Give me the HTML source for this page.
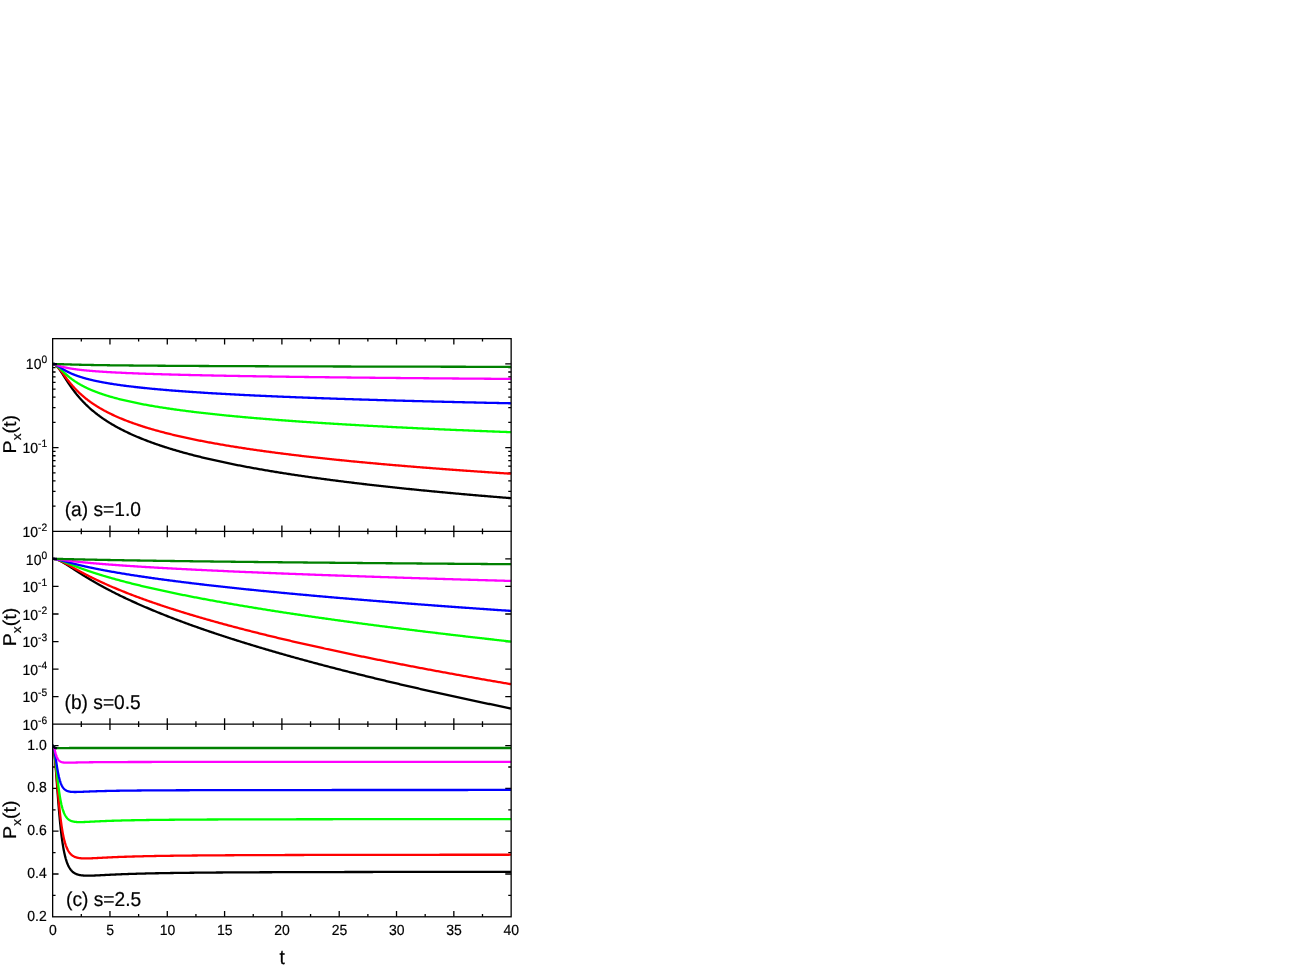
<!DOCTYPE html>
<html><head><meta charset="utf-8"><title>Px(t)</title>
<style>
html,body{margin:0;padding:0;background:#fff;}
body{width:1310px;height:965px;overflow:hidden;position:relative;}
svg{position:absolute;left:0;top:0;display:block;}
text{font-family:"Liberation Sans",sans-serif;fill:#000;stroke:#000;stroke-width:0.2px;}
</style></head>
<body>
<svg width="1310" height="965" viewBox="0 0 1310 965">
<rect x="0" y="0" width="1310" height="965" fill="#ffffff"/>
<defs>
<clipPath id="ca"><rect x="52.65" y="338.65" width="458.5" height="192.70000000000005"/></clipPath>
<clipPath id="cb"><rect x="52.65" y="531.35" width="458.5" height="192.85000000000002"/></clipPath>
<clipPath id="cc"><rect x="52.65" y="724.2" width="458.5" height="192.5999999999999"/></clipPath>
</defs>
<!-- ticks -->
<path d="M81.31,338.65V341.55 M81.31,528.45V534.25 M81.31,721.30V727.10 M81.31,913.90V916.80 M109.96,338.65V344.55 M109.96,525.45V537.25 M109.96,718.30V730.10 M109.96,910.90V916.80 M138.62,338.65V341.55 M138.62,528.45V534.25 M138.62,721.30V727.10 M138.62,913.90V916.80 M167.28,338.65V344.55 M167.28,525.45V537.25 M167.28,718.30V730.10 M167.28,910.90V916.80 M195.93,338.65V341.55 M195.93,528.45V534.25 M195.93,721.30V727.10 M195.93,913.90V916.80 M224.59,338.65V344.55 M224.59,525.45V537.25 M224.59,718.30V730.10 M224.59,910.90V916.80 M253.24,338.65V341.55 M253.24,528.45V534.25 M253.24,721.30V727.10 M253.24,913.90V916.80 M281.90,338.65V344.55 M281.90,525.45V537.25 M281.90,718.30V730.10 M281.90,910.90V916.80 M310.56,338.65V341.55 M310.56,528.45V534.25 M310.56,721.30V727.10 M310.56,913.90V916.80 M339.21,338.65V344.55 M339.21,525.45V537.25 M339.21,718.30V730.10 M339.21,910.90V916.80 M367.87,338.65V341.55 M367.87,528.45V534.25 M367.87,721.30V727.10 M367.87,913.90V916.80 M396.52,338.65V344.55 M396.52,525.45V537.25 M396.52,718.30V730.10 M396.52,910.90V916.80 M425.18,338.65V341.55 M425.18,528.45V534.25 M425.18,721.30V727.10 M425.18,913.90V916.80 M453.84,338.65V344.55 M453.84,525.45V537.25 M453.84,718.30V730.10 M453.84,910.90V916.80 M482.49,338.65V341.55 M482.49,528.45V534.25 M482.49,721.30V727.10 M482.49,913.90V916.80 M52.65,363.86H58.55 M505.25,363.86H511.15 M52.65,447.61H58.55 M505.25,447.61H511.15 M52.65,422.40H55.55 M508.25,422.40H511.15 M52.65,407.65H55.55 M508.25,407.65H511.15 M52.65,397.19H55.55 M508.25,397.19H511.15 M52.65,389.07H55.55 M508.25,389.07H511.15 M52.65,382.44H55.55 M508.25,382.44H511.15 M52.65,376.83H55.55 M508.25,376.83H511.15 M52.65,371.98H55.55 M508.25,371.98H511.15 M52.65,367.69H55.55 M508.25,367.69H511.15 M52.65,506.15H55.55 M508.25,506.15H511.15 M52.65,491.40H55.55 M508.25,491.40H511.15 M52.65,480.94H55.55 M508.25,480.94H511.15 M52.65,472.82H55.55 M508.25,472.82H511.15 M52.65,466.19H55.55 M508.25,466.19H511.15 M52.65,460.58H55.55 M508.25,460.58H511.15 M52.65,455.73H55.55 M508.25,455.73H511.15 M52.65,451.44H55.55 M508.25,451.44H511.15 M52.65,558.90H58.55 M505.25,558.90H511.15 M52.65,586.45H58.55 M505.25,586.45H511.15 M52.65,614.00H58.55 M505.25,614.00H511.15 M52.65,641.55H58.55 M505.25,641.55H511.15 M52.65,669.10H58.55 M505.25,669.10H511.15 M52.65,696.65H58.55 M505.25,696.65H511.15 M52.65,895.40H55.55 M508.25,895.40H511.15 M52.65,874.00H58.55 M505.25,874.00H511.15 M52.65,852.60H55.55 M508.25,852.60H511.15 M52.65,831.20H58.55 M505.25,831.20H511.15 M52.65,809.80H55.55 M508.25,809.80H511.15 M52.65,788.40H58.55 M505.25,788.40H511.15 M52.65,767.00H55.55 M508.25,767.00H511.15 M52.65,745.60H58.55 M505.25,745.60H511.15" stroke="#000" stroke-width="1.3" fill="none"/>
<!-- curves -->
<g clip-path="url(#ca)" fill="none" stroke-width="2.3" stroke-linejoin="round">
<path d="M52.65,364.01 L52.94,364.02 L53.22,364.05 L53.51,364.11 L53.80,364.19 L54.08,364.29 L54.37,364.41 L54.66,364.55 L54.94,364.71 L55.23,364.89 L55.52,365.09 L55.80,365.31 L56.09,365.55 L56.38,365.80 L56.66,366.07 L56.95,366.36 L57.23,366.66 L57.52,366.98 L57.81,367.30 L58.09,367.64 L58.38,368.00 L58.67,368.36 L58.95,368.73 L59.24,369.12 L59.53,369.51 L59.81,369.91 L60.10,370.31 L60.39,370.73 L60.67,371.15 L60.96,371.57 L61.25,372.00 L61.53,372.43 L61.82,372.87 L62.11,373.31 L62.39,373.75 L62.68,374.20 L62.97,374.65 L63.25,375.09 L63.54,375.54 L63.83,375.99 L64.11,376.45 L64.40,376.90 L64.69,377.35 L64.97,377.80 L65.26,378.25 L65.55,378.70 L65.83,379.14 L66.12,379.59 L66.41,380.03 L66.69,380.48 L66.98,380.92 L67.26,381.36 L67.55,381.80 L67.84,382.23 L68.12,382.67 L68.41,383.10 L68.70,383.53 L68.98,383.95 L69.27,384.38 L69.56,384.80 L69.84,385.22 L70.13,385.64 L70.42,386.05 L70.70,386.46 L70.99,386.87 L71.28,387.28 L71.56,387.68 L71.85,388.08 L72.14,388.48 L72.42,388.87 L72.71,389.26 L73.00,389.65 L73.28,390.04 L73.57,390.42 L73.86,390.80 L74.14,391.18 L74.43,391.56 L74.72,391.93 L75.00,392.30 L75.29,392.67 L75.58,393.03 L75.86,393.39 L76.15,393.75 L76.43,394.11 L76.72,394.46 L77.01,394.81 L77.29,395.16 L77.58,395.51 L77.87,395.85 L78.15,396.19 L78.44,396.53 L78.73,396.87 L79.01,397.20 L79.30,397.53 L79.59,397.86 L79.87,398.19 L80.16,398.51 L80.45,398.83 L80.73,399.15 L81.02,399.47 L81.31,399.78 L81.59,400.10 L81.88,400.41 L82.17,400.71 L82.45,401.02 L82.74,401.32 L83.03,401.63 L83.31,401.92 L83.60,402.22 L83.89,402.52 L84.17,402.81 L84.46,403.10 L84.75,403.39 L85.03,403.68 L85.32,403.96 L85.60,404.25 L85.89,404.53 L86.18,404.81 L86.46,405.08 L86.75,405.36 L87.04,405.63 L87.32,405.91 L87.61,406.18 L87.90,406.44 L88.18,406.71 L88.47,406.98 L88.76,407.24 L89.04,407.50 L89.33,407.76 L89.62,408.02 L89.90,408.28 L90.19,408.53 L90.48,408.78 L90.76,409.04 L91.05,409.29 L91.34,409.54 L91.62,409.78 L91.91,410.03 L92.20,410.27 L92.48,410.52 L92.77,410.76 L93.06,411.00 L93.34,411.23 L93.63,411.47 L93.91,411.71 L94.20,411.94 L94.49,412.17 L94.77,412.41 L95.06,412.64 L95.35,412.86 L95.63,413.09 L95.92,413.32 L96.21,413.54 L96.49,413.77 L96.78,413.99 L97.07,414.21 L97.35,414.43 L97.64,414.65 L97.93,414.86 L98.21,415.08 L98.50,415.30 L98.79,415.51 L99.07,415.72 L99.36,415.93 L99.65,416.14 L99.93,416.35 L100.22,416.56 L100.51,416.77 L100.79,416.97 L101.08,417.18 L101.37,417.38 L101.65,417.58 L101.94,417.79 L102.23,417.99 L102.51,418.19 L102.80,418.38 L103.09,418.58 L103.37,418.78 L103.66,418.97 L103.94,419.17 L104.23,419.36 L104.52,419.55 L104.80,419.74 L105.09,419.94 L105.38,420.12 L105.66,420.31 L105.95,420.50 L106.24,420.69 L106.52,420.87 L106.81,421.06 L107.10,421.24 L107.38,421.43 L107.67,421.61 L107.96,421.79 L108.24,421.97 L108.53,422.15 L108.82,422.33 L109.10,422.51 L109.39,422.68 L109.68,422.86 L109.96,423.04 L111.11,423.73 L112.25,424.41 L113.40,425.08 L114.55,425.74 L115.69,426.39 L116.84,427.03 L117.99,427.65 L119.13,428.27 L120.28,428.87 L121.43,429.47 L122.57,430.05 L123.72,430.63 L124.86,431.20 L126.01,431.76 L127.16,432.31 L128.30,432.86 L129.45,433.39 L130.59,433.92 L131.74,434.44 L132.89,434.96 L134.03,435.46 L135.18,435.96 L136.33,436.46 L137.47,436.95 L138.62,437.43 L139.76,437.90 L140.91,438.37 L142.06,438.83 L143.20,439.29 L144.35,439.74 L145.50,440.19 L146.64,440.63 L147.79,441.06 L148.93,441.49 L150.08,441.92 L151.23,442.34 L152.37,442.76 L153.52,443.17 L154.67,443.57 L155.81,443.98 L156.96,444.38 L158.10,444.77 L159.25,445.16 L160.40,445.54 L161.54,445.93 L162.69,446.30 L163.84,446.68 L164.98,447.05 L166.13,447.41 L167.28,447.78 L168.42,448.14 L169.57,448.49 L170.71,448.85 L171.86,449.19 L173.01,449.54 L174.15,449.88 L175.30,450.22 L176.44,450.56 L177.59,450.89 L178.74,451.22 L179.88,451.55 L181.03,451.87 L182.18,452.20 L183.32,452.52 L184.47,452.83 L185.61,453.14 L186.76,453.46 L187.91,453.76 L189.05,454.07 L190.20,454.37 L191.35,454.67 L192.49,454.97 L193.64,455.27 L194.78,455.56 L195.93,455.85 L197.08,456.14 L198.22,456.43 L199.37,456.71 L200.52,456.99 L201.66,457.27 L202.81,457.55 L203.96,457.83 L205.10,458.10 L206.25,458.37 L207.39,458.64 L208.54,458.91 L209.69,459.18 L210.83,459.44 L211.98,459.70 L213.12,459.96 L214.27,460.22 L215.42,460.48 L216.56,460.73 L217.71,460.98 L218.86,461.24 L220.00,461.49 L221.15,461.73 L222.29,461.98 L223.44,462.22 L224.59,462.47 L225.73,462.71 L226.88,462.95 L228.03,463.19 L229.17,463.42 L230.32,463.66 L231.47,463.89 L232.61,464.12 L233.76,464.35 L234.90,464.58 L236.05,464.81 L237.20,465.04 L238.34,465.26 L239.49,465.49 L240.63,465.71 L241.78,465.93 L242.93,466.15 L244.07,466.37 L245.22,466.58 L246.37,466.80 L247.51,467.01 L248.66,467.23 L249.81,467.44 L250.95,467.65 L252.10,467.86 L253.24,468.07 L254.39,468.28 L255.54,468.48 L256.68,468.69 L257.83,468.89 L258.97,469.09 L260.12,469.29 L261.27,469.49 L262.41,469.69 L263.56,469.89 L264.71,470.09 L265.85,470.29 L267.00,470.48 L268.14,470.67 L269.29,470.87 L270.44,471.06 L271.58,471.25 L272.73,471.44 L273.88,471.63 L275.02,471.82 L276.17,472.00 L277.31,472.19 L278.46,472.38 L279.61,472.56 L280.75,472.74 L281.90,472.93 L283.05,473.11 L284.19,473.29 L285.34,473.47 L286.48,473.65 L287.63,473.82 L288.78,474.00 L289.92,474.18 L291.07,474.35 L292.22,474.53 L293.36,474.70 L294.51,474.87 L295.65,475.05 L296.80,475.22 L297.95,475.39 L299.09,475.56 L300.24,475.73 L301.39,475.89 L302.53,476.06 L303.68,476.23 L304.82,476.39 L305.97,476.56 L307.12,476.72 L308.26,476.89 L309.41,477.05 L310.56,477.21 L311.70,477.37 L312.85,477.53 L313.99,477.69 L315.14,477.85 L316.29,478.01 L317.43,478.17 L318.58,478.33 L319.73,478.48 L320.87,478.64 L322.02,478.80 L323.16,478.95 L324.31,479.10 L325.46,479.26 L326.60,479.41 L327.75,479.56 L328.90,479.71 L330.04,479.86 L331.19,480.02 L332.33,480.16 L333.48,480.31 L334.63,480.46 L335.77,480.61 L336.92,480.76 L338.07,480.90 L339.21,481.05 L340.36,481.19 L341.50,481.34 L342.65,481.48 L343.80,481.63 L344.94,481.77 L346.09,481.91 L347.24,482.06 L348.38,482.20 L349.53,482.34 L350.67,482.48 L351.82,482.62 L352.97,482.76 L354.11,482.90 L355.26,483.03 L356.41,483.17 L357.55,483.31 L358.70,483.45 L359.84,483.58 L360.99,483.72 L362.14,483.85 L363.28,483.99 L364.43,484.12 L365.58,484.26 L366.72,484.39 L367.87,484.52 L369.01,484.65 L370.16,484.79 L371.31,484.92 L372.45,485.05 L373.60,485.18 L374.75,485.31 L375.89,485.44 L377.04,485.57 L378.18,485.69 L379.33,485.82 L380.48,485.95 L381.62,486.08 L382.77,486.20 L383.92,486.33 L385.06,486.46 L386.21,486.58 L387.35,486.71 L388.50,486.83 L389.65,486.96 L390.79,487.08 L391.94,487.20 L393.09,487.33 L394.23,487.45 L395.38,487.57 L396.52,487.69 L397.67,487.81 L398.82,487.93 L399.96,488.05 L401.11,488.17 L402.26,488.29 L403.40,488.41 L404.55,488.53 L405.69,488.65 L406.84,488.77 L407.99,488.89 L409.13,489.00 L410.28,489.12 L411.43,489.24 L412.57,489.35 L413.72,489.47 L414.86,489.59 L416.01,489.70 L417.16,489.82 L418.30,489.93 L419.45,490.04 L420.60,490.16 L421.74,490.27 L422.89,490.38 L424.03,490.50 L425.18,490.61 L426.33,490.72 L427.47,490.83 L428.62,490.94 L429.77,491.05 L430.91,491.16 L432.06,491.28 L433.20,491.39 L434.35,491.49 L435.50,491.60 L436.64,491.71 L437.79,491.82 L438.94,491.93 L440.08,492.04 L441.23,492.15 L442.38,492.25 L443.52,492.36 L444.67,492.47 L445.81,492.57 L446.96,492.68 L448.11,492.79 L449.25,492.89 L450.40,493.00 L451.54,493.10 L452.69,493.21 L453.84,493.31 L454.98,493.41 L456.13,493.52 L457.28,493.62 L458.42,493.72 L459.57,493.83 L460.71,493.93 L461.86,494.03 L463.01,494.13 L464.15,494.24 L465.30,494.34 L466.45,494.44 L467.59,494.54 L468.74,494.64 L469.88,494.74 L471.03,494.84 L472.18,494.94 L473.32,495.04 L474.47,495.14 L475.62,495.24 L476.76,495.34 L477.91,495.43 L479.05,495.53 L480.20,495.63 L481.35,495.73 L482.49,495.82 L483.64,495.92 L484.79,496.02 L485.93,496.12 L487.08,496.21 L488.22,496.31 L489.37,496.40 L490.52,496.50 L491.66,496.59 L492.81,496.69 L493.96,496.78 L495.10,496.88 L496.25,496.97 L497.39,497.07 L498.54,497.16 L499.69,497.25 L500.83,497.35 L501.98,497.44 L503.13,497.53 L504.27,497.63 L505.42,497.72 L506.57,497.81 L507.71,497.90 L508.86,497.99 L510.00,498.09 L511.15,498.18" stroke="#000000"/>
<path d="M52.65,364.01 L52.94,364.02 L53.22,364.05 L53.51,364.10 L53.80,364.18 L54.08,364.27 L54.37,364.38 L54.66,364.51 L54.94,364.66 L55.23,364.83 L55.52,365.02 L55.80,365.22 L56.09,365.44 L56.38,365.68 L56.66,365.93 L56.95,366.19 L57.23,366.47 L57.52,366.76 L57.81,367.06 L58.09,367.37 L58.38,367.69 L58.67,368.02 L58.95,368.36 L59.24,368.70 L59.53,369.05 L59.81,369.41 L60.10,369.78 L60.39,370.14 L60.67,370.52 L60.96,370.89 L61.25,371.27 L61.53,371.66 L61.82,372.04 L62.11,372.43 L62.39,372.82 L62.68,373.21 L62.97,373.60 L63.25,373.99 L63.54,374.38 L63.83,374.77 L64.11,375.16 L64.40,375.55 L64.69,375.94 L64.97,376.32 L65.26,376.71 L65.55,377.10 L65.83,377.48 L66.12,377.86 L66.41,378.24 L66.69,378.62 L66.98,378.99 L67.26,379.37 L67.55,379.74 L67.84,380.11 L68.12,380.48 L68.41,380.84 L68.70,381.20 L68.98,381.56 L69.27,381.92 L69.56,382.27 L69.84,382.62 L70.13,382.97 L70.42,383.32 L70.70,383.67 L70.99,384.01 L71.28,384.35 L71.56,384.68 L71.85,385.02 L72.14,385.35 L72.42,385.68 L72.71,386.00 L73.00,386.32 L73.28,386.65 L73.57,386.96 L73.86,387.28 L74.14,387.59 L74.43,387.90 L74.72,388.21 L75.00,388.52 L75.29,388.82 L75.58,389.12 L75.86,389.42 L76.15,389.72 L76.43,390.01 L76.72,390.30 L77.01,390.59 L77.29,390.88 L77.58,391.16 L77.87,391.44 L78.15,391.72 L78.44,392.00 L78.73,392.28 L79.01,392.55 L79.30,392.82 L79.59,393.09 L79.87,393.36 L80.16,393.62 L80.45,393.89 L80.73,394.15 L81.02,394.41 L81.31,394.66 L81.59,394.92 L81.88,395.17 L82.17,395.42 L82.45,395.67 L82.74,395.92 L83.03,396.17 L83.31,396.41 L83.60,396.65 L83.89,396.89 L84.17,397.13 L84.46,397.37 L84.75,397.61 L85.03,397.84 L85.32,398.07 L85.60,398.30 L85.89,398.53 L86.18,398.76 L86.46,398.98 L86.75,399.21 L87.04,399.43 L87.32,399.65 L87.61,399.87 L87.90,400.09 L88.18,400.31 L88.47,400.52 L88.76,400.73 L89.04,400.95 L89.33,401.16 L89.62,401.37 L89.90,401.58 L90.19,401.78 L90.48,401.99 L90.76,402.19 L91.05,402.40 L91.34,402.60 L91.62,402.80 L91.91,403.00 L92.20,403.19 L92.48,403.39 L92.77,403.59 L93.06,403.78 L93.34,403.97 L93.63,404.16 L93.91,404.35 L94.20,404.54 L94.49,404.73 L94.77,404.92 L95.06,405.11 L95.35,405.29 L95.63,405.47 L95.92,405.66 L96.21,405.84 L96.49,406.02 L96.78,406.20 L97.07,406.38 L97.35,406.56 L97.64,406.73 L97.93,406.91 L98.21,407.08 L98.50,407.26 L98.79,407.43 L99.07,407.60 L99.36,407.77 L99.65,407.94 L99.93,408.11 L100.22,408.28 L100.51,408.44 L100.79,408.61 L101.08,408.77 L101.37,408.94 L101.65,409.10 L101.94,409.26 L102.23,409.43 L102.51,409.59 L102.80,409.75 L103.09,409.91 L103.37,410.06 L103.66,410.22 L103.94,410.38 L104.23,410.54 L104.52,410.69 L104.80,410.84 L105.09,411.00 L105.38,411.15 L105.66,411.30 L105.95,411.45 L106.24,411.60 L106.52,411.75 L106.81,411.90 L107.10,412.05 L107.38,412.20 L107.67,412.35 L107.96,412.49 L108.24,412.64 L108.53,412.78 L108.82,412.93 L109.10,413.07 L109.39,413.21 L109.68,413.36 L109.96,413.50 L111.11,414.06 L112.25,414.60 L113.40,415.14 L114.55,415.67 L115.69,416.19 L116.84,416.71 L117.99,417.21 L119.13,417.70 L120.28,418.19 L121.43,418.67 L122.57,419.14 L123.72,419.60 L124.86,420.06 L126.01,420.51 L127.16,420.96 L128.30,421.39 L129.45,421.82 L130.59,422.25 L131.74,422.67 L132.89,423.08 L134.03,423.49 L135.18,423.89 L136.33,424.28 L137.47,424.67 L138.62,425.06 L139.76,425.44 L140.91,425.82 L142.06,426.19 L143.20,426.56 L144.35,426.92 L145.50,427.28 L146.64,427.63 L147.79,427.98 L148.93,428.32 L150.08,428.67 L151.23,429.00 L152.37,429.34 L153.52,429.67 L154.67,429.99 L155.81,430.32 L156.96,430.63 L158.10,430.95 L159.25,431.26 L160.40,431.57 L161.54,431.88 L162.69,432.18 L163.84,432.48 L164.98,432.78 L166.13,433.07 L167.28,433.36 L168.42,433.65 L169.57,433.94 L170.71,434.22 L171.86,434.50 L173.01,434.78 L174.15,435.05 L175.30,435.32 L176.44,435.59 L177.59,435.86 L178.74,436.12 L179.88,436.39 L181.03,436.65 L182.18,436.90 L183.32,437.16 L184.47,437.41 L185.61,437.66 L186.76,437.91 L187.91,438.16 L189.05,438.40 L190.20,438.65 L191.35,438.89 L192.49,439.13 L193.64,439.36 L194.78,439.60 L195.93,439.83 L197.08,440.06 L198.22,440.29 L199.37,440.52 L200.52,440.75 L201.66,440.97 L202.81,441.19 L203.96,441.41 L205.10,441.63 L206.25,441.85 L207.39,442.07 L208.54,442.28 L209.69,442.50 L210.83,442.71 L211.98,442.92 L213.12,443.13 L214.27,443.33 L215.42,443.54 L216.56,443.74 L217.71,443.94 L218.86,444.15 L220.00,444.35 L221.15,444.54 L222.29,444.74 L223.44,444.94 L224.59,445.13 L225.73,445.32 L226.88,445.52 L228.03,445.71 L229.17,445.90 L230.32,446.09 L231.47,446.27 L232.61,446.46 L233.76,446.64 L234.90,446.83 L236.05,447.01 L237.20,447.19 L238.34,447.37 L239.49,447.55 L240.63,447.73 L241.78,447.90 L242.93,448.08 L244.07,448.26 L245.22,448.43 L246.37,448.60 L247.51,448.77 L248.66,448.94 L249.81,449.11 L250.95,449.28 L252.10,449.45 L253.24,449.62 L254.39,449.78 L255.54,449.95 L256.68,450.11 L257.83,450.28 L258.97,450.44 L260.12,450.60 L261.27,450.76 L262.41,450.92 L263.56,451.08 L264.71,451.24 L265.85,451.39 L267.00,451.55 L268.14,451.70 L269.29,451.86 L270.44,452.01 L271.58,452.17 L272.73,452.32 L273.88,452.47 L275.02,452.62 L276.17,452.77 L277.31,452.92 L278.46,453.07 L279.61,453.21 L280.75,453.36 L281.90,453.51 L283.05,453.65 L284.19,453.80 L285.34,453.94 L286.48,454.08 L287.63,454.23 L288.78,454.37 L289.92,454.51 L291.07,454.65 L292.22,454.79 L293.36,454.93 L294.51,455.07 L295.65,455.20 L296.80,455.34 L297.95,455.48 L299.09,455.61 L300.24,455.75 L301.39,455.88 L302.53,456.02 L303.68,456.15 L304.82,456.28 L305.97,456.42 L307.12,456.55 L308.26,456.68 L309.41,456.81 L310.56,456.94 L311.70,457.07 L312.85,457.20 L313.99,457.33 L315.14,457.45 L316.29,457.58 L317.43,457.71 L318.58,457.83 L319.73,457.96 L320.87,458.08 L322.02,458.21 L323.16,458.33 L324.31,458.45 L325.46,458.58 L326.60,458.70 L327.75,458.82 L328.90,458.94 L330.04,459.06 L331.19,459.18 L332.33,459.30 L333.48,459.42 L334.63,459.54 L335.77,459.66 L336.92,459.78 L338.07,459.89 L339.21,460.01 L340.36,460.13 L341.50,460.24 L342.65,460.36 L343.80,460.47 L344.94,460.59 L346.09,460.70 L347.24,460.82 L348.38,460.93 L349.53,461.04 L350.67,461.15 L351.82,461.27 L352.97,461.38 L354.11,461.49 L355.26,461.60 L356.41,461.71 L357.55,461.82 L358.70,461.93 L359.84,462.04 L360.99,462.15 L362.14,462.26 L363.28,462.36 L364.43,462.47 L365.58,462.58 L366.72,462.68 L367.87,462.79 L369.01,462.90 L370.16,463.00 L371.31,463.11 L372.45,463.21 L373.60,463.32 L374.75,463.42 L375.89,463.52 L377.04,463.63 L378.18,463.73 L379.33,463.83 L380.48,463.93 L381.62,464.04 L382.77,464.14 L383.92,464.24 L385.06,464.34 L386.21,464.44 L387.35,464.54 L388.50,464.64 L389.65,464.74 L390.79,464.84 L391.94,464.94 L393.09,465.04 L394.23,465.13 L395.38,465.23 L396.52,465.33 L397.67,465.43 L398.82,465.52 L399.96,465.62 L401.11,465.71 L402.26,465.81 L403.40,465.91 L404.55,466.00 L405.69,466.10 L406.84,466.19 L407.99,466.29 L409.13,466.38 L410.28,466.47 L411.43,466.57 L412.57,466.66 L413.72,466.75 L414.86,466.84 L416.01,466.94 L417.16,467.03 L418.30,467.12 L419.45,467.21 L420.60,467.30 L421.74,467.39 L422.89,467.48 L424.03,467.57 L425.18,467.66 L426.33,467.75 L427.47,467.84 L428.62,467.93 L429.77,468.02 L430.91,468.11 L432.06,468.20 L433.20,468.29 L434.35,468.37 L435.50,468.46 L436.64,468.55 L437.79,468.63 L438.94,468.72 L440.08,468.81 L441.23,468.89 L442.38,468.98 L443.52,469.07 L444.67,469.15 L445.81,469.24 L446.96,469.32 L448.11,469.41 L449.25,469.49 L450.40,469.57 L451.54,469.66 L452.69,469.74 L453.84,469.83 L454.98,469.91 L456.13,469.99 L457.28,470.07 L458.42,470.16 L459.57,470.24 L460.71,470.32 L461.86,470.40 L463.01,470.49 L464.15,470.57 L465.30,470.65 L466.45,470.73 L467.59,470.81 L468.74,470.89 L469.88,470.97 L471.03,471.05 L472.18,471.13 L473.32,471.21 L474.47,471.29 L475.62,471.37 L476.76,471.45 L477.91,471.53 L479.05,471.60 L480.20,471.68 L481.35,471.76 L482.49,471.84 L483.64,471.92 L484.79,471.99 L485.93,472.07 L487.08,472.15 L488.22,472.23 L489.37,472.30 L490.52,472.38 L491.66,472.46 L492.81,472.53 L493.96,472.61 L495.10,472.68 L496.25,472.76 L497.39,472.83 L498.54,472.91 L499.69,472.98 L500.83,473.06 L501.98,473.13 L503.13,473.21 L504.27,473.28 L505.42,473.36 L506.57,473.43 L507.71,473.50 L508.86,473.58 L510.00,473.65 L511.15,473.72" stroke="#ff0000"/>
<path d="M52.65,364.01 L52.94,364.02 L53.22,364.05 L53.51,364.09 L53.80,364.16 L54.08,364.24 L54.37,364.33 L54.66,364.45 L54.94,364.58 L55.23,364.72 L55.52,364.88 L55.80,365.05 L56.09,365.24 L56.38,365.43 L56.66,365.64 L56.95,365.86 L57.23,366.08 L57.52,366.32 L57.81,366.56 L58.09,366.81 L58.38,367.06 L58.67,367.32 L58.95,367.59 L59.24,367.85 L59.53,368.12 L59.81,368.40 L60.10,368.68 L60.39,368.95 L60.67,369.23 L60.96,369.51 L61.25,369.79 L61.53,370.07 L61.82,370.35 L62.11,370.64 L62.39,370.92 L62.68,371.19 L62.97,371.47 L63.25,371.75 L63.54,372.02 L63.83,372.30 L64.11,372.57 L64.40,372.84 L64.69,373.11 L64.97,373.38 L65.26,373.64 L65.55,373.90 L65.83,374.16 L66.12,374.42 L66.41,374.68 L66.69,374.93 L66.98,375.18 L67.26,375.43 L67.55,375.68 L67.84,375.92 L68.12,376.17 L68.41,376.41 L68.70,376.65 L68.98,376.88 L69.27,377.11 L69.56,377.35 L69.84,377.57 L70.13,377.80 L70.42,378.03 L70.70,378.25 L70.99,378.47 L71.28,378.69 L71.56,378.90 L71.85,379.12 L72.14,379.33 L72.42,379.54 L72.71,379.74 L73.00,379.95 L73.28,380.15 L73.57,380.36 L73.86,380.56 L74.14,380.75 L74.43,380.95 L74.72,381.14 L75.00,381.34 L75.29,381.53 L75.58,381.71 L75.86,381.90 L76.15,382.09 L76.43,382.27 L76.72,382.45 L77.01,382.63 L77.29,382.81 L77.58,382.99 L77.87,383.16 L78.15,383.34 L78.44,383.51 L78.73,383.68 L79.01,383.85 L79.30,384.02 L79.59,384.18 L79.87,384.35 L80.16,384.51 L80.45,384.68 L80.73,384.84 L81.02,385.00 L81.31,385.15 L81.59,385.31 L81.88,385.47 L82.17,385.62 L82.45,385.77 L82.74,385.93 L83.03,386.08 L83.31,386.23 L83.60,386.37 L83.89,386.52 L84.17,386.67 L84.46,386.81 L84.75,386.96 L85.03,387.10 L85.32,387.24 L85.60,387.38 L85.89,387.52 L86.18,387.66 L86.46,387.80 L86.75,387.93 L87.04,388.07 L87.32,388.20 L87.61,388.34 L87.90,388.47 L88.18,388.60 L88.47,388.73 L88.76,388.86 L89.04,388.99 L89.33,389.12 L89.62,389.24 L89.90,389.37 L90.19,389.49 L90.48,389.62 L90.76,389.74 L91.05,389.87 L91.34,389.99 L91.62,390.11 L91.91,390.23 L92.20,390.35 L92.48,390.47 L92.77,390.58 L93.06,390.70 L93.34,390.82 L93.63,390.93 L93.91,391.05 L94.20,391.16 L94.49,391.28 L94.77,391.39 L95.06,391.50 L95.35,391.61 L95.63,391.72 L95.92,391.83 L96.21,391.94 L96.49,392.05 L96.78,392.16 L97.07,392.27 L97.35,392.37 L97.64,392.48 L97.93,392.58 L98.21,392.69 L98.50,392.79 L98.79,392.90 L99.07,393.00 L99.36,393.10 L99.65,393.20 L99.93,393.31 L100.22,393.41 L100.51,393.51 L100.79,393.61 L101.08,393.70 L101.37,393.80 L101.65,393.90 L101.94,394.00 L102.23,394.10 L102.51,394.19 L102.80,394.29 L103.09,394.38 L103.37,394.48 L103.66,394.57 L103.94,394.67 L104.23,394.76 L104.52,394.85 L104.80,394.94 L105.09,395.04 L105.38,395.13 L105.66,395.22 L105.95,395.31 L106.24,395.40 L106.52,395.49 L106.81,395.58 L107.10,395.67 L107.38,395.75 L107.67,395.84 L107.96,395.93 L108.24,396.02 L108.53,396.10 L108.82,396.19 L109.10,396.27 L109.39,396.36 L109.68,396.45 L109.96,396.53 L111.11,396.86 L112.25,397.19 L113.40,397.51 L114.55,397.83 L115.69,398.14 L116.84,398.44 L117.99,398.74 L119.13,399.04 L120.28,399.33 L121.43,399.61 L122.57,399.89 L123.72,400.17 L124.86,400.44 L126.01,400.71 L127.16,400.97 L128.30,401.23 L129.45,401.49 L130.59,401.74 L131.74,401.99 L132.89,402.23 L134.03,402.47 L135.18,402.71 L136.33,402.95 L137.47,403.18 L138.62,403.41 L139.76,403.64 L140.91,403.86 L142.06,404.08 L143.20,404.30 L144.35,404.51 L145.50,404.72 L146.64,404.93 L147.79,405.14 L148.93,405.34 L150.08,405.55 L151.23,405.75 L152.37,405.94 L153.52,406.14 L154.67,406.33 L155.81,406.52 L156.96,406.71 L158.10,406.90 L159.25,407.09 L160.40,407.27 L161.54,407.45 L162.69,407.63 L163.84,407.81 L164.98,407.98 L166.13,408.16 L167.28,408.33 L168.42,408.50 L169.57,408.67 L170.71,408.84 L171.86,409.00 L173.01,409.17 L174.15,409.33 L175.30,409.49 L176.44,409.65 L177.59,409.81 L178.74,409.96 L179.88,410.12 L181.03,410.27 L182.18,410.43 L183.32,410.58 L184.47,410.73 L185.61,410.88 L186.76,411.02 L187.91,411.17 L189.05,411.31 L190.20,411.46 L191.35,411.60 L192.49,411.74 L193.64,411.88 L194.78,412.02 L195.93,412.16 L197.08,412.30 L198.22,412.43 L199.37,412.57 L200.52,412.70 L201.66,412.83 L202.81,412.96 L203.96,413.09 L205.10,413.22 L206.25,413.35 L207.39,413.48 L208.54,413.61 L209.69,413.73 L210.83,413.86 L211.98,413.98 L213.12,414.11 L214.27,414.23 L215.42,414.35 L216.56,414.47 L217.71,414.59 L218.86,414.71 L220.00,414.83 L221.15,414.94 L222.29,415.06 L223.44,415.18 L224.59,415.29 L225.73,415.41 L226.88,415.52 L228.03,415.63 L229.17,415.74 L230.32,415.86 L231.47,415.97 L232.61,416.08 L233.76,416.19 L234.90,416.29 L236.05,416.40 L237.20,416.51 L238.34,416.62 L239.49,416.72 L240.63,416.83 L241.78,416.93 L242.93,417.04 L244.07,417.14 L245.22,417.24 L246.37,417.34 L247.51,417.44 L248.66,417.55 L249.81,417.65 L250.95,417.75 L252.10,417.84 L253.24,417.94 L254.39,418.04 L255.54,418.14 L256.68,418.24 L257.83,418.33 L258.97,418.43 L260.12,418.52 L261.27,418.62 L262.41,418.71 L263.56,418.81 L264.71,418.90 L265.85,418.99 L267.00,419.08 L268.14,419.18 L269.29,419.27 L270.44,419.36 L271.58,419.45 L272.73,419.54 L273.88,419.63 L275.02,419.72 L276.17,419.81 L277.31,419.89 L278.46,419.98 L279.61,420.07 L280.75,420.16 L281.90,420.24 L283.05,420.33 L284.19,420.41 L285.34,420.50 L286.48,420.58 L287.63,420.67 L288.78,420.75 L289.92,420.83 L291.07,420.92 L292.22,421.00 L293.36,421.08 L294.51,421.16 L295.65,421.25 L296.80,421.33 L297.95,421.41 L299.09,421.49 L300.24,421.57 L301.39,421.65 L302.53,421.73 L303.68,421.80 L304.82,421.88 L305.97,421.96 L307.12,422.04 L308.26,422.12 L309.41,422.19 L310.56,422.27 L311.70,422.35 L312.85,422.42 L313.99,422.50 L315.14,422.57 L316.29,422.65 L317.43,422.72 L318.58,422.80 L319.73,422.87 L320.87,422.95 L322.02,423.02 L323.16,423.09 L324.31,423.16 L325.46,423.24 L326.60,423.31 L327.75,423.38 L328.90,423.45 L330.04,423.52 L331.19,423.60 L332.33,423.67 L333.48,423.74 L334.63,423.81 L335.77,423.88 L336.92,423.95 L338.07,424.02 L339.21,424.08 L340.36,424.15 L341.50,424.22 L342.65,424.29 L343.80,424.36 L344.94,424.43 L346.09,424.49 L347.24,424.56 L348.38,424.63 L349.53,424.69 L350.67,424.76 L351.82,424.83 L352.97,424.89 L354.11,424.96 L355.26,425.02 L356.41,425.09 L357.55,425.15 L358.70,425.22 L359.84,425.28 L360.99,425.35 L362.14,425.41 L363.28,425.47 L364.43,425.54 L365.58,425.60 L366.72,425.66 L367.87,425.73 L369.01,425.79 L370.16,425.85 L371.31,425.91 L372.45,425.97 L373.60,426.04 L374.75,426.10 L375.89,426.16 L377.04,426.22 L378.18,426.28 L379.33,426.34 L380.48,426.40 L381.62,426.46 L382.77,426.52 L383.92,426.58 L385.06,426.64 L386.21,426.70 L387.35,426.76 L388.50,426.82 L389.65,426.88 L390.79,426.94 L391.94,426.99 L393.09,427.05 L394.23,427.11 L395.38,427.17 L396.52,427.23 L397.67,427.28 L398.82,427.34 L399.96,427.40 L401.11,427.45 L402.26,427.51 L403.40,427.57 L404.55,427.62 L405.69,427.68 L406.84,427.73 L407.99,427.79 L409.13,427.85 L410.28,427.90 L411.43,427.96 L412.57,428.01 L413.72,428.07 L414.86,428.12 L416.01,428.17 L417.16,428.23 L418.30,428.28 L419.45,428.34 L420.60,428.39 L421.74,428.44 L422.89,428.50 L424.03,428.55 L425.18,428.60 L426.33,428.66 L427.47,428.71 L428.62,428.76 L429.77,428.82 L430.91,428.87 L432.06,428.92 L433.20,428.97 L434.35,429.02 L435.50,429.08 L436.64,429.13 L437.79,429.18 L438.94,429.23 L440.08,429.28 L441.23,429.33 L442.38,429.38 L443.52,429.43 L444.67,429.48 L445.81,429.53 L446.96,429.58 L448.11,429.63 L449.25,429.68 L450.40,429.73 L451.54,429.78 L452.69,429.83 L453.84,429.88 L454.98,429.93 L456.13,429.98 L457.28,430.03 L458.42,430.08 L459.57,430.13 L460.71,430.17 L461.86,430.22 L463.01,430.27 L464.15,430.32 L465.30,430.37 L466.45,430.41 L467.59,430.46 L468.74,430.51 L469.88,430.56 L471.03,430.60 L472.18,430.65 L473.32,430.70 L474.47,430.75 L475.62,430.79 L476.76,430.84 L477.91,430.89 L479.05,430.93 L480.20,430.98 L481.35,431.02 L482.49,431.07 L483.64,431.12 L484.79,431.16 L485.93,431.21 L487.08,431.25 L488.22,431.30 L489.37,431.34 L490.52,431.39 L491.66,431.43 L492.81,431.48 L493.96,431.52 L495.10,431.57 L496.25,431.61 L497.39,431.66 L498.54,431.70 L499.69,431.75 L500.83,431.79 L501.98,431.83 L503.13,431.88 L504.27,431.92 L505.42,431.97 L506.57,432.01 L507.71,432.05 L508.86,432.10 L510.00,432.14 L511.15,432.18" stroke="#00ff00"/>
<path d="M52.65,364.01 L52.94,364.02 L53.22,364.04 L53.51,364.07 L53.80,364.12 L54.08,364.18 L54.37,364.26 L54.66,364.35 L54.94,364.44 L55.23,364.55 L55.52,364.67 L55.80,364.80 L56.09,364.94 L56.38,365.08 L56.66,365.23 L56.95,365.39 L57.23,365.55 L57.52,365.72 L57.81,365.89 L58.09,366.06 L58.38,366.24 L58.67,366.42 L58.95,366.60 L59.24,366.78 L59.53,366.97 L59.81,367.15 L60.10,367.33 L60.39,367.52 L60.67,367.70 L60.96,367.89 L61.25,368.07 L61.53,368.25 L61.82,368.43 L62.11,368.61 L62.39,368.79 L62.68,368.96 L62.97,369.14 L63.25,369.31 L63.54,369.49 L63.83,369.66 L64.11,369.82 L64.40,369.99 L64.69,370.16 L64.97,370.32 L65.26,370.48 L65.55,370.64 L65.83,370.80 L66.12,370.96 L66.41,371.11 L66.69,371.26 L66.98,371.42 L67.26,371.56 L67.55,371.71 L67.84,371.86 L68.12,372.00 L68.41,372.14 L68.70,372.29 L68.98,372.43 L69.27,372.56 L69.56,372.70 L69.84,372.83 L70.13,372.97 L70.42,373.10 L70.70,373.23 L70.99,373.36 L71.28,373.48 L71.56,373.61 L71.85,373.73 L72.14,373.86 L72.42,373.98 L72.71,374.10 L73.00,374.22 L73.28,374.34 L73.57,374.45 L73.86,374.57 L74.14,374.68 L74.43,374.79 L74.72,374.91 L75.00,375.02 L75.29,375.13 L75.58,375.23 L75.86,375.34 L76.15,375.45 L76.43,375.55 L76.72,375.66 L77.01,375.76 L77.29,375.86 L77.58,375.96 L77.87,376.06 L78.15,376.16 L78.44,376.26 L78.73,376.36 L79.01,376.45 L79.30,376.55 L79.59,376.64 L79.87,376.74 L80.16,376.83 L80.45,376.92 L80.73,377.01 L81.02,377.10 L81.31,377.19 L81.59,377.28 L81.88,377.37 L82.17,377.46 L82.45,377.55 L82.74,377.63 L83.03,377.72 L83.31,377.80 L83.60,377.88 L83.89,377.97 L84.17,378.05 L84.46,378.13 L84.75,378.21 L85.03,378.29 L85.32,378.37 L85.60,378.45 L85.89,378.53 L86.18,378.61 L86.46,378.69 L86.75,378.76 L87.04,378.84 L87.32,378.91 L87.61,378.99 L87.90,379.06 L88.18,379.14 L88.47,379.21 L88.76,379.28 L89.04,379.36 L89.33,379.43 L89.62,379.50 L89.90,379.57 L90.19,379.64 L90.48,379.71 L90.76,379.78 L91.05,379.85 L91.34,379.92 L91.62,379.98 L91.91,380.05 L92.20,380.12 L92.48,380.18 L92.77,380.25 L93.06,380.32 L93.34,380.38 L93.63,380.45 L93.91,380.51 L94.20,380.57 L94.49,380.64 L94.77,380.70 L95.06,380.76 L95.35,380.82 L95.63,380.89 L95.92,380.95 L96.21,381.01 L96.49,381.07 L96.78,381.13 L97.07,381.19 L97.35,381.25 L97.64,381.31 L97.93,381.37 L98.21,381.43 L98.50,381.48 L98.79,381.54 L99.07,381.60 L99.36,381.66 L99.65,381.71 L99.93,381.77 L100.22,381.83 L100.51,381.88 L100.79,381.94 L101.08,381.99 L101.37,382.05 L101.65,382.10 L101.94,382.16 L102.23,382.21 L102.51,382.26 L102.80,382.32 L103.09,382.37 L103.37,382.42 L103.66,382.48 L103.94,382.53 L104.23,382.58 L104.52,382.63 L104.80,382.68 L105.09,382.73 L105.38,382.79 L105.66,382.84 L105.95,382.89 L106.24,382.94 L106.52,382.99 L106.81,383.04 L107.10,383.09 L107.38,383.13 L107.67,383.18 L107.96,383.23 L108.24,383.28 L108.53,383.33 L108.82,383.38 L109.10,383.42 L109.39,383.47 L109.68,383.52 L109.96,383.57 L111.11,383.75 L112.25,383.93 L113.40,384.11 L114.55,384.29 L115.69,384.46 L116.84,384.63 L117.99,384.80 L119.13,384.96 L120.28,385.12 L121.43,385.28 L122.57,385.43 L123.72,385.59 L124.86,385.74 L126.01,385.89 L127.16,386.03 L128.30,386.18 L129.45,386.32 L130.59,386.46 L131.74,386.60 L132.89,386.73 L134.03,386.86 L135.18,387.00 L136.33,387.13 L137.47,387.26 L138.62,387.38 L139.76,387.51 L140.91,387.63 L142.06,387.75 L143.20,387.87 L144.35,387.99 L145.50,388.11 L146.64,388.23 L147.79,388.34 L148.93,388.45 L150.08,388.57 L151.23,388.68 L152.37,388.79 L153.52,388.90 L154.67,389.00 L155.81,389.11 L156.96,389.21 L158.10,389.32 L159.25,389.42 L160.40,389.52 L161.54,389.62 L162.69,389.72 L163.84,389.82 L164.98,389.92 L166.13,390.01 L167.28,390.11 L168.42,390.20 L169.57,390.29 L170.71,390.39 L171.86,390.48 L173.01,390.57 L174.15,390.66 L175.30,390.75 L176.44,390.84 L177.59,390.92 L178.74,391.01 L179.88,391.10 L181.03,391.18 L182.18,391.27 L183.32,391.35 L184.47,391.43 L185.61,391.51 L186.76,391.60 L187.91,391.68 L189.05,391.76 L190.20,391.84 L191.35,391.92 L192.49,391.99 L193.64,392.07 L194.78,392.15 L195.93,392.22 L197.08,392.30 L198.22,392.38 L199.37,392.45 L200.52,392.52 L201.66,392.60 L202.81,392.67 L203.96,392.74 L205.10,392.81 L206.25,392.88 L207.39,392.96 L208.54,393.03 L209.69,393.10 L210.83,393.16 L211.98,393.23 L213.12,393.30 L214.27,393.37 L215.42,393.44 L216.56,393.50 L217.71,393.57 L218.86,393.63 L220.00,393.70 L221.15,393.76 L222.29,393.83 L223.44,393.89 L224.59,393.96 L225.73,394.02 L226.88,394.08 L228.03,394.14 L229.17,394.21 L230.32,394.27 L231.47,394.33 L232.61,394.39 L233.76,394.45 L234.90,394.51 L236.05,394.57 L237.20,394.63 L238.34,394.69 L239.49,394.75 L240.63,394.80 L241.78,394.86 L242.93,394.92 L244.07,394.98 L245.22,395.03 L246.37,395.09 L247.51,395.15 L248.66,395.20 L249.81,395.26 L250.95,395.31 L252.10,395.37 L253.24,395.42 L254.39,395.48 L255.54,395.53 L256.68,395.58 L257.83,395.64 L258.97,395.69 L260.12,395.74 L261.27,395.80 L262.41,395.85 L263.56,395.90 L264.71,395.95 L265.85,396.00 L267.00,396.05 L268.14,396.10 L269.29,396.15 L270.44,396.20 L271.58,396.25 L272.73,396.30 L273.88,396.35 L275.02,396.40 L276.17,396.45 L277.31,396.50 L278.46,396.55 L279.61,396.60 L280.75,396.64 L281.90,396.69 L283.05,396.74 L284.19,396.79 L285.34,396.83 L286.48,396.88 L287.63,396.93 L288.78,396.97 L289.92,397.02 L291.07,397.07 L292.22,397.11 L293.36,397.16 L294.51,397.20 L295.65,397.25 L296.80,397.29 L297.95,397.34 L299.09,397.38 L300.24,397.42 L301.39,397.47 L302.53,397.51 L303.68,397.56 L304.82,397.60 L305.97,397.64 L307.12,397.68 L308.26,397.73 L309.41,397.77 L310.56,397.81 L311.70,397.85 L312.85,397.90 L313.99,397.94 L315.14,397.98 L316.29,398.02 L317.43,398.06 L318.58,398.10 L319.73,398.15 L320.87,398.19 L322.02,398.23 L323.16,398.27 L324.31,398.31 L325.46,398.35 L326.60,398.39 L327.75,398.43 L328.90,398.47 L330.04,398.51 L331.19,398.54 L332.33,398.58 L333.48,398.62 L334.63,398.66 L335.77,398.70 L336.92,398.74 L338.07,398.78 L339.21,398.82 L340.36,398.85 L341.50,398.89 L342.65,398.93 L343.80,398.97 L344.94,399.00 L346.09,399.04 L347.24,399.08 L348.38,399.11 L349.53,399.15 L350.67,399.19 L351.82,399.22 L352.97,399.26 L354.11,399.30 L355.26,399.33 L356.41,399.37 L357.55,399.41 L358.70,399.44 L359.84,399.48 L360.99,399.51 L362.14,399.55 L363.28,399.58 L364.43,399.62 L365.58,399.65 L366.72,399.69 L367.87,399.72 L369.01,399.76 L370.16,399.79 L371.31,399.83 L372.45,399.86 L373.60,399.89 L374.75,399.93 L375.89,399.96 L377.04,400.00 L378.18,400.03 L379.33,400.06 L380.48,400.10 L381.62,400.13 L382.77,400.16 L383.92,400.19 L385.06,400.23 L386.21,400.26 L387.35,400.29 L388.50,400.33 L389.65,400.36 L390.79,400.39 L391.94,400.42 L393.09,400.45 L394.23,400.49 L395.38,400.52 L396.52,400.55 L397.67,400.58 L398.82,400.61 L399.96,400.65 L401.11,400.68 L402.26,400.71 L403.40,400.74 L404.55,400.77 L405.69,400.80 L406.84,400.83 L407.99,400.86 L409.13,400.89 L410.28,400.92 L411.43,400.95 L412.57,400.98 L413.72,401.01 L414.86,401.04 L416.01,401.07 L417.16,401.10 L418.30,401.13 L419.45,401.16 L420.60,401.19 L421.74,401.22 L422.89,401.25 L424.03,401.28 L425.18,401.31 L426.33,401.34 L427.47,401.37 L428.62,401.40 L429.77,401.43 L430.91,401.46 L432.06,401.49 L433.20,401.52 L434.35,401.54 L435.50,401.57 L436.64,401.60 L437.79,401.63 L438.94,401.66 L440.08,401.69 L441.23,401.71 L442.38,401.74 L443.52,401.77 L444.67,401.80 L445.81,401.83 L446.96,401.85 L448.11,401.88 L449.25,401.91 L450.40,401.94 L451.54,401.96 L452.69,401.99 L453.84,402.02 L454.98,402.04 L456.13,402.07 L457.28,402.10 L458.42,402.13 L459.57,402.15 L460.71,402.18 L461.86,402.21 L463.01,402.23 L464.15,402.26 L465.30,402.29 L466.45,402.31 L467.59,402.34 L468.74,402.36 L469.88,402.39 L471.03,402.42 L472.18,402.44 L473.32,402.47 L474.47,402.49 L475.62,402.52 L476.76,402.55 L477.91,402.57 L479.05,402.60 L480.20,402.62 L481.35,402.65 L482.49,402.67 L483.64,402.70 L484.79,402.73 L485.93,402.75 L487.08,402.78 L488.22,402.80 L489.37,402.83 L490.52,402.85 L491.66,402.88 L492.81,402.90 L493.96,402.92 L495.10,402.95 L496.25,402.97 L497.39,403.00 L498.54,403.02 L499.69,403.05 L500.83,403.07 L501.98,403.10 L503.13,403.12 L504.27,403.14 L505.42,403.17 L506.57,403.19 L507.71,403.22 L508.86,403.24 L510.00,403.26 L511.15,403.29" stroke="#0000ff"/>
<path d="M52.65,364.01 L52.94,364.02 L53.22,364.03 L53.51,364.06 L53.80,364.11 L54.08,364.16 L54.37,364.22 L54.66,364.29 L54.94,364.37 L55.23,364.45 L55.52,364.54 L55.80,364.63 L56.09,364.72 L56.38,364.82 L56.66,364.92 L56.95,365.02 L57.23,365.12 L57.52,365.22 L57.81,365.32 L58.09,365.42 L58.38,365.52 L58.67,365.61 L58.95,365.71 L59.24,365.81 L59.53,365.90 L59.81,365.99 L60.10,366.08 L60.39,366.17 L60.67,366.26 L60.96,366.34 L61.25,366.43 L61.53,366.51 L61.82,366.59 L62.11,366.67 L62.39,366.75 L62.68,366.83 L62.97,366.91 L63.25,366.98 L63.54,367.05 L63.83,367.12 L64.11,367.19 L64.40,367.26 L64.69,367.33 L64.97,367.40 L65.26,367.46 L65.55,367.53 L65.83,367.59 L66.12,367.65 L66.41,367.71 L66.69,367.78 L66.98,367.83 L67.26,367.89 L67.55,367.95 L67.84,368.01 L68.12,368.06 L68.41,368.12 L68.70,368.17 L68.98,368.22 L69.27,368.28 L69.56,368.33 L69.84,368.38 L70.13,368.43 L70.42,368.48 L70.70,368.53 L70.99,368.57 L71.28,368.62 L71.56,368.67 L71.85,368.71 L72.14,368.76 L72.42,368.80 L72.71,368.85 L73.00,368.89 L73.28,368.94 L73.57,368.98 L73.86,369.02 L74.14,369.06 L74.43,369.10 L74.72,369.14 L75.00,369.18 L75.29,369.22 L75.58,369.26 L75.86,369.30 L76.15,369.34 L76.43,369.38 L76.72,369.42 L77.01,369.45 L77.29,369.49 L77.58,369.53 L77.87,369.56 L78.15,369.60 L78.44,369.63 L78.73,369.67 L79.01,369.70 L79.30,369.73 L79.59,369.77 L79.87,369.80 L80.16,369.83 L80.45,369.87 L80.73,369.90 L81.02,369.93 L81.31,369.96 L81.59,370.00 L81.88,370.03 L82.17,370.06 L82.45,370.09 L82.74,370.12 L83.03,370.15 L83.31,370.18 L83.60,370.21 L83.89,370.24 L84.17,370.27 L84.46,370.29 L84.75,370.32 L85.03,370.35 L85.32,370.38 L85.60,370.41 L85.89,370.43 L86.18,370.46 L86.46,370.49 L86.75,370.52 L87.04,370.54 L87.32,370.57 L87.61,370.60 L87.90,370.62 L88.18,370.65 L88.47,370.67 L88.76,370.70 L89.04,370.72 L89.33,370.75 L89.62,370.77 L89.90,370.80 L90.19,370.82 L90.48,370.85 L90.76,370.87 L91.05,370.89 L91.34,370.92 L91.62,370.94 L91.91,370.97 L92.20,370.99 L92.48,371.01 L92.77,371.04 L93.06,371.06 L93.34,371.08 L93.63,371.10 L93.91,371.13 L94.20,371.15 L94.49,371.17 L94.77,371.19 L95.06,371.21 L95.35,371.23 L95.63,371.26 L95.92,371.28 L96.21,371.30 L96.49,371.32 L96.78,371.34 L97.07,371.36 L97.35,371.38 L97.64,371.40 L97.93,371.42 L98.21,371.44 L98.50,371.46 L98.79,371.48 L99.07,371.50 L99.36,371.52 L99.65,371.54 L99.93,371.56 L100.22,371.58 L100.51,371.60 L100.79,371.62 L101.08,371.64 L101.37,371.66 L101.65,371.68 L101.94,371.70 L102.23,371.71 L102.51,371.73 L102.80,371.75 L103.09,371.77 L103.37,371.79 L103.66,371.81 L103.94,371.82 L104.23,371.84 L104.52,371.86 L104.80,371.88 L105.09,371.90 L105.38,371.91 L105.66,371.93 L105.95,371.95 L106.24,371.96 L106.52,371.98 L106.81,372.00 L107.10,372.02 L107.38,372.03 L107.67,372.05 L107.96,372.07 L108.24,372.08 L108.53,372.10 L108.82,372.12 L109.10,372.13 L109.39,372.15 L109.68,372.17 L109.96,372.18 L111.11,372.25 L112.25,372.31 L113.40,372.37 L114.55,372.43 L115.69,372.49 L116.84,372.55 L117.99,372.60 L119.13,372.66 L120.28,372.72 L121.43,372.77 L122.57,372.82 L123.72,372.88 L124.86,372.93 L126.01,372.98 L127.16,373.03 L128.30,373.08 L129.45,373.13 L130.59,373.17 L131.74,373.22 L132.89,373.27 L134.03,373.31 L135.18,373.36 L136.33,373.40 L137.47,373.45 L138.62,373.49 L139.76,373.53 L140.91,373.58 L142.06,373.62 L143.20,373.66 L144.35,373.70 L145.50,373.74 L146.64,373.78 L147.79,373.82 L148.93,373.86 L150.08,373.90 L151.23,373.93 L152.37,373.97 L153.52,374.01 L154.67,374.04 L155.81,374.08 L156.96,374.12 L158.10,374.15 L159.25,374.19 L160.40,374.22 L161.54,374.26 L162.69,374.29 L163.84,374.32 L164.98,374.36 L166.13,374.39 L167.28,374.42 L168.42,374.45 L169.57,374.49 L170.71,374.52 L171.86,374.55 L173.01,374.58 L174.15,374.61 L175.30,374.64 L176.44,374.67 L177.59,374.70 L178.74,374.73 L179.88,374.76 L181.03,374.79 L182.18,374.82 L183.32,374.85 L184.47,374.88 L185.61,374.90 L186.76,374.93 L187.91,374.96 L189.05,374.99 L190.20,375.01 L191.35,375.04 L192.49,375.07 L193.64,375.09 L194.78,375.12 L195.93,375.15 L197.08,375.17 L198.22,375.20 L199.37,375.22 L200.52,375.25 L201.66,375.27 L202.81,375.30 L203.96,375.32 L205.10,375.35 L206.25,375.37 L207.39,375.39 L208.54,375.42 L209.69,375.44 L210.83,375.47 L211.98,375.49 L213.12,375.51 L214.27,375.54 L215.42,375.56 L216.56,375.58 L217.71,375.60 L218.86,375.63 L220.00,375.65 L221.15,375.67 L222.29,375.69 L223.44,375.71 L224.59,375.74 L225.73,375.76 L226.88,375.78 L228.03,375.80 L229.17,375.82 L230.32,375.84 L231.47,375.86 L232.61,375.88 L233.76,375.90 L234.90,375.93 L236.05,375.95 L237.20,375.97 L238.34,375.99 L239.49,376.01 L240.63,376.03 L241.78,376.05 L242.93,376.06 L244.07,376.08 L245.22,376.10 L246.37,376.12 L247.51,376.14 L248.66,376.16 L249.81,376.18 L250.95,376.20 L252.10,376.22 L253.24,376.24 L254.39,376.25 L255.54,376.27 L256.68,376.29 L257.83,376.31 L258.97,376.33 L260.12,376.35 L261.27,376.36 L262.41,376.38 L263.56,376.40 L264.71,376.42 L265.85,376.43 L267.00,376.45 L268.14,376.47 L269.29,376.49 L270.44,376.50 L271.58,376.52 L272.73,376.54 L273.88,376.55 L275.02,376.57 L276.17,376.59 L277.31,376.60 L278.46,376.62 L279.61,376.64 L280.75,376.65 L281.90,376.67 L283.05,376.69 L284.19,376.70 L285.34,376.72 L286.48,376.73 L287.63,376.75 L288.78,376.77 L289.92,376.78 L291.07,376.80 L292.22,376.81 L293.36,376.83 L294.51,376.84 L295.65,376.86 L296.80,376.87 L297.95,376.89 L299.09,376.90 L300.24,376.92 L301.39,376.93 L302.53,376.95 L303.68,376.96 L304.82,376.98 L305.97,376.99 L307.12,377.01 L308.26,377.02 L309.41,377.04 L310.56,377.05 L311.70,377.07 L312.85,377.08 L313.99,377.09 L315.14,377.11 L316.29,377.12 L317.43,377.14 L318.58,377.15 L319.73,377.16 L320.87,377.18 L322.02,377.19 L323.16,377.21 L324.31,377.22 L325.46,377.23 L326.60,377.25 L327.75,377.26 L328.90,377.27 L330.04,377.29 L331.19,377.30 L332.33,377.31 L333.48,377.33 L334.63,377.34 L335.77,377.35 L336.92,377.37 L338.07,377.38 L339.21,377.39 L340.36,377.41 L341.50,377.42 L342.65,377.43 L343.80,377.44 L344.94,377.46 L346.09,377.47 L347.24,377.48 L348.38,377.50 L349.53,377.51 L350.67,377.52 L351.82,377.53 L352.97,377.54 L354.11,377.56 L355.26,377.57 L356.41,377.58 L357.55,377.59 L358.70,377.61 L359.84,377.62 L360.99,377.63 L362.14,377.64 L363.28,377.65 L364.43,377.67 L365.58,377.68 L366.72,377.69 L367.87,377.70 L369.01,377.71 L370.16,377.73 L371.31,377.74 L372.45,377.75 L373.60,377.76 L374.75,377.77 L375.89,377.78 L377.04,377.80 L378.18,377.81 L379.33,377.82 L380.48,377.83 L381.62,377.84 L382.77,377.85 L383.92,377.86 L385.06,377.87 L386.21,377.89 L387.35,377.90 L388.50,377.91 L389.65,377.92 L390.79,377.93 L391.94,377.94 L393.09,377.95 L394.23,377.96 L395.38,377.97 L396.52,377.98 L397.67,378.00 L398.82,378.01 L399.96,378.02 L401.11,378.03 L402.26,378.04 L403.40,378.05 L404.55,378.06 L405.69,378.07 L406.84,378.08 L407.99,378.09 L409.13,378.10 L410.28,378.11 L411.43,378.12 L412.57,378.13 L413.72,378.14 L414.86,378.15 L416.01,378.16 L417.16,378.17 L418.30,378.18 L419.45,378.19 L420.60,378.20 L421.74,378.21 L422.89,378.22 L424.03,378.23 L425.18,378.24 L426.33,378.25 L427.47,378.26 L428.62,378.27 L429.77,378.28 L430.91,378.29 L432.06,378.30 L433.20,378.31 L434.35,378.32 L435.50,378.33 L436.64,378.34 L437.79,378.35 L438.94,378.36 L440.08,378.37 L441.23,378.38 L442.38,378.39 L443.52,378.40 L444.67,378.41 L445.81,378.42 L446.96,378.43 L448.11,378.44 L449.25,378.45 L450.40,378.46 L451.54,378.47 L452.69,378.48 L453.84,378.48 L454.98,378.49 L456.13,378.50 L457.28,378.51 L458.42,378.52 L459.57,378.53 L460.71,378.54 L461.86,378.55 L463.01,378.56 L464.15,378.57 L465.30,378.58 L466.45,378.58 L467.59,378.59 L468.74,378.60 L469.88,378.61 L471.03,378.62 L472.18,378.63 L473.32,378.64 L474.47,378.65 L475.62,378.66 L476.76,378.66 L477.91,378.67 L479.05,378.68 L480.20,378.69 L481.35,378.70 L482.49,378.71 L483.64,378.72 L484.79,378.73 L485.93,378.73 L487.08,378.74 L488.22,378.75 L489.37,378.76 L490.52,378.77 L491.66,378.78 L492.81,378.79 L493.96,378.79 L495.10,378.80 L496.25,378.81 L497.39,378.82 L498.54,378.83 L499.69,378.84 L500.83,378.84 L501.98,378.85 L503.13,378.86 L504.27,378.87 L505.42,378.88 L506.57,378.88 L507.71,378.89 L508.86,378.90 L510.00,378.91 L511.15,378.92" stroke="#ff00ff"/>
<path d="M52.65,364.01 L52.94,364.01 L53.22,364.01 L53.51,364.01 L53.80,364.01 L54.08,364.02 L54.37,364.02 L54.66,364.02 L54.94,364.03 L55.23,364.03 L55.52,364.03 L55.80,364.04 L56.09,364.04 L56.38,364.05 L56.66,364.05 L56.95,364.06 L57.23,364.07 L57.52,364.07 L57.81,364.08 L58.09,364.09 L58.38,364.10 L58.67,364.10 L58.95,364.11 L59.24,364.12 L59.53,364.13 L59.81,364.14 L60.10,364.15 L60.39,364.15 L60.67,364.16 L60.96,364.17 L61.25,364.18 L61.53,364.19 L61.82,364.20 L62.11,364.21 L62.39,364.22 L62.68,364.23 L62.97,364.24 L63.25,364.25 L63.54,364.26 L63.83,364.27 L64.11,364.28 L64.40,364.29 L64.69,364.30 L64.97,364.31 L65.26,364.32 L65.55,364.33 L65.83,364.33 L66.12,364.34 L66.41,364.35 L66.69,364.36 L66.98,364.37 L67.26,364.38 L67.55,364.39 L67.84,364.40 L68.12,364.41 L68.41,364.42 L68.70,364.43 L68.98,364.44 L69.27,364.45 L69.56,364.46 L69.84,364.46 L70.13,364.47 L70.42,364.48 L70.70,364.49 L70.99,364.50 L71.28,364.51 L71.56,364.52 L71.85,364.53 L72.14,364.53 L72.42,364.54 L72.71,364.55 L73.00,364.56 L73.28,364.57 L73.57,364.58 L73.86,364.58 L74.14,364.59 L74.43,364.60 L74.72,364.61 L75.00,364.61 L75.29,364.62 L75.58,364.63 L75.86,364.64 L76.15,364.65 L76.43,364.65 L76.72,364.66 L77.01,364.67 L77.29,364.68 L77.58,364.68 L77.87,364.69 L78.15,364.70 L78.44,364.70 L78.73,364.71 L79.01,364.72 L79.30,364.73 L79.59,364.73 L79.87,364.74 L80.16,364.75 L80.45,364.75 L80.73,364.76 L81.02,364.77 L81.31,364.77 L81.59,364.78 L81.88,364.79 L82.17,364.79 L82.45,364.80 L82.74,364.81 L83.03,364.81 L83.31,364.82 L83.60,364.83 L83.89,364.83 L84.17,364.84 L84.46,364.84 L84.75,364.85 L85.03,364.86 L85.32,364.86 L85.60,364.87 L85.89,364.87 L86.18,364.88 L86.46,364.89 L86.75,364.89 L87.04,364.90 L87.32,364.90 L87.61,364.91 L87.90,364.91 L88.18,364.92 L88.47,364.93 L88.76,364.93 L89.04,364.94 L89.33,364.94 L89.62,364.95 L89.90,364.95 L90.19,364.96 L90.48,364.96 L90.76,364.97 L91.05,364.98 L91.34,364.98 L91.62,364.99 L91.91,364.99 L92.20,365.00 L92.48,365.00 L92.77,365.01 L93.06,365.01 L93.34,365.02 L93.63,365.02 L93.91,365.03 L94.20,365.03 L94.49,365.04 L94.77,365.04 L95.06,365.05 L95.35,365.05 L95.63,365.06 L95.92,365.06 L96.21,365.07 L96.49,365.07 L96.78,365.07 L97.07,365.08 L97.35,365.08 L97.64,365.09 L97.93,365.09 L98.21,365.10 L98.50,365.10 L98.79,365.11 L99.07,365.11 L99.36,365.12 L99.65,365.12 L99.93,365.12 L100.22,365.13 L100.51,365.13 L100.79,365.14 L101.08,365.14 L101.37,365.15 L101.65,365.15 L101.94,365.16 L102.23,365.16 L102.51,365.16 L102.80,365.17 L103.09,365.17 L103.37,365.18 L103.66,365.18 L103.94,365.18 L104.23,365.19 L104.52,365.19 L104.80,365.20 L105.09,365.20 L105.38,365.20 L105.66,365.21 L105.95,365.21 L106.24,365.22 L106.52,365.22 L106.81,365.22 L107.10,365.23 L107.38,365.23 L107.67,365.24 L107.96,365.24 L108.24,365.24 L108.53,365.25 L108.82,365.25 L109.10,365.25 L109.39,365.26 L109.68,365.26 L109.96,365.27 L111.11,365.28 L112.25,365.30 L113.40,365.31 L114.55,365.32 L115.69,365.34 L116.84,365.35 L117.99,365.36 L119.13,365.38 L120.28,365.39 L121.43,365.40 L122.57,365.41 L123.72,365.43 L124.86,365.44 L126.01,365.45 L127.16,365.46 L128.30,365.47 L129.45,365.49 L130.59,365.50 L131.74,365.51 L132.89,365.52 L134.03,365.53 L135.18,365.54 L136.33,365.55 L137.47,365.56 L138.62,365.57 L139.76,365.58 L140.91,365.59 L142.06,365.60 L143.20,365.61 L144.35,365.62 L145.50,365.63 L146.64,365.64 L147.79,365.65 L148.93,365.66 L150.08,365.67 L151.23,365.67 L152.37,365.68 L153.52,365.69 L154.67,365.70 L155.81,365.71 L156.96,365.72 L158.10,365.73 L159.25,365.73 L160.40,365.74 L161.54,365.75 L162.69,365.76 L163.84,365.77 L164.98,365.77 L166.13,365.78 L167.28,365.79 L168.42,365.80 L169.57,365.80 L170.71,365.81 L171.86,365.82 L173.01,365.83 L174.15,365.83 L175.30,365.84 L176.44,365.85 L177.59,365.86 L178.74,365.86 L179.88,365.87 L181.03,365.88 L182.18,365.88 L183.32,365.89 L184.47,365.90 L185.61,365.90 L186.76,365.91 L187.91,365.92 L189.05,365.92 L190.20,365.93 L191.35,365.94 L192.49,365.94 L193.64,365.95 L194.78,365.95 L195.93,365.96 L197.08,365.97 L198.22,365.97 L199.37,365.98 L200.52,365.98 L201.66,365.99 L202.81,366.00 L203.96,366.00 L205.10,366.01 L206.25,366.01 L207.39,366.02 L208.54,366.02 L209.69,366.03 L210.83,366.04 L211.98,366.04 L213.12,366.05 L214.27,366.05 L215.42,366.06 L216.56,366.06 L217.71,366.07 L218.86,366.07 L220.00,366.08 L221.15,366.08 L222.29,366.09 L223.44,366.09 L224.59,366.10 L225.73,366.10 L226.88,366.11 L228.03,366.12 L229.17,366.12 L230.32,366.13 L231.47,366.13 L232.61,366.13 L233.76,366.14 L234.90,366.14 L236.05,366.15 L237.20,366.15 L238.34,366.16 L239.49,366.16 L240.63,366.17 L241.78,366.17 L242.93,366.18 L244.07,366.18 L245.22,366.19 L246.37,366.19 L247.51,366.20 L248.66,366.20 L249.81,366.20 L250.95,366.21 L252.10,366.21 L253.24,366.22 L254.39,366.22 L255.54,366.23 L256.68,366.23 L257.83,366.24 L258.97,366.24 L260.12,366.24 L261.27,366.25 L262.41,366.25 L263.56,366.26 L264.71,366.26 L265.85,366.27 L267.00,366.27 L268.14,366.27 L269.29,366.28 L270.44,366.28 L271.58,366.29 L272.73,366.29 L273.88,366.29 L275.02,366.30 L276.17,366.30 L277.31,366.31 L278.46,366.31 L279.61,366.31 L280.75,366.32 L281.90,366.32 L283.05,366.32 L284.19,366.33 L285.34,366.33 L286.48,366.34 L287.63,366.34 L288.78,366.34 L289.92,366.35 L291.07,366.35 L292.22,366.35 L293.36,366.36 L294.51,366.36 L295.65,366.37 L296.80,366.37 L297.95,366.37 L299.09,366.38 L300.24,366.38 L301.39,366.38 L302.53,366.39 L303.68,366.39 L304.82,366.39 L305.97,366.40 L307.12,366.40 L308.26,366.40 L309.41,366.41 L310.56,366.41 L311.70,366.41 L312.85,366.42 L313.99,366.42 L315.14,366.43 L316.29,366.43 L317.43,366.43 L318.58,366.44 L319.73,366.44 L320.87,366.44 L322.02,366.45 L323.16,366.45 L324.31,366.45 L325.46,366.45 L326.60,366.46 L327.75,366.46 L328.90,366.46 L330.04,366.47 L331.19,366.47 L332.33,366.47 L333.48,366.48 L334.63,366.48 L335.77,366.48 L336.92,366.49 L338.07,366.49 L339.21,366.49 L340.36,366.50 L341.50,366.50 L342.65,366.50 L343.80,366.50 L344.94,366.51 L346.09,366.51 L347.24,366.51 L348.38,366.52 L349.53,366.52 L350.67,366.52 L351.82,366.53 L352.97,366.53 L354.11,366.53 L355.26,366.53 L356.41,366.54 L357.55,366.54 L358.70,366.54 L359.84,366.55 L360.99,366.55 L362.14,366.55 L363.28,366.55 L364.43,366.56 L365.58,366.56 L366.72,366.56 L367.87,366.57 L369.01,366.57 L370.16,366.57 L371.31,366.57 L372.45,366.58 L373.60,366.58 L374.75,366.58 L375.89,366.59 L377.04,366.59 L378.18,366.59 L379.33,366.59 L380.48,366.60 L381.62,366.60 L382.77,366.60 L383.92,366.60 L385.06,366.61 L386.21,366.61 L387.35,366.61 L388.50,366.61 L389.65,366.62 L390.79,366.62 L391.94,366.62 L393.09,366.63 L394.23,366.63 L395.38,366.63 L396.52,366.63 L397.67,366.64 L398.82,366.64 L399.96,366.64 L401.11,366.64 L402.26,366.65 L403.40,366.65 L404.55,366.65 L405.69,366.65 L406.84,366.66 L407.99,366.66 L409.13,366.66 L410.28,366.66 L411.43,366.67 L412.57,366.67 L413.72,366.67 L414.86,366.67 L416.01,366.68 L417.16,366.68 L418.30,366.68 L419.45,366.68 L420.60,366.69 L421.74,366.69 L422.89,366.69 L424.03,366.69 L425.18,366.69 L426.33,366.70 L427.47,366.70 L428.62,366.70 L429.77,366.70 L430.91,366.71 L432.06,366.71 L433.20,366.71 L434.35,366.71 L435.50,366.72 L436.64,366.72 L437.79,366.72 L438.94,366.72 L440.08,366.72 L441.23,366.73 L442.38,366.73 L443.52,366.73 L444.67,366.73 L445.81,366.74 L446.96,366.74 L448.11,366.74 L449.25,366.74 L450.40,366.75 L451.54,366.75 L452.69,366.75 L453.84,366.75 L454.98,366.75 L456.13,366.76 L457.28,366.76 L458.42,366.76 L459.57,366.76 L460.71,366.76 L461.86,366.77 L463.01,366.77 L464.15,366.77 L465.30,366.77 L466.45,366.78 L467.59,366.78 L468.74,366.78 L469.88,366.78 L471.03,366.78 L472.18,366.79 L473.32,366.79 L474.47,366.79 L475.62,366.79 L476.76,366.79 L477.91,366.80 L479.05,366.80 L480.20,366.80 L481.35,366.80 L482.49,366.80 L483.64,366.81 L484.79,366.81 L485.93,366.81 L487.08,366.81 L488.22,366.82 L489.37,366.82 L490.52,366.82 L491.66,366.82 L492.81,366.82 L493.96,366.83 L495.10,366.83 L496.25,366.83 L497.39,366.83 L498.54,366.83 L499.69,366.84 L500.83,366.84 L501.98,366.84 L503.13,366.84 L504.27,366.84 L505.42,366.85 L506.57,366.85 L507.71,366.85 L508.86,366.85 L510.00,366.85 L511.15,366.85" stroke="#008000"/>
<path d="M52.65,364.01 L53.52,364.01 L54.39,364.02 L55.26,364.03 L56.13,364.04 L57.01,364.06" stroke="#00001a" stroke-linecap="butt"/>
</g>
<g clip-path="url(#cb)" fill="none" stroke-width="2.3" stroke-linejoin="round">
<path d="M52.65,558.90 L52.94,558.90 L53.22,558.91 L53.51,558.93 L53.80,558.95 L54.08,558.98 L54.37,559.02 L54.66,559.06 L54.94,559.11 L55.23,559.16 L55.52,559.22 L55.80,559.29 L56.09,559.36 L56.38,559.44 L56.66,559.52 L56.95,559.61 L57.23,559.70 L57.52,559.80 L57.81,559.90 L58.09,560.01 L58.38,560.12 L58.67,560.24 L58.95,560.36 L59.24,560.49 L59.53,560.62 L59.81,560.75 L60.10,560.88 L60.39,561.02 L60.67,561.16 L60.96,561.31 L61.25,561.46 L61.53,561.61 L61.82,561.76 L62.11,561.92 L62.39,562.07 L62.68,562.23 L62.97,562.40 L63.25,562.56 L63.54,562.72 L63.83,562.89 L64.11,563.06 L64.40,563.23 L64.69,563.40 L64.97,563.58 L65.26,563.75 L65.55,563.93 L65.83,564.10 L66.12,564.28 L66.41,564.46 L66.69,564.64 L66.98,564.82 L67.26,565.00 L67.55,565.18 L67.84,565.37 L68.12,565.55 L68.41,565.73 L68.70,565.92 L68.98,566.10 L69.27,566.29 L69.56,566.47 L69.84,566.66 L70.13,566.84 L70.42,567.03 L70.70,567.22 L70.99,567.40 L71.28,567.59 L71.56,567.78 L71.85,567.96 L72.14,568.15 L72.42,568.34 L72.71,568.53 L73.00,568.71 L73.28,568.90 L73.57,569.09 L73.86,569.27 L74.14,569.46 L74.43,569.65 L74.72,569.83 L75.00,570.02 L75.29,570.21 L75.58,570.39 L75.86,570.58 L76.15,570.76 L76.43,570.95 L76.72,571.13 L77.01,571.32 L77.29,571.50 L77.58,571.69 L77.87,571.87 L78.15,572.06 L78.44,572.24 L78.73,572.43 L79.01,572.61 L79.30,572.79 L79.59,572.97 L79.87,573.16 L80.16,573.34 L80.45,573.52 L80.73,573.70 L81.02,573.88 L81.31,574.07 L81.59,574.25 L81.88,574.43 L82.17,574.61 L82.45,574.79 L82.74,574.97 L83.03,575.14 L83.31,575.32 L83.60,575.50 L83.89,575.68 L84.17,575.86 L84.46,576.04 L84.75,576.21 L85.03,576.39 L85.32,576.57 L85.60,576.74 L85.89,576.92 L86.18,577.09 L86.46,577.27 L86.75,577.44 L87.04,577.62 L87.32,577.79 L87.61,577.96 L87.90,578.14 L88.18,578.31 L88.47,578.48 L88.76,578.66 L89.04,578.83 L89.33,579.00 L89.62,579.17 L89.90,579.34 L90.19,579.51 L90.48,579.68 L90.76,579.85 L91.05,580.02 L91.34,580.19 L91.62,580.36 L91.91,580.53 L92.20,580.69 L92.48,580.86 L92.77,581.03 L93.06,581.20 L93.34,581.36 L93.63,581.53 L93.91,581.70 L94.20,581.86 L94.49,582.03 L94.77,582.19 L95.06,582.36 L95.35,582.52 L95.63,582.68 L95.92,582.85 L96.21,583.01 L96.49,583.17 L96.78,583.34 L97.07,583.50 L97.35,583.66 L97.64,583.82 L97.93,583.98 L98.21,584.15 L98.50,584.31 L98.79,584.47 L99.07,584.63 L99.36,584.79 L99.65,584.95 L99.93,585.11 L100.22,585.26 L100.51,585.42 L100.79,585.58 L101.08,585.74 L101.37,585.90 L101.65,586.05 L101.94,586.21 L102.23,586.37 L102.51,586.52 L102.80,586.68 L103.09,586.84 L103.37,586.99 L103.66,587.15 L103.94,587.30 L104.23,587.46 L104.52,587.61 L104.80,587.76 L105.09,587.92 L105.38,588.07 L105.66,588.22 L105.95,588.38 L106.24,588.53 L106.52,588.68 L106.81,588.83 L107.10,588.99 L107.38,589.14 L107.67,589.29 L107.96,589.44 L108.24,589.59 L108.53,589.74 L108.82,589.89 L109.10,590.04 L109.39,590.19 L109.68,590.34 L109.96,590.49 L111.11,591.08 L112.25,591.67 L113.40,592.25 L114.55,592.83 L115.69,593.41 L116.84,593.98 L117.99,594.55 L119.13,595.12 L120.28,595.68 L121.43,596.24 L122.57,596.79 L123.72,597.34 L124.86,597.89 L126.01,598.43 L127.16,598.97 L128.30,599.51 L129.45,600.04 L130.59,600.57 L131.74,601.10 L132.89,601.62 L134.03,602.14 L135.18,602.66 L136.33,603.17 L137.47,603.69 L138.62,604.20 L139.76,604.70 L140.91,605.21 L142.06,605.71 L143.20,606.21 L144.35,606.70 L145.50,607.19 L146.64,607.68 L147.79,608.17 L148.93,608.66 L150.08,609.14 L151.23,609.62 L152.37,610.10 L153.52,610.57 L154.67,611.05 L155.81,611.52 L156.96,611.99 L158.10,612.45 L159.25,612.92 L160.40,613.38 L161.54,613.84 L162.69,614.30 L163.84,614.75 L164.98,615.21 L166.13,615.66 L167.28,616.11 L168.42,616.56 L169.57,617.00 L170.71,617.45 L171.86,617.89 L173.01,618.33 L174.15,618.77 L175.30,619.21 L176.44,619.64 L177.59,620.07 L178.74,620.50 L179.88,620.93 L181.03,621.36 L182.18,621.79 L183.32,622.21 L184.47,622.63 L185.61,623.06 L186.76,623.47 L187.91,623.89 L189.05,624.31 L190.20,624.72 L191.35,625.14 L192.49,625.55 L193.64,625.96 L194.78,626.37 L195.93,626.77 L197.08,627.18 L198.22,627.58 L199.37,627.99 L200.52,628.39 L201.66,628.79 L202.81,629.18 L203.96,629.58 L205.10,629.98 L206.25,630.37 L207.39,630.76 L208.54,631.16 L209.69,631.55 L210.83,631.94 L211.98,632.32 L213.12,632.71 L214.27,633.09 L215.42,633.48 L216.56,633.86 L217.71,634.24 L218.86,634.62 L220.00,635.00 L221.15,635.38 L222.29,635.76 L223.44,636.13 L224.59,636.51 L225.73,636.88 L226.88,637.25 L228.03,637.62 L229.17,637.99 L230.32,638.36 L231.47,638.73 L232.61,639.09 L233.76,639.46 L234.90,639.82 L236.05,640.19 L237.20,640.55 L238.34,640.91 L239.49,641.27 L240.63,641.63 L241.78,641.99 L242.93,642.34 L244.07,642.70 L245.22,643.06 L246.37,643.41 L247.51,643.76 L248.66,644.12 L249.81,644.47 L250.95,644.82 L252.10,645.17 L253.24,645.51 L254.39,645.86 L255.54,646.21 L256.68,646.55 L257.83,646.90 L258.97,647.24 L260.12,647.58 L261.27,647.93 L262.41,648.27 L263.56,648.61 L264.71,648.95 L265.85,649.29 L267.00,649.62 L268.14,649.96 L269.29,650.30 L270.44,650.63 L271.58,650.97 L272.73,651.30 L273.88,651.63 L275.02,651.96 L276.17,652.29 L277.31,652.62 L278.46,652.95 L279.61,653.28 L280.75,653.61 L281.90,653.94 L283.05,654.26 L284.19,654.59 L285.34,654.91 L286.48,655.24 L287.63,655.56 L288.78,655.88 L289.92,656.21 L291.07,656.53 L292.22,656.85 L293.36,657.17 L294.51,657.49 L295.65,657.80 L296.80,658.12 L297.95,658.44 L299.09,658.75 L300.24,659.07 L301.39,659.38 L302.53,659.70 L303.68,660.01 L304.82,660.32 L305.97,660.64 L307.12,660.95 L308.26,661.26 L309.41,661.57 L310.56,661.88 L311.70,662.19 L312.85,662.49 L313.99,662.80 L315.14,663.11 L316.29,663.41 L317.43,663.72 L318.58,664.02 L319.73,664.33 L320.87,664.63 L322.02,664.93 L323.16,665.24 L324.31,665.54 L325.46,665.84 L326.60,666.14 L327.75,666.44 L328.90,666.74 L330.04,667.04 L331.19,667.34 L332.33,667.63 L333.48,667.93 L334.63,668.23 L335.77,668.52 L336.92,668.82 L338.07,669.11 L339.21,669.41 L340.36,669.70 L341.50,669.99 L342.65,670.28 L343.80,670.58 L344.94,670.87 L346.09,671.16 L347.24,671.45 L348.38,671.74 L349.53,672.03 L350.67,672.32 L351.82,672.60 L352.97,672.89 L354.11,673.18 L355.26,673.47 L356.41,673.75 L357.55,674.04 L358.70,674.32 L359.84,674.61 L360.99,674.89 L362.14,675.17 L363.28,675.46 L364.43,675.74 L365.58,676.02 L366.72,676.30 L367.87,676.58 L369.01,676.86 L370.16,677.14 L371.31,677.42 L372.45,677.70 L373.60,677.98 L374.75,678.26 L375.89,678.54 L377.04,678.81 L378.18,679.09 L379.33,679.37 L380.48,679.64 L381.62,679.92 L382.77,680.19 L383.92,680.47 L385.06,680.74 L386.21,681.01 L387.35,681.29 L388.50,681.56 L389.65,681.83 L390.79,682.10 L391.94,682.37 L393.09,682.64 L394.23,682.91 L395.38,683.18 L396.52,683.45 L397.67,683.72 L398.82,683.99 L399.96,684.26 L401.11,684.53 L402.26,684.79 L403.40,685.06 L404.55,685.33 L405.69,685.59 L406.84,685.86 L407.99,686.12 L409.13,686.39 L410.28,686.65 L411.43,686.92 L412.57,687.18 L413.72,687.44 L414.86,687.71 L416.01,687.97 L417.16,688.23 L418.30,688.49 L419.45,688.75 L420.60,689.01 L421.74,689.27 L422.89,689.53 L424.03,689.79 L425.18,690.05 L426.33,690.31 L427.47,690.57 L428.62,690.83 L429.77,691.08 L430.91,691.34 L432.06,691.60 L433.20,691.86 L434.35,692.11 L435.50,692.37 L436.64,692.62 L437.79,692.88 L438.94,693.13 L440.08,693.39 L441.23,693.64 L442.38,693.89 L443.52,694.15 L444.67,694.40 L445.81,694.65 L446.96,694.90 L448.11,695.16 L449.25,695.41 L450.40,695.66 L451.54,695.91 L452.69,696.16 L453.84,696.41 L454.98,696.66 L456.13,696.91 L457.28,697.16 L458.42,697.41 L459.57,697.65 L460.71,697.90 L461.86,698.15 L463.01,698.40 L464.15,698.64 L465.30,698.89 L466.45,699.14 L467.59,699.38 L468.74,699.63 L469.88,699.87 L471.03,700.12 L472.18,700.36 L473.32,700.61 L474.47,700.85 L475.62,701.10 L476.76,701.34 L477.91,701.58 L479.05,701.82 L480.20,702.07 L481.35,702.31 L482.49,702.55 L483.64,702.79 L484.79,703.03 L485.93,703.27 L487.08,703.52 L488.22,703.76 L489.37,704.00 L490.52,704.23 L491.66,704.47 L492.81,704.71 L493.96,704.95 L495.10,705.19 L496.25,705.43 L497.39,705.67 L498.54,705.90 L499.69,706.14 L500.83,706.38 L501.98,706.61 L503.13,706.85 L504.27,707.09 L505.42,707.32 L506.57,707.56 L507.71,707.79 L508.86,708.03 L510.00,708.26 L511.15,708.50" stroke="#000000"/>
<path d="M52.65,558.90 L52.94,558.90 L53.22,558.91 L53.51,558.93 L53.80,558.95 L54.08,558.98 L54.37,559.01 L54.66,559.05 L54.94,559.09 L55.23,559.14 L55.52,559.20 L55.80,559.26 L56.09,559.32 L56.38,559.40 L56.66,559.47 L56.95,559.55 L57.23,559.64 L57.52,559.73 L57.81,559.82 L58.09,559.92 L58.38,560.02 L58.67,560.13 L58.95,560.24 L59.24,560.35 L59.53,560.47 L59.81,560.59 L60.10,560.71 L60.39,560.83 L60.67,560.96 L60.96,561.09 L61.25,561.22 L61.53,561.36 L61.82,561.49 L62.11,561.63 L62.39,561.77 L62.68,561.91 L62.97,562.06 L63.25,562.20 L63.54,562.35 L63.83,562.50 L64.11,562.65 L64.40,562.80 L64.69,562.95 L64.97,563.10 L65.26,563.25 L65.55,563.41 L65.83,563.56 L66.12,563.72 L66.41,563.88 L66.69,564.03 L66.98,564.19 L67.26,564.35 L67.55,564.51 L67.84,564.67 L68.12,564.82 L68.41,564.98 L68.70,565.14 L68.98,565.30 L69.27,565.46 L69.56,565.63 L69.84,565.79 L70.13,565.95 L70.42,566.11 L70.70,566.27 L70.99,566.43 L71.28,566.59 L71.56,566.75 L71.85,566.91 L72.14,567.07 L72.42,567.23 L72.71,567.39 L73.00,567.56 L73.28,567.72 L73.57,567.88 L73.86,568.04 L74.14,568.20 L74.43,568.36 L74.72,568.52 L75.00,568.68 L75.29,568.84 L75.58,568.99 L75.86,569.15 L76.15,569.31 L76.43,569.47 L76.72,569.63 L77.01,569.79 L77.29,569.94 L77.58,570.10 L77.87,570.26 L78.15,570.42 L78.44,570.57 L78.73,570.73 L79.01,570.89 L79.30,571.04 L79.59,571.20 L79.87,571.35 L80.16,571.51 L80.45,571.66 L80.73,571.82 L81.02,571.97 L81.31,572.12 L81.59,572.28 L81.88,572.43 L82.17,572.58 L82.45,572.74 L82.74,572.89 L83.03,573.04 L83.31,573.19 L83.60,573.34 L83.89,573.49 L84.17,573.64 L84.46,573.79 L84.75,573.94 L85.03,574.09 L85.32,574.24 L85.60,574.39 L85.89,574.54 L86.18,574.69 L86.46,574.84 L86.75,574.98 L87.04,575.13 L87.32,575.28 L87.61,575.43 L87.90,575.57 L88.18,575.72 L88.47,575.86 L88.76,576.01 L89.04,576.15 L89.33,576.30 L89.62,576.44 L89.90,576.59 L90.19,576.73 L90.48,576.88 L90.76,577.02 L91.05,577.16 L91.34,577.30 L91.62,577.45 L91.91,577.59 L92.20,577.73 L92.48,577.87 L92.77,578.01 L93.06,578.15 L93.34,578.29 L93.63,578.43 L93.91,578.57 L94.20,578.71 L94.49,578.85 L94.77,578.99 L95.06,579.13 L95.35,579.27 L95.63,579.41 L95.92,579.54 L96.21,579.68 L96.49,579.82 L96.78,579.95 L97.07,580.09 L97.35,580.23 L97.64,580.36 L97.93,580.50 L98.21,580.63 L98.50,580.77 L98.79,580.90 L99.07,581.04 L99.36,581.17 L99.65,581.31 L99.93,581.44 L100.22,581.57 L100.51,581.71 L100.79,581.84 L101.08,581.97 L101.37,582.11 L101.65,582.24 L101.94,582.37 L102.23,582.50 L102.51,582.63 L102.80,582.76 L103.09,582.89 L103.37,583.02 L103.66,583.16 L103.94,583.29 L104.23,583.41 L104.52,583.54 L104.80,583.67 L105.09,583.80 L105.38,583.93 L105.66,584.06 L105.95,584.19 L106.24,584.32 L106.52,584.44 L106.81,584.57 L107.10,584.70 L107.38,584.83 L107.67,584.95 L107.96,585.08 L108.24,585.20 L108.53,585.33 L108.82,585.46 L109.10,585.58 L109.39,585.71 L109.68,585.83 L109.96,585.96 L111.11,586.45 L112.25,586.95 L113.40,587.44 L114.55,587.92 L115.69,588.41 L116.84,588.88 L117.99,589.36 L119.13,589.83 L120.28,590.30 L121.43,590.77 L122.57,591.23 L123.72,591.69 L124.86,592.15 L126.01,592.60 L127.16,593.06 L128.30,593.50 L129.45,593.95 L130.59,594.39 L131.74,594.83 L132.89,595.27 L134.03,595.71 L135.18,596.14 L136.33,596.57 L137.47,597.00 L138.62,597.42 L139.76,597.84 L140.91,598.26 L142.06,598.68 L143.20,599.10 L144.35,599.51 L145.50,599.92 L146.64,600.33 L147.79,600.74 L148.93,601.15 L150.08,601.55 L151.23,601.95 L152.37,602.35 L153.52,602.74 L154.67,603.14 L155.81,603.53 L156.96,603.92 L158.10,604.31 L159.25,604.70 L160.40,605.08 L161.54,605.47 L162.69,605.85 L163.84,606.23 L164.98,606.61 L166.13,606.99 L167.28,607.36 L168.42,607.73 L169.57,608.11 L170.71,608.48 L171.86,608.84 L173.01,609.21 L174.15,609.58 L175.30,609.94 L176.44,610.30 L177.59,610.66 L178.74,611.02 L179.88,611.38 L181.03,611.74 L182.18,612.09 L183.32,612.44 L184.47,612.80 L185.61,613.15 L186.76,613.50 L187.91,613.85 L189.05,614.19 L190.20,614.54 L191.35,614.88 L192.49,615.22 L193.64,615.57 L194.78,615.91 L195.93,616.24 L197.08,616.58 L198.22,616.92 L199.37,617.25 L200.52,617.59 L201.66,617.92 L202.81,618.25 L203.96,618.58 L205.10,618.91 L206.25,619.24 L207.39,619.57 L208.54,619.89 L209.69,620.22 L210.83,620.54 L211.98,620.87 L213.12,621.19 L214.27,621.51 L215.42,621.83 L216.56,622.15 L217.71,622.46 L218.86,622.78 L220.00,623.10 L221.15,623.41 L222.29,623.72 L223.44,624.04 L224.59,624.35 L225.73,624.66 L226.88,624.97 L228.03,625.28 L229.17,625.58 L230.32,625.89 L231.47,626.20 L232.61,626.50 L233.76,626.81 L234.90,627.11 L236.05,627.41 L237.20,627.71 L238.34,628.01 L239.49,628.31 L240.63,628.61 L241.78,628.91 L242.93,629.21 L244.07,629.50 L245.22,629.80 L246.37,630.09 L247.51,630.39 L248.66,630.68 L249.81,630.97 L250.95,631.26 L252.10,631.55 L253.24,631.84 L254.39,632.13 L255.54,632.42 L256.68,632.71 L257.83,632.99 L258.97,633.28 L260.12,633.57 L261.27,633.85 L262.41,634.13 L263.56,634.42 L264.71,634.70 L265.85,634.98 L267.00,635.26 L268.14,635.54 L269.29,635.82 L270.44,636.10 L271.58,636.38 L272.73,636.65 L273.88,636.93 L275.02,637.21 L276.17,637.48 L277.31,637.76 L278.46,638.03 L279.61,638.30 L280.75,638.58 L281.90,638.85 L283.05,639.12 L284.19,639.39 L285.34,639.66 L286.48,639.93 L287.63,640.20 L288.78,640.47 L289.92,640.74 L291.07,641.00 L292.22,641.27 L293.36,641.53 L294.51,641.80 L295.65,642.06 L296.80,642.33 L297.95,642.59 L299.09,642.85 L300.24,643.12 L301.39,643.38 L302.53,643.64 L303.68,643.90 L304.82,644.16 L305.97,644.42 L307.12,644.68 L308.26,644.94 L309.41,645.19 L310.56,645.45 L311.70,645.71 L312.85,645.96 L313.99,646.22 L315.14,646.47 L316.29,646.73 L317.43,646.98 L318.58,647.24 L319.73,647.49 L320.87,647.74 L322.02,647.99 L323.16,648.24 L324.31,648.50 L325.46,648.75 L326.60,649.00 L327.75,649.24 L328.90,649.49 L330.04,649.74 L331.19,649.99 L332.33,650.24 L333.48,650.48 L334.63,650.73 L335.77,650.98 L336.92,651.22 L338.07,651.47 L339.21,651.71 L340.36,651.96 L341.50,652.20 L342.65,652.44 L343.80,652.68 L344.94,652.93 L346.09,653.17 L347.24,653.41 L348.38,653.65 L349.53,653.89 L350.67,654.13 L351.82,654.37 L352.97,654.61 L354.11,654.85 L355.26,655.09 L356.41,655.32 L357.55,655.56 L358.70,655.80 L359.84,656.03 L360.99,656.27 L362.14,656.51 L363.28,656.74 L364.43,656.98 L365.58,657.21 L366.72,657.44 L367.87,657.68 L369.01,657.91 L370.16,658.14 L371.31,658.38 L372.45,658.61 L373.60,658.84 L374.75,659.07 L375.89,659.30 L377.04,659.53 L378.18,659.76 L379.33,659.99 L380.48,660.22 L381.62,660.45 L382.77,660.68 L383.92,660.90 L385.06,661.13 L386.21,661.36 L387.35,661.59 L388.50,661.81 L389.65,662.04 L390.79,662.26 L391.94,662.49 L393.09,662.71 L394.23,662.94 L395.38,663.16 L396.52,663.39 L397.67,663.61 L398.82,663.83 L399.96,664.06 L401.11,664.28 L402.26,664.50 L403.40,664.72 L404.55,664.94 L405.69,665.17 L406.84,665.39 L407.99,665.61 L409.13,665.83 L410.28,666.05 L411.43,666.27 L412.57,666.48 L413.72,666.70 L414.86,666.92 L416.01,667.14 L417.16,667.36 L418.30,667.57 L419.45,667.79 L420.60,668.01 L421.74,668.22 L422.89,668.44 L424.03,668.66 L425.18,668.87 L426.33,669.09 L427.47,669.30 L428.62,669.52 L429.77,669.73 L430.91,669.94 L432.06,670.16 L433.20,670.37 L434.35,670.58 L435.50,670.80 L436.64,671.01 L437.79,671.22 L438.94,671.43 L440.08,671.64 L441.23,671.85 L442.38,672.06 L443.52,672.27 L444.67,672.48 L445.81,672.69 L446.96,672.90 L448.11,673.11 L449.25,673.32 L450.40,673.53 L451.54,673.74 L452.69,673.95 L453.84,674.15 L454.98,674.36 L456.13,674.57 L457.28,674.78 L458.42,674.98 L459.57,675.19 L460.71,675.40 L461.86,675.60 L463.01,675.81 L464.15,676.01 L465.30,676.22 L466.45,676.42 L467.59,676.63 L468.74,676.83 L469.88,677.03 L471.03,677.24 L472.18,677.44 L473.32,677.64 L474.47,677.85 L475.62,678.05 L476.76,678.25 L477.91,678.45 L479.05,678.65 L480.20,678.86 L481.35,679.06 L482.49,679.26 L483.64,679.46 L484.79,679.66 L485.93,679.86 L487.08,680.06 L488.22,680.26 L489.37,680.46 L490.52,680.66 L491.66,680.86 L492.81,681.05 L493.96,681.25 L495.10,681.45 L496.25,681.65 L497.39,681.85 L498.54,682.04 L499.69,682.24 L500.83,682.44 L501.98,682.63 L503.13,682.83 L504.27,683.03 L505.42,683.22 L506.57,683.42 L507.71,683.61 L508.86,683.81 L510.00,684.00 L511.15,684.20" stroke="#ff0000"/>
<path d="M52.65,558.90 L52.94,558.90 L53.22,558.91 L53.51,558.92 L53.80,558.94 L54.08,558.96 L54.37,558.99 L54.66,559.02 L54.94,559.06 L55.23,559.10 L55.52,559.15 L55.80,559.20 L56.09,559.26 L56.38,559.31 L56.66,559.38 L56.95,559.44 L57.23,559.51 L57.52,559.58 L57.81,559.66 L58.09,559.74 L58.38,559.82 L58.67,559.91 L58.95,559.99 L59.24,560.08 L59.53,560.17 L59.81,560.27 L60.10,560.36 L60.39,560.46 L60.67,560.56 L60.96,560.66 L61.25,560.76 L61.53,560.86 L61.82,560.96 L62.11,561.07 L62.39,561.18 L62.68,561.28 L62.97,561.39 L63.25,561.50 L63.54,561.61 L63.83,561.72 L64.11,561.83 L64.40,561.94 L64.69,562.05 L64.97,562.16 L65.26,562.27 L65.55,562.39 L65.83,562.50 L66.12,562.61 L66.41,562.73 L66.69,562.84 L66.98,562.95 L67.26,563.07 L67.55,563.18 L67.84,563.29 L68.12,563.41 L68.41,563.52 L68.70,563.64 L68.98,563.75 L69.27,563.86 L69.56,563.98 L69.84,564.09 L70.13,564.20 L70.42,564.32 L70.70,564.43 L70.99,564.54 L71.28,564.66 L71.56,564.77 L71.85,564.88 L72.14,564.99 L72.42,565.11 L72.71,565.22 L73.00,565.33 L73.28,565.44 L73.57,565.55 L73.86,565.66 L74.14,565.77 L74.43,565.88 L74.72,566.00 L75.00,566.11 L75.29,566.22 L75.58,566.32 L75.86,566.43 L76.15,566.54 L76.43,566.65 L76.72,566.76 L77.01,566.87 L77.29,566.98 L77.58,567.08 L77.87,567.19 L78.15,567.30 L78.44,567.41 L78.73,567.51 L79.01,567.62 L79.30,567.73 L79.59,567.83 L79.87,567.94 L80.16,568.04 L80.45,568.15 L80.73,568.25 L81.02,568.36 L81.31,568.46 L81.59,568.57 L81.88,568.67 L82.17,568.77 L82.45,568.88 L82.74,568.98 L83.03,569.08 L83.31,569.18 L83.60,569.29 L83.89,569.39 L84.17,569.49 L84.46,569.59 L84.75,569.69 L85.03,569.79 L85.32,569.89 L85.60,569.99 L85.89,570.09 L86.18,570.19 L86.46,570.29 L86.75,570.39 L87.04,570.49 L87.32,570.59 L87.61,570.69 L87.90,570.79 L88.18,570.88 L88.47,570.98 L88.76,571.08 L89.04,571.18 L89.33,571.27 L89.62,571.37 L89.90,571.47 L90.19,571.56 L90.48,571.66 L90.76,571.75 L91.05,571.85 L91.34,571.94 L91.62,572.04 L91.91,572.13 L92.20,572.23 L92.48,572.32 L92.77,572.42 L93.06,572.51 L93.34,572.60 L93.63,572.70 L93.91,572.79 L94.20,572.88 L94.49,572.98 L94.77,573.07 L95.06,573.16 L95.35,573.25 L95.63,573.34 L95.92,573.44 L96.21,573.53 L96.49,573.62 L96.78,573.71 L97.07,573.80 L97.35,573.89 L97.64,573.98 L97.93,574.07 L98.21,574.16 L98.50,574.25 L98.79,574.34 L99.07,574.43 L99.36,574.52 L99.65,574.61 L99.93,574.70 L100.22,574.78 L100.51,574.87 L100.79,574.96 L101.08,575.05 L101.37,575.14 L101.65,575.22 L101.94,575.31 L102.23,575.40 L102.51,575.49 L102.80,575.57 L103.09,575.66 L103.37,575.74 L103.66,575.83 L103.94,575.92 L104.23,576.00 L104.52,576.09 L104.80,576.17 L105.09,576.26 L105.38,576.34 L105.66,576.43 L105.95,576.51 L106.24,576.60 L106.52,576.68 L106.81,576.77 L107.10,576.85 L107.38,576.93 L107.67,577.02 L107.96,577.10 L108.24,577.18 L108.53,577.27 L108.82,577.35 L109.10,577.43 L109.39,577.52 L109.68,577.60 L109.96,577.68 L111.11,578.01 L112.25,578.33 L113.40,578.66 L114.55,578.98 L115.69,579.29 L116.84,579.61 L117.99,579.92 L119.13,580.23 L120.28,580.54 L121.43,580.85 L122.57,581.15 L123.72,581.45 L124.86,581.75 L126.01,582.05 L127.16,582.35 L128.30,582.64 L129.45,582.93 L130.59,583.22 L131.74,583.51 L132.89,583.80 L134.03,584.08 L135.18,584.37 L136.33,584.65 L137.47,584.93 L138.62,585.21 L139.76,585.48 L140.91,585.76 L142.06,586.03 L143.20,586.30 L144.35,586.57 L145.50,586.84 L146.64,587.11 L147.79,587.38 L148.93,587.64 L150.08,587.90 L151.23,588.17 L152.37,588.43 L153.52,588.69 L154.67,588.94 L155.81,589.20 L156.96,589.46 L158.10,589.71 L159.25,589.96 L160.40,590.21 L161.54,590.46 L162.69,590.71 L163.84,590.96 L164.98,591.21 L166.13,591.45 L167.28,591.70 L168.42,591.94 L169.57,592.18 L170.71,592.42 L171.86,592.66 L173.01,592.90 L174.15,593.14 L175.30,593.38 L176.44,593.61 L177.59,593.85 L178.74,594.08 L179.88,594.32 L181.03,594.55 L182.18,594.78 L183.32,595.01 L184.47,595.24 L185.61,595.47 L186.76,595.69 L187.91,595.92 L189.05,596.15 L190.20,596.37 L191.35,596.60 L192.49,596.82 L193.64,597.04 L194.78,597.26 L195.93,597.48 L197.08,597.70 L198.22,597.92 L199.37,598.14 L200.52,598.36 L201.66,598.57 L202.81,598.79 L203.96,599.00 L205.10,599.22 L206.25,599.43 L207.39,599.64 L208.54,599.86 L209.69,600.07 L210.83,600.28 L211.98,600.49 L213.12,600.70 L214.27,600.91 L215.42,601.11 L216.56,601.32 L217.71,601.53 L218.86,601.73 L220.00,601.94 L221.15,602.14 L222.29,602.35 L223.44,602.55 L224.59,602.75 L225.73,602.95 L226.88,603.15 L228.03,603.35 L229.17,603.55 L230.32,603.75 L231.47,603.95 L232.61,604.15 L233.76,604.35 L234.90,604.54 L236.05,604.74 L237.20,604.94 L238.34,605.13 L239.49,605.33 L240.63,605.52 L241.78,605.71 L242.93,605.91 L244.07,606.10 L245.22,606.29 L246.37,606.48 L247.51,606.67 L248.66,606.86 L249.81,607.05 L250.95,607.24 L252.10,607.43 L253.24,607.62 L254.39,607.81 L255.54,607.99 L256.68,608.18 L257.83,608.37 L258.97,608.55 L260.12,608.74 L261.27,608.92 L262.41,609.11 L263.56,609.29 L264.71,609.47 L265.85,609.66 L267.00,609.84 L268.14,610.02 L269.29,610.20 L270.44,610.38 L271.58,610.56 L272.73,610.74 L273.88,610.92 L275.02,611.10 L276.17,611.28 L277.31,611.46 L278.46,611.64 L279.61,611.81 L280.75,611.99 L281.90,612.17 L283.05,612.34 L284.19,612.52 L285.34,612.69 L286.48,612.87 L287.63,613.04 L288.78,613.22 L289.92,613.39 L291.07,613.56 L292.22,613.74 L293.36,613.91 L294.51,614.08 L295.65,614.25 L296.80,614.42 L297.95,614.59 L299.09,614.76 L300.24,614.93 L301.39,615.10 L302.53,615.27 L303.68,615.44 L304.82,615.61 L305.97,615.78 L307.12,615.95 L308.26,616.11 L309.41,616.28 L310.56,616.45 L311.70,616.61 L312.85,616.78 L313.99,616.95 L315.14,617.11 L316.29,617.28 L317.43,617.44 L318.58,617.61 L319.73,617.77 L320.87,617.93 L322.02,618.10 L323.16,618.26 L324.31,618.42 L325.46,618.58 L326.60,618.75 L327.75,618.91 L328.90,619.07 L330.04,619.23 L331.19,619.39 L332.33,619.55 L333.48,619.71 L334.63,619.87 L335.77,620.03 L336.92,620.19 L338.07,620.35 L339.21,620.51 L340.36,620.67 L341.50,620.82 L342.65,620.98 L343.80,621.14 L344.94,621.29 L346.09,621.45 L347.24,621.61 L348.38,621.76 L349.53,621.92 L350.67,622.08 L351.82,622.23 L352.97,622.39 L354.11,622.54 L355.26,622.69 L356.41,622.85 L357.55,623.00 L358.70,623.16 L359.84,623.31 L360.99,623.46 L362.14,623.61 L363.28,623.77 L364.43,623.92 L365.58,624.07 L366.72,624.22 L367.87,624.37 L369.01,624.52 L370.16,624.68 L371.31,624.83 L372.45,624.98 L373.60,625.13 L374.75,625.28 L375.89,625.43 L377.04,625.57 L378.18,625.72 L379.33,625.87 L380.48,626.02 L381.62,626.17 L382.77,626.32 L383.92,626.46 L385.06,626.61 L386.21,626.76 L387.35,626.91 L388.50,627.05 L389.65,627.20 L390.79,627.35 L391.94,627.49 L393.09,627.64 L394.23,627.78 L395.38,627.93 L396.52,628.07 L397.67,628.22 L398.82,628.36 L399.96,628.51 L401.11,628.65 L402.26,628.80 L403.40,628.94 L404.55,629.08 L405.69,629.23 L406.84,629.37 L407.99,629.51 L409.13,629.65 L410.28,629.80 L411.43,629.94 L412.57,630.08 L413.72,630.22 L414.86,630.36 L416.01,630.50 L417.16,630.65 L418.30,630.79 L419.45,630.93 L420.60,631.07 L421.74,631.21 L422.89,631.35 L424.03,631.49 L425.18,631.63 L426.33,631.77 L427.47,631.90 L428.62,632.04 L429.77,632.18 L430.91,632.32 L432.06,632.46 L433.20,632.60 L434.35,632.73 L435.50,632.87 L436.64,633.01 L437.79,633.15 L438.94,633.28 L440.08,633.42 L441.23,633.56 L442.38,633.69 L443.52,633.83 L444.67,633.97 L445.81,634.10 L446.96,634.24 L448.11,634.37 L449.25,634.51 L450.40,634.64 L451.54,634.78 L452.69,634.91 L453.84,635.05 L454.98,635.18 L456.13,635.32 L457.28,635.45 L458.42,635.58 L459.57,635.72 L460.71,635.85 L461.86,635.98 L463.01,636.12 L464.15,636.25 L465.30,636.38 L466.45,636.52 L467.59,636.65 L468.74,636.78 L469.88,636.91 L471.03,637.04 L472.18,637.18 L473.32,637.31 L474.47,637.44 L475.62,637.57 L476.76,637.70 L477.91,637.83 L479.05,637.96 L480.20,638.09 L481.35,638.22 L482.49,638.35 L483.64,638.48 L484.79,638.61 L485.93,638.74 L487.08,638.87 L488.22,639.00 L489.37,639.13 L490.52,639.26 L491.66,639.39 L492.81,639.51 L493.96,639.64 L495.10,639.77 L496.25,639.90 L497.39,640.03 L498.54,640.16 L499.69,640.28 L500.83,640.41 L501.98,640.54 L503.13,640.66 L504.27,640.79 L505.42,640.92 L506.57,641.05 L507.71,641.17 L508.86,641.30 L510.00,641.42 L511.15,641.55" stroke="#00ff00"/>
<path d="M52.65,558.90 L52.94,558.90 L53.22,558.91 L53.51,558.92 L53.80,558.93 L54.08,558.95 L54.37,558.98 L54.66,559.01 L54.94,559.04 L55.23,559.07 L55.52,559.11 L55.80,559.15 L56.09,559.20 L56.38,559.24 L56.66,559.29 L56.95,559.35 L57.23,559.40 L57.52,559.46 L57.81,559.52 L58.09,559.58 L58.38,559.65 L58.67,559.71 L58.95,559.78 L59.24,559.85 L59.53,559.91 L59.81,559.99 L60.10,560.06 L60.39,560.13 L60.67,560.20 L60.96,560.28 L61.25,560.35 L61.53,560.43 L61.82,560.50 L62.11,560.58 L62.39,560.65 L62.68,560.73 L62.97,560.81 L63.25,560.88 L63.54,560.96 L63.83,561.04 L64.11,561.12 L64.40,561.20 L64.69,561.27 L64.97,561.35 L65.26,561.43 L65.55,561.51 L65.83,561.59 L66.12,561.66 L66.41,561.74 L66.69,561.82 L66.98,561.90 L67.26,561.97 L67.55,562.05 L67.84,562.13 L68.12,562.21 L68.41,562.28 L68.70,562.36 L68.98,562.44 L69.27,562.51 L69.56,562.59 L69.84,562.67 L70.13,562.74 L70.42,562.82 L70.70,562.89 L70.99,562.97 L71.28,563.04 L71.56,563.12 L71.85,563.19 L72.14,563.27 L72.42,563.34 L72.71,563.42 L73.00,563.49 L73.28,563.56 L73.57,563.64 L73.86,563.71 L74.14,563.78 L74.43,563.85 L74.72,563.93 L75.00,564.00 L75.29,564.07 L75.58,564.14 L75.86,564.21 L76.15,564.28 L76.43,564.36 L76.72,564.43 L77.01,564.50 L77.29,564.57 L77.58,564.64 L77.87,564.71 L78.15,564.78 L78.44,564.85 L78.73,564.92 L79.01,564.98 L79.30,565.05 L79.59,565.12 L79.87,565.19 L80.16,565.26 L80.45,565.33 L80.73,565.39 L81.02,565.46 L81.31,565.53 L81.59,565.59 L81.88,565.66 L82.17,565.73 L82.45,565.79 L82.74,565.86 L83.03,565.93 L83.31,565.99 L83.60,566.06 L83.89,566.12 L84.17,566.19 L84.46,566.25 L84.75,566.32 L85.03,566.38 L85.32,566.45 L85.60,566.51 L85.89,566.57 L86.18,566.64 L86.46,566.70 L86.75,566.76 L87.04,566.83 L87.32,566.89 L87.61,566.95 L87.90,567.02 L88.18,567.08 L88.47,567.14 L88.76,567.20 L89.04,567.26 L89.33,567.33 L89.62,567.39 L89.90,567.45 L90.19,567.51 L90.48,567.57 L90.76,567.63 L91.05,567.69 L91.34,567.75 L91.62,567.81 L91.91,567.87 L92.20,567.93 L92.48,567.99 L92.77,568.05 L93.06,568.11 L93.34,568.17 L93.63,568.23 L93.91,568.29 L94.20,568.35 L94.49,568.41 L94.77,568.46 L95.06,568.52 L95.35,568.58 L95.63,568.64 L95.92,568.70 L96.21,568.76 L96.49,568.81 L96.78,568.87 L97.07,568.93 L97.35,568.98 L97.64,569.04 L97.93,569.10 L98.21,569.16 L98.50,569.21 L98.79,569.27 L99.07,569.32 L99.36,569.38 L99.65,569.44 L99.93,569.49 L100.22,569.55 L100.51,569.60 L100.79,569.66 L101.08,569.72 L101.37,569.77 L101.65,569.83 L101.94,569.88 L102.23,569.94 L102.51,569.99 L102.80,570.04 L103.09,570.10 L103.37,570.15 L103.66,570.21 L103.94,570.26 L104.23,570.32 L104.52,570.37 L104.80,570.42 L105.09,570.48 L105.38,570.53 L105.66,570.58 L105.95,570.64 L106.24,570.69 L106.52,570.74 L106.81,570.80 L107.10,570.85 L107.38,570.90 L107.67,570.95 L107.96,571.01 L108.24,571.06 L108.53,571.11 L108.82,571.16 L109.10,571.21 L109.39,571.27 L109.68,571.32 L109.96,571.37 L111.11,571.58 L112.25,571.78 L113.40,571.98 L114.55,572.18 L115.69,572.38 L116.84,572.58 L117.99,572.77 L119.13,572.97 L120.28,573.16 L121.43,573.35 L122.57,573.54 L123.72,573.73 L124.86,573.92 L126.01,574.10 L127.16,574.29 L128.30,574.47 L129.45,574.66 L130.59,574.84 L131.74,575.02 L132.89,575.20 L134.03,575.37 L135.18,575.55 L136.33,575.72 L137.47,575.90 L138.62,576.07 L139.76,576.24 L140.91,576.42 L142.06,576.59 L143.20,576.76 L144.35,576.92 L145.50,577.09 L146.64,577.26 L147.79,577.42 L148.93,577.59 L150.08,577.75 L151.23,577.91 L152.37,578.08 L153.52,578.24 L154.67,578.40 L155.81,578.56 L156.96,578.72 L158.10,578.87 L159.25,579.03 L160.40,579.19 L161.54,579.34 L162.69,579.50 L163.84,579.65 L164.98,579.80 L166.13,579.96 L167.28,580.11 L168.42,580.26 L169.57,580.41 L170.71,580.56 L171.86,580.71 L173.01,580.86 L174.15,581.00 L175.30,581.15 L176.44,581.30 L177.59,581.44 L178.74,581.59 L179.88,581.73 L181.03,581.88 L182.18,582.02 L183.32,582.16 L184.47,582.30 L185.61,582.45 L186.76,582.59 L187.91,582.73 L189.05,582.87 L190.20,583.01 L191.35,583.15 L192.49,583.28 L193.64,583.42 L194.78,583.56 L195.93,583.70 L197.08,583.83 L198.22,583.97 L199.37,584.10 L200.52,584.24 L201.66,584.37 L202.81,584.50 L203.96,584.64 L205.10,584.77 L206.25,584.90 L207.39,585.03 L208.54,585.17 L209.69,585.30 L210.83,585.43 L211.98,585.56 L213.12,585.69 L214.27,585.82 L215.42,585.94 L216.56,586.07 L217.71,586.20 L218.86,586.33 L220.00,586.45 L221.15,586.58 L222.29,586.71 L223.44,586.83 L224.59,586.96 L225.73,587.08 L226.88,587.21 L228.03,587.33 L229.17,587.45 L230.32,587.58 L231.47,587.70 L232.61,587.82 L233.76,587.95 L234.90,588.07 L236.05,588.19 L237.20,588.31 L238.34,588.43 L239.49,588.55 L240.63,588.67 L241.78,588.79 L242.93,588.91 L244.07,589.03 L245.22,589.15 L246.37,589.27 L247.51,589.38 L248.66,589.50 L249.81,589.62 L250.95,589.74 L252.10,589.85 L253.24,589.97 L254.39,590.08 L255.54,590.20 L256.68,590.32 L257.83,590.43 L258.97,590.55 L260.12,590.66 L261.27,590.77 L262.41,590.89 L263.56,591.00 L264.71,591.11 L265.85,591.23 L267.00,591.34 L268.14,591.45 L269.29,591.56 L270.44,591.68 L271.58,591.79 L272.73,591.90 L273.88,592.01 L275.02,592.12 L276.17,592.23 L277.31,592.34 L278.46,592.45 L279.61,592.56 L280.75,592.67 L281.90,592.78 L283.05,592.89 L284.19,593.00 L285.34,593.11 L286.48,593.21 L287.63,593.32 L288.78,593.43 L289.92,593.54 L291.07,593.64 L292.22,593.75 L293.36,593.86 L294.51,593.96 L295.65,594.07 L296.80,594.17 L297.95,594.28 L299.09,594.38 L300.24,594.49 L301.39,594.59 L302.53,594.70 L303.68,594.80 L304.82,594.91 L305.97,595.01 L307.12,595.12 L308.26,595.22 L309.41,595.32 L310.56,595.43 L311.70,595.53 L312.85,595.63 L313.99,595.73 L315.14,595.83 L316.29,595.94 L317.43,596.04 L318.58,596.14 L319.73,596.24 L320.87,596.34 L322.02,596.44 L323.16,596.54 L324.31,596.64 L325.46,596.74 L326.60,596.84 L327.75,596.94 L328.90,597.04 L330.04,597.14 L331.19,597.24 L332.33,597.34 L333.48,597.44 L334.63,597.54 L335.77,597.64 L336.92,597.74 L338.07,597.83 L339.21,597.93 L340.36,598.03 L341.50,598.13 L342.65,598.22 L343.80,598.32 L344.94,598.42 L346.09,598.51 L347.24,598.61 L348.38,598.71 L349.53,598.80 L350.67,598.90 L351.82,599.00 L352.97,599.09 L354.11,599.19 L355.26,599.28 L356.41,599.38 L357.55,599.47 L358.70,599.57 L359.84,599.66 L360.99,599.76 L362.14,599.85 L363.28,599.94 L364.43,600.04 L365.58,600.13 L366.72,600.22 L367.87,600.32 L369.01,600.41 L370.16,600.50 L371.31,600.60 L372.45,600.69 L373.60,600.78 L374.75,600.88 L375.89,600.97 L377.04,601.06 L378.18,601.15 L379.33,601.24 L380.48,601.33 L381.62,601.43 L382.77,601.52 L383.92,601.61 L385.06,601.70 L386.21,601.79 L387.35,601.88 L388.50,601.97 L389.65,602.06 L390.79,602.15 L391.94,602.24 L393.09,602.33 L394.23,602.42 L395.38,602.51 L396.52,602.60 L397.67,602.69 L398.82,602.78 L399.96,602.87 L401.11,602.96 L402.26,603.05 L403.40,603.14 L404.55,603.22 L405.69,603.31 L406.84,603.40 L407.99,603.49 L409.13,603.58 L410.28,603.66 L411.43,603.75 L412.57,603.84 L413.72,603.93 L414.86,604.01 L416.01,604.10 L417.16,604.19 L418.30,604.28 L419.45,604.36 L420.60,604.45 L421.74,604.53 L422.89,604.62 L424.03,604.71 L425.18,604.79 L426.33,604.88 L427.47,604.97 L428.62,605.05 L429.77,605.14 L430.91,605.22 L432.06,605.31 L433.20,605.39 L434.35,605.48 L435.50,605.56 L436.64,605.65 L437.79,605.73 L438.94,605.82 L440.08,605.90 L441.23,605.98 L442.38,606.07 L443.52,606.15 L444.67,606.24 L445.81,606.32 L446.96,606.40 L448.11,606.49 L449.25,606.57 L450.40,606.65 L451.54,606.74 L452.69,606.82 L453.84,606.90 L454.98,606.99 L456.13,607.07 L457.28,607.15 L458.42,607.23 L459.57,607.32 L460.71,607.40 L461.86,607.48 L463.01,607.56 L464.15,607.65 L465.30,607.73 L466.45,607.81 L467.59,607.89 L468.74,607.97 L469.88,608.05 L471.03,608.14 L472.18,608.22 L473.32,608.30 L474.47,608.38 L475.62,608.46 L476.76,608.54 L477.91,608.62 L479.05,608.70 L480.20,608.78 L481.35,608.86 L482.49,608.94 L483.64,609.02 L484.79,609.10 L485.93,609.18 L487.08,609.26 L488.22,609.34 L489.37,609.42 L490.52,609.50 L491.66,609.58 L492.81,609.66 L493.96,609.74 L495.10,609.82 L496.25,609.90 L497.39,609.98 L498.54,610.05 L499.69,610.13 L500.83,610.21 L501.98,610.29 L503.13,610.37 L504.27,610.45 L505.42,610.52 L506.57,610.60 L507.71,610.68 L508.86,610.76 L510.00,610.84 L511.15,610.91" stroke="#0000ff"/>
<path d="M52.65,558.90 L52.94,558.90 L53.22,558.91 L53.51,558.91 L53.80,558.92 L54.08,558.94 L54.37,558.95 L54.66,558.97 L54.94,558.99 L55.23,559.02 L55.52,559.04 L55.80,559.07 L56.09,559.10 L56.38,559.13 L56.66,559.16 L56.95,559.19 L57.23,559.23 L57.52,559.26 L57.81,559.30 L58.09,559.33 L58.38,559.37 L58.67,559.40 L58.95,559.44 L59.24,559.48 L59.53,559.52 L59.81,559.56 L60.10,559.59 L60.39,559.63 L60.67,559.67 L60.96,559.71 L61.25,559.75 L61.53,559.79 L61.82,559.82 L62.11,559.86 L62.39,559.90 L62.68,559.94 L62.97,559.98 L63.25,560.02 L63.54,560.05 L63.83,560.09 L64.11,560.13 L64.40,560.17 L64.69,560.21 L64.97,560.24 L65.26,560.28 L65.55,560.32 L65.83,560.35 L66.12,560.39 L66.41,560.43 L66.69,560.46 L66.98,560.50 L67.26,560.54 L67.55,560.57 L67.84,560.61 L68.12,560.64 L68.41,560.68 L68.70,560.71 L68.98,560.75 L69.27,560.78 L69.56,560.82 L69.84,560.85 L70.13,560.89 L70.42,560.92 L70.70,560.96 L70.99,560.99 L71.28,561.02 L71.56,561.06 L71.85,561.09 L72.14,561.12 L72.42,561.16 L72.71,561.19 L73.00,561.22 L73.28,561.26 L73.57,561.29 L73.86,561.32 L74.14,561.35 L74.43,561.39 L74.72,561.42 L75.00,561.45 L75.29,561.48 L75.58,561.51 L75.86,561.54 L76.15,561.58 L76.43,561.61 L76.72,561.64 L77.01,561.67 L77.29,561.70 L77.58,561.73 L77.87,561.76 L78.15,561.79 L78.44,561.82 L78.73,561.85 L79.01,561.88 L79.30,561.91 L79.59,561.94 L79.87,561.97 L80.16,562.00 L80.45,562.03 L80.73,562.06 L81.02,562.09 L81.31,562.12 L81.59,562.15 L81.88,562.17 L82.17,562.20 L82.45,562.23 L82.74,562.26 L83.03,562.29 L83.31,562.32 L83.60,562.35 L83.89,562.37 L84.17,562.40 L84.46,562.43 L84.75,562.46 L85.03,562.48 L85.32,562.51 L85.60,562.54 L85.89,562.57 L86.18,562.59 L86.46,562.62 L86.75,562.65 L87.04,562.68 L87.32,562.70 L87.61,562.73 L87.90,562.76 L88.18,562.78 L88.47,562.81 L88.76,562.84 L89.04,562.86 L89.33,562.89 L89.62,562.92 L89.90,562.94 L90.19,562.97 L90.48,562.99 L90.76,563.02 L91.05,563.05 L91.34,563.07 L91.62,563.10 L91.91,563.12 L92.20,563.15 L92.48,563.17 L92.77,563.20 L93.06,563.22 L93.34,563.25 L93.63,563.27 L93.91,563.30 L94.20,563.32 L94.49,563.35 L94.77,563.37 L95.06,563.40 L95.35,563.42 L95.63,563.45 L95.92,563.47 L96.21,563.50 L96.49,563.52 L96.78,563.55 L97.07,563.57 L97.35,563.59 L97.64,563.62 L97.93,563.64 L98.21,563.67 L98.50,563.69 L98.79,563.71 L99.07,563.74 L99.36,563.76 L99.65,563.79 L99.93,563.81 L100.22,563.83 L100.51,563.86 L100.79,563.88 L101.08,563.90 L101.37,563.93 L101.65,563.95 L101.94,563.97 L102.23,564.00 L102.51,564.02 L102.80,564.04 L103.09,564.06 L103.37,564.09 L103.66,564.11 L103.94,564.13 L104.23,564.16 L104.52,564.18 L104.80,564.20 L105.09,564.22 L105.38,564.25 L105.66,564.27 L105.95,564.29 L106.24,564.31 L106.52,564.34 L106.81,564.36 L107.10,564.38 L107.38,564.40 L107.67,564.42 L107.96,564.45 L108.24,564.47 L108.53,564.49 L108.82,564.51 L109.10,564.53 L109.39,564.56 L109.68,564.58 L109.96,564.60 L111.11,564.69 L112.25,564.77 L113.40,564.86 L114.55,564.94 L115.69,565.02 L116.84,565.11 L117.99,565.19 L119.13,565.27 L120.28,565.35 L121.43,565.43 L122.57,565.51 L123.72,565.59 L124.86,565.67 L126.01,565.74 L127.16,565.82 L128.30,565.90 L129.45,565.97 L130.59,566.05 L131.74,566.12 L132.89,566.20 L134.03,566.27 L135.18,566.35 L136.33,566.42 L137.47,566.49 L138.62,566.56 L139.76,566.64 L140.91,566.71 L142.06,566.78 L143.20,566.85 L144.35,566.92 L145.50,566.99 L146.64,567.06 L147.79,567.13 L148.93,567.19 L150.08,567.26 L151.23,567.33 L152.37,567.40 L153.52,567.46 L154.67,567.53 L155.81,567.60 L156.96,567.66 L158.10,567.73 L159.25,567.79 L160.40,567.86 L161.54,567.92 L162.69,567.99 L163.84,568.05 L164.98,568.11 L166.13,568.18 L167.28,568.24 L168.42,568.30 L169.57,568.37 L170.71,568.43 L171.86,568.49 L173.01,568.55 L174.15,568.61 L175.30,568.67 L176.44,568.73 L177.59,568.79 L178.74,568.85 L179.88,568.91 L181.03,568.97 L182.18,569.03 L183.32,569.09 L184.47,569.15 L185.61,569.21 L186.76,569.27 L187.91,569.33 L189.05,569.38 L190.20,569.44 L191.35,569.50 L192.49,569.56 L193.64,569.61 L194.78,569.67 L195.93,569.73 L197.08,569.78 L198.22,569.84 L199.37,569.89 L200.52,569.95 L201.66,570.00 L202.81,570.06 L203.96,570.12 L205.10,570.17 L206.25,570.22 L207.39,570.28 L208.54,570.33 L209.69,570.39 L210.83,570.44 L211.98,570.50 L213.12,570.55 L214.27,570.60 L215.42,570.66 L216.56,570.71 L217.71,570.76 L218.86,570.81 L220.00,570.87 L221.15,570.92 L222.29,570.97 L223.44,571.02 L224.59,571.07 L225.73,571.13 L226.88,571.18 L228.03,571.23 L229.17,571.28 L230.32,571.33 L231.47,571.38 L232.61,571.43 L233.76,571.48 L234.90,571.53 L236.05,571.58 L237.20,571.63 L238.34,571.68 L239.49,571.73 L240.63,571.78 L241.78,571.83 L242.93,571.88 L244.07,571.93 L245.22,571.98 L246.37,572.03 L247.51,572.08 L248.66,572.12 L249.81,572.17 L250.95,572.22 L252.10,572.27 L253.24,572.32 L254.39,572.36 L255.54,572.41 L256.68,572.46 L257.83,572.51 L258.97,572.55 L260.12,572.60 L261.27,572.65 L262.41,572.70 L263.56,572.74 L264.71,572.79 L265.85,572.84 L267.00,572.88 L268.14,572.93 L269.29,572.98 L270.44,573.02 L271.58,573.07 L272.73,573.11 L273.88,573.16 L275.02,573.20 L276.17,573.25 L277.31,573.30 L278.46,573.34 L279.61,573.39 L280.75,573.43 L281.90,573.48 L283.05,573.52 L284.19,573.57 L285.34,573.61 L286.48,573.65 L287.63,573.70 L288.78,573.74 L289.92,573.79 L291.07,573.83 L292.22,573.88 L293.36,573.92 L294.51,573.96 L295.65,574.01 L296.80,574.05 L297.95,574.09 L299.09,574.14 L300.24,574.18 L301.39,574.22 L302.53,574.27 L303.68,574.31 L304.82,574.35 L305.97,574.40 L307.12,574.44 L308.26,574.48 L309.41,574.52 L310.56,574.57 L311.70,574.61 L312.85,574.65 L313.99,574.69 L315.14,574.73 L316.29,574.78 L317.43,574.82 L318.58,574.86 L319.73,574.90 L320.87,574.94 L322.02,574.99 L323.16,575.03 L324.31,575.07 L325.46,575.11 L326.60,575.15 L327.75,575.19 L328.90,575.23 L330.04,575.27 L331.19,575.31 L332.33,575.36 L333.48,575.40 L334.63,575.44 L335.77,575.48 L336.92,575.52 L338.07,575.56 L339.21,575.60 L340.36,575.64 L341.50,575.68 L342.65,575.72 L343.80,575.76 L344.94,575.80 L346.09,575.84 L347.24,575.88 L348.38,575.92 L349.53,575.96 L350.67,576.00 L351.82,576.04 L352.97,576.08 L354.11,576.12 L355.26,576.15 L356.41,576.19 L357.55,576.23 L358.70,576.27 L359.84,576.31 L360.99,576.35 L362.14,576.39 L363.28,576.43 L364.43,576.47 L365.58,576.50 L366.72,576.54 L367.87,576.58 L369.01,576.62 L370.16,576.66 L371.31,576.70 L372.45,576.73 L373.60,576.77 L374.75,576.81 L375.89,576.85 L377.04,576.89 L378.18,576.92 L379.33,576.96 L380.48,577.00 L381.62,577.04 L382.77,577.07 L383.92,577.11 L385.06,577.15 L386.21,577.19 L387.35,577.22 L388.50,577.26 L389.65,577.30 L390.79,577.34 L391.94,577.37 L393.09,577.41 L394.23,577.45 L395.38,577.48 L396.52,577.52 L397.67,577.56 L398.82,577.59 L399.96,577.63 L401.11,577.67 L402.26,577.70 L403.40,577.74 L404.55,577.78 L405.69,577.81 L406.84,577.85 L407.99,577.89 L409.13,577.92 L410.28,577.96 L411.43,577.99 L412.57,578.03 L413.72,578.07 L414.86,578.10 L416.01,578.14 L417.16,578.17 L418.30,578.21 L419.45,578.25 L420.60,578.28 L421.74,578.32 L422.89,578.35 L424.03,578.39 L425.18,578.42 L426.33,578.46 L427.47,578.49 L428.62,578.53 L429.77,578.56 L430.91,578.60 L432.06,578.63 L433.20,578.67 L434.35,578.70 L435.50,578.74 L436.64,578.77 L437.79,578.81 L438.94,578.84 L440.08,578.88 L441.23,578.91 L442.38,578.95 L443.52,578.98 L444.67,579.02 L445.81,579.05 L446.96,579.09 L448.11,579.12 L449.25,579.15 L450.40,579.19 L451.54,579.22 L452.69,579.26 L453.84,579.29 L454.98,579.32 L456.13,579.36 L457.28,579.39 L458.42,579.43 L459.57,579.46 L460.71,579.49 L461.86,579.53 L463.01,579.56 L464.15,579.60 L465.30,579.63 L466.45,579.66 L467.59,579.70 L468.74,579.73 L469.88,579.76 L471.03,579.80 L472.18,579.83 L473.32,579.86 L474.47,579.90 L475.62,579.93 L476.76,579.96 L477.91,580.00 L479.05,580.03 L480.20,580.06 L481.35,580.10 L482.49,580.13 L483.64,580.16 L484.79,580.19 L485.93,580.23 L487.08,580.26 L488.22,580.29 L489.37,580.33 L490.52,580.36 L491.66,580.39 L492.81,580.42 L493.96,580.46 L495.10,580.49 L496.25,580.52 L497.39,580.55 L498.54,580.59 L499.69,580.62 L500.83,580.65 L501.98,580.68 L503.13,580.72 L504.27,580.75 L505.42,580.78 L506.57,580.81 L507.71,580.84 L508.86,580.88 L510.00,580.91 L511.15,580.94" stroke="#ff00ff"/>
<path d="M52.65,558.90 L52.94,558.90 L53.22,558.90 L53.51,558.90 L53.80,558.90 L54.08,558.90 L54.37,558.90 L54.66,558.91 L54.94,558.91 L55.23,558.91 L55.52,558.91 L55.80,558.91 L56.09,558.92 L56.38,558.92 L56.66,558.92 L56.95,558.93 L57.23,558.93 L57.52,558.93 L57.81,558.94 L58.09,558.94 L58.38,558.94 L58.67,558.95 L58.95,558.95 L59.24,558.96 L59.53,558.96 L59.81,558.97 L60.10,558.97 L60.39,558.98 L60.67,558.98 L60.96,558.99 L61.25,558.99 L61.53,559.00 L61.82,559.00 L62.11,559.01 L62.39,559.01 L62.68,559.02 L62.97,559.02 L63.25,559.03 L63.54,559.04 L63.83,559.04 L64.11,559.05 L64.40,559.05 L64.69,559.06 L64.97,559.07 L65.26,559.07 L65.55,559.08 L65.83,559.09 L66.12,559.09 L66.41,559.10 L66.69,559.10 L66.98,559.11 L67.26,559.12 L67.55,559.12 L67.84,559.13 L68.12,559.14 L68.41,559.14 L68.70,559.15 L68.98,559.16 L69.27,559.16 L69.56,559.17 L69.84,559.18 L70.13,559.18 L70.42,559.19 L70.70,559.20 L70.99,559.20 L71.28,559.21 L71.56,559.22 L71.85,559.22 L72.14,559.23 L72.42,559.24 L72.71,559.24 L73.00,559.25 L73.28,559.26 L73.57,559.26 L73.86,559.27 L74.14,559.28 L74.43,559.28 L74.72,559.29 L75.00,559.30 L75.29,559.30 L75.58,559.31 L75.86,559.32 L76.15,559.32 L76.43,559.33 L76.72,559.33 L77.01,559.34 L77.29,559.35 L77.58,559.35 L77.87,559.36 L78.15,559.37 L78.44,559.37 L78.73,559.38 L79.01,559.39 L79.30,559.39 L79.59,559.40 L79.87,559.41 L80.16,559.41 L80.45,559.42 L80.73,559.43 L81.02,559.43 L81.31,559.44 L81.59,559.45 L81.88,559.45 L82.17,559.46 L82.45,559.46 L82.74,559.47 L83.03,559.48 L83.31,559.48 L83.60,559.49 L83.89,559.50 L84.17,559.50 L84.46,559.51 L84.75,559.51 L85.03,559.52 L85.32,559.53 L85.60,559.53 L85.89,559.54 L86.18,559.55 L86.46,559.55 L86.75,559.56 L87.04,559.56 L87.32,559.57 L87.61,559.58 L87.90,559.58 L88.18,559.59 L88.47,559.60 L88.76,559.60 L89.04,559.61 L89.33,559.61 L89.62,559.62 L89.90,559.63 L90.19,559.63 L90.48,559.64 L90.76,559.64 L91.05,559.65 L91.34,559.66 L91.62,559.66 L91.91,559.67 L92.20,559.67 L92.48,559.68 L92.77,559.69 L93.06,559.69 L93.34,559.70 L93.63,559.70 L93.91,559.71 L94.20,559.71 L94.49,559.72 L94.77,559.73 L95.06,559.73 L95.35,559.74 L95.63,559.74 L95.92,559.75 L96.21,559.76 L96.49,559.76 L96.78,559.77 L97.07,559.77 L97.35,559.78 L97.64,559.78 L97.93,559.79 L98.21,559.80 L98.50,559.80 L98.79,559.81 L99.07,559.81 L99.36,559.82 L99.65,559.82 L99.93,559.83 L100.22,559.84 L100.51,559.84 L100.79,559.85 L101.08,559.85 L101.37,559.86 L101.65,559.86 L101.94,559.87 L102.23,559.87 L102.51,559.88 L102.80,559.89 L103.09,559.89 L103.37,559.90 L103.66,559.90 L103.94,559.91 L104.23,559.91 L104.52,559.92 L104.80,559.92 L105.09,559.93 L105.38,559.93 L105.66,559.94 L105.95,559.95 L106.24,559.95 L106.52,559.96 L106.81,559.96 L107.10,559.97 L107.38,559.97 L107.67,559.98 L107.96,559.98 L108.24,559.99 L108.53,559.99 L108.82,560.00 L109.10,560.00 L109.39,560.01 L109.68,560.02 L109.96,560.02 L111.11,560.04 L112.25,560.06 L113.40,560.08 L114.55,560.10 L115.69,560.12 L116.84,560.14 L117.99,560.16 L119.13,560.18 L120.28,560.20 L121.43,560.22 L122.57,560.24 L123.72,560.26 L124.86,560.28 L126.01,560.30 L127.16,560.32 L128.30,560.34 L129.45,560.36 L130.59,560.38 L131.74,560.40 L132.89,560.41 L134.03,560.43 L135.18,560.45 L136.33,560.47 L137.47,560.49 L138.62,560.51 L139.76,560.52 L140.91,560.54 L142.06,560.56 L143.20,560.58 L144.35,560.59 L145.50,560.61 L146.64,560.63 L147.79,560.65 L148.93,560.66 L150.08,560.68 L151.23,560.70 L152.37,560.71 L153.52,560.73 L154.67,560.75 L155.81,560.77 L156.96,560.78 L158.10,560.80 L159.25,560.81 L160.40,560.83 L161.54,560.85 L162.69,560.86 L163.84,560.88 L164.98,560.90 L166.13,560.91 L167.28,560.93 L168.42,560.94 L169.57,560.96 L170.71,560.98 L171.86,560.99 L173.01,561.01 L174.15,561.02 L175.30,561.04 L176.44,561.05 L177.59,561.07 L178.74,561.08 L179.88,561.10 L181.03,561.11 L182.18,561.13 L183.32,561.14 L184.47,561.16 L185.61,561.17 L186.76,561.19 L187.91,561.20 L189.05,561.22 L190.20,561.23 L191.35,561.25 L192.49,561.26 L193.64,561.28 L194.78,561.29 L195.93,561.31 L197.08,561.32 L198.22,561.33 L199.37,561.35 L200.52,561.36 L201.66,561.38 L202.81,561.39 L203.96,561.40 L205.10,561.42 L206.25,561.43 L207.39,561.45 L208.54,561.46 L209.69,561.47 L210.83,561.49 L211.98,561.50 L213.12,561.52 L214.27,561.53 L215.42,561.54 L216.56,561.56 L217.71,561.57 L218.86,561.58 L220.00,561.60 L221.15,561.61 L222.29,561.62 L223.44,561.64 L224.59,561.65 L225.73,561.66 L226.88,561.68 L228.03,561.69 L229.17,561.70 L230.32,561.72 L231.47,561.73 L232.61,561.74 L233.76,561.75 L234.90,561.77 L236.05,561.78 L237.20,561.79 L238.34,561.81 L239.49,561.82 L240.63,561.83 L241.78,561.84 L242.93,561.86 L244.07,561.87 L245.22,561.88 L246.37,561.89 L247.51,561.91 L248.66,561.92 L249.81,561.93 L250.95,561.94 L252.10,561.96 L253.24,561.97 L254.39,561.98 L255.54,561.99 L256.68,562.01 L257.83,562.02 L258.97,562.03 L260.12,562.04 L261.27,562.05 L262.41,562.07 L263.56,562.08 L264.71,562.09 L265.85,562.10 L267.00,562.11 L268.14,562.13 L269.29,562.14 L270.44,562.15 L271.58,562.16 L272.73,562.17 L273.88,562.19 L275.02,562.20 L276.17,562.21 L277.31,562.22 L278.46,562.23 L279.61,562.24 L280.75,562.26 L281.90,562.27 L283.05,562.28 L284.19,562.29 L285.34,562.30 L286.48,562.31 L287.63,562.32 L288.78,562.34 L289.92,562.35 L291.07,562.36 L292.22,562.37 L293.36,562.38 L294.51,562.39 L295.65,562.40 L296.80,562.41 L297.95,562.43 L299.09,562.44 L300.24,562.45 L301.39,562.46 L302.53,562.47 L303.68,562.48 L304.82,562.49 L305.97,562.50 L307.12,562.51 L308.26,562.53 L309.41,562.54 L310.56,562.55 L311.70,562.56 L312.85,562.57 L313.99,562.58 L315.14,562.59 L316.29,562.60 L317.43,562.61 L318.58,562.62 L319.73,562.63 L320.87,562.65 L322.02,562.66 L323.16,562.67 L324.31,562.68 L325.46,562.69 L326.60,562.70 L327.75,562.71 L328.90,562.72 L330.04,562.73 L331.19,562.74 L332.33,562.75 L333.48,562.76 L334.63,562.77 L335.77,562.78 L336.92,562.79 L338.07,562.80 L339.21,562.81 L340.36,562.82 L341.50,562.83 L342.65,562.85 L343.80,562.86 L344.94,562.87 L346.09,562.88 L347.24,562.89 L348.38,562.90 L349.53,562.91 L350.67,562.92 L351.82,562.93 L352.97,562.94 L354.11,562.95 L355.26,562.96 L356.41,562.97 L357.55,562.98 L358.70,562.99 L359.84,563.00 L360.99,563.01 L362.14,563.02 L363.28,563.03 L364.43,563.04 L365.58,563.05 L366.72,563.06 L367.87,563.07 L369.01,563.08 L370.16,563.09 L371.31,563.10 L372.45,563.11 L373.60,563.12 L374.75,563.13 L375.89,563.14 L377.04,563.15 L378.18,563.16 L379.33,563.17 L380.48,563.18 L381.62,563.19 L382.77,563.20 L383.92,563.21 L385.06,563.22 L386.21,563.23 L387.35,563.23 L388.50,563.24 L389.65,563.25 L390.79,563.26 L391.94,563.27 L393.09,563.28 L394.23,563.29 L395.38,563.30 L396.52,563.31 L397.67,563.32 L398.82,563.33 L399.96,563.34 L401.11,563.35 L402.26,563.36 L403.40,563.37 L404.55,563.38 L405.69,563.39 L406.84,563.40 L407.99,563.41 L409.13,563.42 L410.28,563.42 L411.43,563.43 L412.57,563.44 L413.72,563.45 L414.86,563.46 L416.01,563.47 L417.16,563.48 L418.30,563.49 L419.45,563.50 L420.60,563.51 L421.74,563.52 L422.89,563.53 L424.03,563.54 L425.18,563.54 L426.33,563.55 L427.47,563.56 L428.62,563.57 L429.77,563.58 L430.91,563.59 L432.06,563.60 L433.20,563.61 L434.35,563.62 L435.50,563.63 L436.64,563.64 L437.79,563.64 L438.94,563.65 L440.08,563.66 L441.23,563.67 L442.38,563.68 L443.52,563.69 L444.67,563.70 L445.81,563.71 L446.96,563.72 L448.11,563.73 L449.25,563.73 L450.40,563.74 L451.54,563.75 L452.69,563.76 L453.84,563.77 L454.98,563.78 L456.13,563.79 L457.28,563.80 L458.42,563.81 L459.57,563.81 L460.71,563.82 L461.86,563.83 L463.01,563.84 L464.15,563.85 L465.30,563.86 L466.45,563.87 L467.59,563.88 L468.74,563.88 L469.88,563.89 L471.03,563.90 L472.18,563.91 L473.32,563.92 L474.47,563.93 L475.62,563.94 L476.76,563.94 L477.91,563.95 L479.05,563.96 L480.20,563.97 L481.35,563.98 L482.49,563.99 L483.64,564.00 L484.79,564.00 L485.93,564.01 L487.08,564.02 L488.22,564.03 L489.37,564.04 L490.52,564.05 L491.66,564.06 L492.81,564.06 L493.96,564.07 L495.10,564.08 L496.25,564.09 L497.39,564.10 L498.54,564.11 L499.69,564.11 L500.83,564.12 L501.98,564.13 L503.13,564.14 L504.27,564.15 L505.42,564.16 L506.57,564.16 L507.71,564.17 L508.86,564.18 L510.00,564.19 L511.15,564.20" stroke="#008000"/>
<path d="M52.65,558.90 L53.52,558.90 L54.39,558.90 L55.26,558.91 L56.13,558.92 L57.01,558.93" stroke="#00001a" stroke-linecap="butt"/>
</g>
<g clip-path="url(#cc)" fill="none" stroke-width="2.3" stroke-linejoin="round">
<path d="M52.65,745.60 L52.94,745.82 L53.22,746.49 L53.51,747.58 L53.80,749.09 L54.08,750.99 L54.37,753.25 L54.66,755.85 L54.94,758.73 L55.23,761.87 L55.52,765.23 L55.80,768.77 L56.09,772.44 L56.38,776.21 L56.66,780.05 L56.95,783.93 L57.23,787.81 L57.52,791.67 L57.81,795.48 L58.09,799.23 L58.38,802.89 L58.67,806.47 L58.95,809.93 L59.24,813.29 L59.53,816.52 L59.81,819.62 L60.10,822.60 L60.39,825.45 L60.67,828.17 L60.96,830.77 L61.25,833.24 L61.53,835.59 L61.82,837.82 L62.11,839.94 L62.39,841.94 L62.68,843.84 L62.97,845.64 L63.25,847.34 L63.54,848.95 L63.83,850.46 L64.11,851.90 L64.40,853.26 L64.69,854.53 L64.97,855.74 L65.26,856.88 L65.55,857.96 L65.83,858.98 L66.12,859.94 L66.41,860.84 L66.69,861.69 L66.98,862.50 L67.26,863.26 L67.55,863.98 L67.84,864.66 L68.12,865.30 L68.41,865.90 L68.70,866.47 L68.98,867.01 L69.27,867.52 L69.56,868.00 L69.84,868.45 L70.13,868.88 L70.42,869.28 L70.70,869.66 L70.99,870.02 L71.28,870.36 L71.56,870.69 L71.85,870.99 L72.14,871.28 L72.42,871.55 L72.71,871.80 L73.00,872.05 L73.28,872.27 L73.57,872.49 L73.86,872.69 L74.14,872.89 L74.43,873.07 L74.72,873.24 L75.00,873.40 L75.29,873.55 L75.58,873.70 L75.86,873.83 L76.15,873.96 L76.43,874.08 L76.72,874.20 L77.01,874.30 L77.29,874.40 L77.58,874.50 L77.87,874.59 L78.15,874.67 L78.44,874.75 L78.73,874.82 L79.01,874.89 L79.30,874.96 L79.59,875.02 L79.87,875.08 L80.16,875.13 L80.45,875.18 L80.73,875.23 L81.02,875.27 L81.31,875.31 L81.59,875.35 L81.88,875.38 L82.17,875.42 L82.45,875.45 L82.74,875.47 L83.03,875.50 L83.31,875.52 L83.60,875.54 L83.89,875.56 L84.17,875.58 L84.46,875.60 L84.75,875.61 L85.03,875.62 L85.32,875.63 L85.60,875.64 L85.89,875.65 L86.18,875.66 L86.46,875.66 L86.75,875.67 L87.04,875.67 L87.32,875.67 L87.61,875.68 L87.90,875.68 L88.18,875.68 L88.47,875.67 L88.76,875.67 L89.04,875.67 L89.33,875.67 L89.62,875.66 L89.90,875.66 L90.19,875.65 L90.48,875.65 L90.76,875.64 L91.05,875.63 L91.34,875.62 L91.62,875.62 L91.91,875.61 L92.20,875.60 L92.48,875.59 L92.77,875.58 L93.06,875.57 L93.34,875.56 L93.63,875.55 L93.91,875.54 L94.20,875.53 L94.49,875.52 L94.77,875.50 L95.06,875.49 L95.35,875.48 L95.63,875.47 L95.92,875.45 L96.21,875.44 L96.49,875.43 L96.78,875.41 L97.07,875.40 L97.35,875.39 L97.64,875.37 L97.93,875.36 L98.21,875.35 L98.50,875.33 L98.79,875.32 L99.07,875.30 L99.36,875.29 L99.65,875.28 L99.93,875.26 L100.22,875.25 L100.51,875.23 L100.79,875.22 L101.08,875.20 L101.37,875.19 L101.65,875.17 L101.94,875.16 L102.23,875.15 L102.51,875.13 L102.80,875.12 L103.09,875.10 L103.37,875.09 L103.66,875.07 L103.94,875.06 L104.23,875.04 L104.52,875.03 L104.80,875.01 L105.09,875.00 L105.38,874.98 L105.66,874.97 L105.95,874.96 L106.24,874.94 L106.52,874.93 L106.81,874.91 L107.10,874.90 L107.38,874.88 L107.67,874.87 L107.96,874.86 L108.24,874.84 L108.53,874.83 L108.82,874.81 L109.10,874.80 L109.39,874.78 L109.68,874.77 L109.96,874.76 L111.11,874.70 L112.25,874.65 L113.40,874.59 L114.55,874.54 L115.69,874.49 L116.84,874.44 L117.99,874.39 L119.13,874.34 L120.28,874.30 L121.43,874.25 L122.57,874.21 L123.72,874.16 L124.86,874.12 L126.01,874.08 L127.16,874.04 L128.30,874.00 L129.45,873.96 L130.59,873.92 L131.74,873.88 L132.89,873.85 L134.03,873.81 L135.18,873.78 L136.33,873.74 L137.47,873.71 L138.62,873.68 L139.76,873.65 L140.91,873.61 L142.06,873.58 L143.20,873.56 L144.35,873.53 L145.50,873.50 L146.64,873.47 L147.79,873.44 L148.93,873.42 L150.08,873.39 L151.23,873.37 L152.37,873.34 L153.52,873.32 L154.67,873.30 L155.81,873.27 L156.96,873.25 L158.10,873.23 L159.25,873.21 L160.40,873.19 L161.54,873.16 L162.69,873.14 L163.84,873.12 L164.98,873.11 L166.13,873.09 L167.28,873.07 L168.42,873.05 L169.57,873.03 L170.71,873.01 L171.86,873.00 L173.01,872.98 L174.15,872.96 L175.30,872.95 L176.44,872.93 L177.59,872.92 L178.74,872.90 L179.88,872.89 L181.03,872.87 L182.18,872.86 L183.32,872.84 L184.47,872.83 L185.61,872.81 L186.76,872.80 L187.91,872.79 L189.05,872.78 L190.20,872.76 L191.35,872.75 L192.49,872.74 L193.64,872.73 L194.78,872.71 L195.93,872.70 L197.08,872.69 L198.22,872.68 L199.37,872.67 L200.52,872.66 L201.66,872.65 L202.81,872.64 L203.96,872.63 L205.10,872.62 L206.25,872.61 L207.39,872.60 L208.54,872.59 L209.69,872.58 L210.83,872.57 L211.98,872.56 L213.12,872.55 L214.27,872.54 L215.42,872.53 L216.56,872.52 L217.71,872.52 L218.86,872.51 L220.00,872.50 L221.15,872.49 L222.29,872.48 L223.44,872.47 L224.59,872.47 L225.73,872.46 L226.88,872.45 L228.03,872.44 L229.17,872.44 L230.32,872.43 L231.47,872.42 L232.61,872.42 L233.76,872.41 L234.90,872.40 L236.05,872.40 L237.20,872.39 L238.34,872.38 L239.49,872.38 L240.63,872.37 L241.78,872.36 L242.93,872.36 L244.07,872.35 L245.22,872.35 L246.37,872.34 L247.51,872.33 L248.66,872.33 L249.81,872.32 L250.95,872.32 L252.10,872.31 L253.24,872.31 L254.39,872.30 L255.54,872.29 L256.68,872.29 L257.83,872.28 L258.97,872.28 L260.12,872.27 L261.27,872.27 L262.41,872.26 L263.56,872.26 L264.71,872.25 L265.85,872.25 L267.00,872.25 L268.14,872.24 L269.29,872.24 L270.44,872.23 L271.58,872.23 L272.73,872.22 L273.88,872.22 L275.02,872.21 L276.17,872.21 L277.31,872.21 L278.46,872.20 L279.61,872.20 L280.75,872.19 L281.90,872.19 L283.05,872.19 L284.19,872.18 L285.34,872.18 L286.48,872.17 L287.63,872.17 L288.78,872.17 L289.92,872.16 L291.07,872.16 L292.22,872.15 L293.36,872.15 L294.51,872.15 L295.65,872.14 L296.80,872.14 L297.95,872.14 L299.09,872.13 L300.24,872.13 L301.39,872.13 L302.53,872.12 L303.68,872.12 L304.82,872.12 L305.97,872.11 L307.12,872.11 L308.26,872.11 L309.41,872.11 L310.56,872.10 L311.70,872.10 L312.85,872.10 L313.99,872.09 L315.14,872.09 L316.29,872.09 L317.43,872.08 L318.58,872.08 L319.73,872.08 L320.87,872.08 L322.02,872.07 L323.16,872.07 L324.31,872.07 L325.46,872.07 L326.60,872.06 L327.75,872.06 L328.90,872.06 L330.04,872.05 L331.19,872.05 L332.33,872.05 L333.48,872.05 L334.63,872.04 L335.77,872.04 L336.92,872.04 L338.07,872.04 L339.21,872.04 L340.36,872.03 L341.50,872.03 L342.65,872.03 L343.80,872.03 L344.94,872.02 L346.09,872.02 L347.24,872.02 L348.38,872.02 L349.53,872.01 L350.67,872.01 L351.82,872.01 L352.97,872.01 L354.11,872.01 L355.26,872.00 L356.41,872.00 L357.55,872.00 L358.70,872.00 L359.84,872.00 L360.99,871.99 L362.14,871.99 L363.28,871.99 L364.43,871.99 L365.58,871.99 L366.72,871.98 L367.87,871.98 L369.01,871.98 L370.16,871.98 L371.31,871.98 L372.45,871.98 L373.60,871.97 L374.75,871.97 L375.89,871.97 L377.04,871.97 L378.18,871.97 L379.33,871.96 L380.48,871.96 L381.62,871.96 L382.77,871.96 L383.92,871.96 L385.06,871.96 L386.21,871.95 L387.35,871.95 L388.50,871.95 L389.65,871.95 L390.79,871.95 L391.94,871.95 L393.09,871.94 L394.23,871.94 L395.38,871.94 L396.52,871.94 L397.67,871.94 L398.82,871.94 L399.96,871.94 L401.11,871.93 L402.26,871.93 L403.40,871.93 L404.55,871.93 L405.69,871.93 L406.84,871.93 L407.99,871.93 L409.13,871.92 L410.28,871.92 L411.43,871.92 L412.57,871.92 L413.72,871.92 L414.86,871.92 L416.01,871.92 L417.16,871.91 L418.30,871.91 L419.45,871.91 L420.60,871.91 L421.74,871.91 L422.89,871.91 L424.03,871.91 L425.18,871.91 L426.33,871.90 L427.47,871.90 L428.62,871.90 L429.77,871.90 L430.91,871.90 L432.06,871.90 L433.20,871.90 L434.35,871.90 L435.50,871.89 L436.64,871.89 L437.79,871.89 L438.94,871.89 L440.08,871.89 L441.23,871.89 L442.38,871.89 L443.52,871.89 L444.67,871.89 L445.81,871.88 L446.96,871.88 L448.11,871.88 L449.25,871.88 L450.40,871.88 L451.54,871.88 L452.69,871.88 L453.84,871.88 L454.98,871.88 L456.13,871.87 L457.28,871.87 L458.42,871.87 L459.57,871.87 L460.71,871.87 L461.86,871.87 L463.01,871.87 L464.15,871.87 L465.30,871.87 L466.45,871.87 L467.59,871.86 L468.74,871.86 L469.88,871.86 L471.03,871.86 L472.18,871.86 L473.32,871.86 L474.47,871.86 L475.62,871.86 L476.76,871.86 L477.91,871.86 L479.05,871.85 L480.20,871.85 L481.35,871.85 L482.49,871.85 L483.64,871.85 L484.79,871.85 L485.93,871.85 L487.08,871.85 L488.22,871.85 L489.37,871.85 L490.52,871.85 L491.66,871.85 L492.81,871.84 L493.96,871.84 L495.10,871.84 L496.25,871.84 L497.39,871.84 L498.54,871.84 L499.69,871.84 L500.83,871.84 L501.98,871.84 L503.13,871.84 L504.27,871.84 L505.42,871.84 L506.57,871.83 L507.71,871.83 L508.86,871.83 L510.00,871.83 L511.15,871.83" stroke="#000000"/>
<path d="M52.65,745.60 L52.94,745.80 L53.22,746.41 L53.51,747.42 L53.80,748.80 L54.08,750.53 L54.37,752.60 L54.66,754.96 L54.94,757.58 L55.23,760.43 L55.52,763.47 L55.80,766.67 L56.09,769.98 L56.38,773.37 L56.66,776.81 L56.95,780.28 L57.23,783.74 L57.52,787.17 L57.81,790.55 L58.09,793.86 L58.38,797.10 L58.67,800.24 L58.95,803.28 L59.24,806.21 L59.53,809.03 L59.81,811.74 L60.10,814.33 L60.39,816.80 L60.67,819.15 L60.96,821.39 L61.25,823.52 L61.53,825.54 L61.82,827.45 L62.11,829.26 L62.39,830.97 L62.68,832.59 L62.97,834.11 L63.25,835.56 L63.54,836.92 L63.83,838.20 L64.11,839.41 L64.40,840.55 L64.69,841.62 L64.97,842.63 L65.26,843.59 L65.55,844.49 L65.83,845.33 L66.12,846.13 L66.41,846.88 L66.69,847.58 L66.98,848.25 L67.26,848.87 L67.55,849.46 L67.84,850.01 L68.12,850.54 L68.41,851.03 L68.70,851.49 L68.98,851.93 L69.27,852.34 L69.56,852.72 L69.84,853.09 L70.13,853.43 L70.42,853.75 L70.70,854.06 L70.99,854.34 L71.28,854.61 L71.56,854.86 L71.85,855.10 L72.14,855.33 L72.42,855.54 L72.71,855.74 L73.00,855.92 L73.28,856.10 L73.57,856.26 L73.86,856.42 L74.14,856.57 L74.43,856.70 L74.72,856.83 L75.00,856.95 L75.29,857.07 L75.58,857.17 L75.86,857.27 L76.15,857.37 L76.43,857.45 L76.72,857.54 L77.01,857.61 L77.29,857.68 L77.58,857.75 L77.87,857.81 L78.15,857.87 L78.44,857.93 L78.73,857.98 L79.01,858.02 L79.30,858.07 L79.59,858.11 L79.87,858.14 L80.16,858.18 L80.45,858.21 L80.73,858.24 L81.02,858.26 L81.31,858.29 L81.59,858.31 L81.88,858.33 L82.17,858.35 L82.45,858.36 L82.74,858.38 L83.03,858.39 L83.31,858.40 L83.60,858.41 L83.89,858.42 L84.17,858.42 L84.46,858.43 L84.75,858.43 L85.03,858.43 L85.32,858.44 L85.60,858.44 L85.89,858.44 L86.18,858.43 L86.46,858.43 L86.75,858.43 L87.04,858.42 L87.32,858.42 L87.61,858.41 L87.90,858.41 L88.18,858.40 L88.47,858.39 L88.76,858.39 L89.04,858.38 L89.33,858.37 L89.62,858.36 L89.90,858.35 L90.19,858.34 L90.48,858.33 L90.76,858.32 L91.05,858.31 L91.34,858.30 L91.62,858.29 L91.91,858.27 L92.20,858.26 L92.48,858.25 L92.77,858.24 L93.06,858.22 L93.34,858.21 L93.63,858.20 L93.91,858.18 L94.20,858.17 L94.49,858.15 L94.77,858.14 L95.06,858.13 L95.35,858.11 L95.63,858.10 L95.92,858.08 L96.21,858.07 L96.49,858.05 L96.78,858.04 L97.07,858.02 L97.35,858.01 L97.64,857.99 L97.93,857.98 L98.21,857.96 L98.50,857.95 L98.79,857.93 L99.07,857.92 L99.36,857.90 L99.65,857.89 L99.93,857.87 L100.22,857.86 L100.51,857.84 L100.79,857.83 L101.08,857.81 L101.37,857.80 L101.65,857.78 L101.94,857.77 L102.23,857.75 L102.51,857.74 L102.80,857.72 L103.09,857.71 L103.37,857.69 L103.66,857.68 L103.94,857.66 L104.23,857.65 L104.52,857.63 L104.80,857.62 L105.09,857.61 L105.38,857.59 L105.66,857.58 L105.95,857.56 L106.24,857.55 L106.52,857.53 L106.81,857.52 L107.10,857.51 L107.38,857.49 L107.67,857.48 L107.96,857.46 L108.24,857.45 L108.53,857.44 L108.82,857.42 L109.10,857.41 L109.39,857.39 L109.68,857.38 L109.96,857.37 L111.11,857.31 L112.25,857.26 L113.40,857.21 L114.55,857.16 L115.69,857.11 L116.84,857.07 L117.99,857.02 L119.13,856.97 L120.28,856.93 L121.43,856.89 L122.57,856.85 L123.72,856.81 L124.86,856.77 L126.01,856.73 L127.16,856.69 L128.30,856.65 L129.45,856.62 L130.59,856.58 L131.74,856.55 L132.89,856.51 L134.03,856.48 L135.18,856.45 L136.33,856.42 L137.47,856.39 L138.62,856.36 L139.76,856.33 L140.91,856.30 L142.06,856.28 L143.20,856.25 L144.35,856.22 L145.50,856.20 L146.64,856.17 L147.79,856.15 L148.93,856.12 L150.08,856.10 L151.23,856.08 L152.37,856.06 L153.52,856.04 L154.67,856.01 L155.81,855.99 L156.96,855.97 L158.10,855.95 L159.25,855.93 L160.40,855.92 L161.54,855.90 L162.69,855.88 L163.84,855.86 L164.98,855.84 L166.13,855.83 L167.28,855.81 L168.42,855.79 L169.57,855.78 L170.71,855.76 L171.86,855.75 L173.01,855.73 L174.15,855.72 L175.30,855.70 L176.44,855.69 L177.59,855.68 L178.74,855.66 L179.88,855.65 L181.03,855.64 L182.18,855.62 L183.32,855.61 L184.47,855.60 L185.61,855.59 L186.76,855.57 L187.91,855.56 L189.05,855.55 L190.20,855.54 L191.35,855.53 L192.49,855.52 L193.64,855.51 L194.78,855.50 L195.93,855.49 L197.08,855.48 L198.22,855.47 L199.37,855.46 L200.52,855.45 L201.66,855.44 L202.81,855.43 L203.96,855.42 L205.10,855.41 L206.25,855.40 L207.39,855.39 L208.54,855.38 L209.69,855.38 L210.83,855.37 L211.98,855.36 L213.12,855.35 L214.27,855.34 L215.42,855.34 L216.56,855.33 L217.71,855.32 L218.86,855.31 L220.00,855.31 L221.15,855.30 L222.29,855.29 L223.44,855.29 L224.59,855.28 L225.73,855.27 L226.88,855.27 L228.03,855.26 L229.17,855.25 L230.32,855.25 L231.47,855.24 L232.61,855.23 L233.76,855.23 L234.90,855.22 L236.05,855.22 L237.20,855.21 L238.34,855.20 L239.49,855.20 L240.63,855.19 L241.78,855.19 L242.93,855.18 L244.07,855.18 L245.22,855.17 L246.37,855.17 L247.51,855.16 L248.66,855.16 L249.81,855.15 L250.95,855.15 L252.10,855.14 L253.24,855.14 L254.39,855.13 L255.54,855.13 L256.68,855.12 L257.83,855.12 L258.97,855.11 L260.12,855.11 L261.27,855.11 L262.41,855.10 L263.56,855.10 L264.71,855.09 L265.85,855.09 L267.00,855.08 L268.14,855.08 L269.29,855.08 L270.44,855.07 L271.58,855.07 L272.73,855.06 L273.88,855.06 L275.02,855.06 L276.17,855.05 L277.31,855.05 L278.46,855.05 L279.61,855.04 L280.75,855.04 L281.90,855.04 L283.05,855.03 L284.19,855.03 L285.34,855.02 L286.48,855.02 L287.63,855.02 L288.78,855.01 L289.92,855.01 L291.07,855.01 L292.22,855.01 L293.36,855.00 L294.51,855.00 L295.65,855.00 L296.80,854.99 L297.95,854.99 L299.09,854.99 L300.24,854.98 L301.39,854.98 L302.53,854.98 L303.68,854.98 L304.82,854.97 L305.97,854.97 L307.12,854.97 L308.26,854.96 L309.41,854.96 L310.56,854.96 L311.70,854.96 L312.85,854.95 L313.99,854.95 L315.14,854.95 L316.29,854.95 L317.43,854.94 L318.58,854.94 L319.73,854.94 L320.87,854.94 L322.02,854.93 L323.16,854.93 L324.31,854.93 L325.46,854.93 L326.60,854.92 L327.75,854.92 L328.90,854.92 L330.04,854.92 L331.19,854.92 L332.33,854.91 L333.48,854.91 L334.63,854.91 L335.77,854.91 L336.92,854.91 L338.07,854.90 L339.21,854.90 L340.36,854.90 L341.50,854.90 L342.65,854.89 L343.80,854.89 L344.94,854.89 L346.09,854.89 L347.24,854.89 L348.38,854.89 L349.53,854.88 L350.67,854.88 L351.82,854.88 L352.97,854.88 L354.11,854.88 L355.26,854.87 L356.41,854.87 L357.55,854.87 L358.70,854.87 L359.84,854.87 L360.99,854.87 L362.14,854.86 L363.28,854.86 L364.43,854.86 L365.58,854.86 L366.72,854.86 L367.87,854.85 L369.01,854.85 L370.16,854.85 L371.31,854.85 L372.45,854.85 L373.60,854.85 L374.75,854.85 L375.89,854.84 L377.04,854.84 L378.18,854.84 L379.33,854.84 L380.48,854.84 L381.62,854.84 L382.77,854.83 L383.92,854.83 L385.06,854.83 L386.21,854.83 L387.35,854.83 L388.50,854.83 L389.65,854.83 L390.79,854.82 L391.94,854.82 L393.09,854.82 L394.23,854.82 L395.38,854.82 L396.52,854.82 L397.67,854.82 L398.82,854.82 L399.96,854.81 L401.11,854.81 L402.26,854.81 L403.40,854.81 L404.55,854.81 L405.69,854.81 L406.84,854.81 L407.99,854.81 L409.13,854.80 L410.28,854.80 L411.43,854.80 L412.57,854.80 L413.72,854.80 L414.86,854.80 L416.01,854.80 L417.16,854.80 L418.30,854.79 L419.45,854.79 L420.60,854.79 L421.74,854.79 L422.89,854.79 L424.03,854.79 L425.18,854.79 L426.33,854.79 L427.47,854.79 L428.62,854.78 L429.77,854.78 L430.91,854.78 L432.06,854.78 L433.20,854.78 L434.35,854.78 L435.50,854.78 L436.64,854.78 L437.79,854.78 L438.94,854.78 L440.08,854.77 L441.23,854.77 L442.38,854.77 L443.52,854.77 L444.67,854.77 L445.81,854.77 L446.96,854.77 L448.11,854.77 L449.25,854.77 L450.40,854.77 L451.54,854.76 L452.69,854.76 L453.84,854.76 L454.98,854.76 L456.13,854.76 L457.28,854.76 L458.42,854.76 L459.57,854.76 L460.71,854.76 L461.86,854.76 L463.01,854.76 L464.15,854.75 L465.30,854.75 L466.45,854.75 L467.59,854.75 L468.74,854.75 L469.88,854.75 L471.03,854.75 L472.18,854.75 L473.32,854.75 L474.47,854.75 L475.62,854.75 L476.76,854.75 L477.91,854.74 L479.05,854.74 L480.20,854.74 L481.35,854.74 L482.49,854.74 L483.64,854.74 L484.79,854.74 L485.93,854.74 L487.08,854.74 L488.22,854.74 L489.37,854.74 L490.52,854.74 L491.66,854.74 L492.81,854.73 L493.96,854.73 L495.10,854.73 L496.25,854.73 L497.39,854.73 L498.54,854.73 L499.69,854.73 L500.83,854.73 L501.98,854.73 L503.13,854.73 L504.27,854.73 L505.42,854.73 L506.57,854.73 L507.71,854.73 L508.86,854.73 L510.00,854.72 L511.15,854.72" stroke="#ff0000"/>
<path d="M52.65,745.60 L52.94,745.78 L53.22,746.30 L53.51,747.16 L53.80,748.34 L54.08,749.81 L54.37,751.55 L54.66,753.52 L54.94,755.70 L55.23,758.04 L55.52,760.50 L55.80,763.07 L56.09,765.69 L56.38,768.35 L56.66,771.01 L56.95,773.65 L57.23,776.26 L57.52,778.81 L57.81,781.29 L58.09,783.69 L58.38,786.00 L58.67,788.21 L58.95,790.33 L59.24,792.34 L59.53,794.26 L59.81,796.07 L60.10,797.78 L60.39,799.40 L60.67,800.92 L60.96,802.35 L61.25,803.70 L61.53,804.96 L61.82,806.14 L62.11,807.24 L62.39,808.28 L62.68,809.24 L62.97,810.15 L63.25,810.99 L63.54,811.78 L63.83,812.51 L64.11,813.20 L64.40,813.84 L64.69,814.43 L64.97,814.99 L65.26,815.51 L65.55,815.99 L65.83,816.44 L66.12,816.86 L66.41,817.25 L66.69,817.62 L66.98,817.96 L67.26,818.27 L67.55,818.57 L67.84,818.84 L68.12,819.10 L68.41,819.34 L68.70,819.56 L68.98,819.76 L69.27,819.95 L69.56,820.13 L69.84,820.30 L70.13,820.45 L70.42,820.59 L70.70,820.72 L70.99,820.85 L71.28,820.96 L71.56,821.07 L71.85,821.16 L72.14,821.25 L72.42,821.34 L72.71,821.41 L73.00,821.49 L73.28,821.55 L73.57,821.61 L73.86,821.67 L74.14,821.72 L74.43,821.76 L74.72,821.81 L75.00,821.84 L75.29,821.88 L75.58,821.91 L75.86,821.94 L76.15,821.96 L76.43,821.99 L76.72,822.01 L77.01,822.03 L77.29,822.04 L77.58,822.06 L77.87,822.07 L78.15,822.08 L78.44,822.08 L78.73,822.09 L79.01,822.10 L79.30,822.10 L79.59,822.10 L79.87,822.10 L80.16,822.10 L80.45,822.10 L80.73,822.10 L81.02,822.10 L81.31,822.09 L81.59,822.09 L81.88,822.08 L82.17,822.07 L82.45,822.07 L82.74,822.06 L83.03,822.05 L83.31,822.04 L83.60,822.03 L83.89,822.02 L84.17,822.01 L84.46,822.00 L84.75,821.99 L85.03,821.98 L85.32,821.97 L85.60,821.95 L85.89,821.94 L86.18,821.93 L86.46,821.92 L86.75,821.90 L87.04,821.89 L87.32,821.88 L87.61,821.86 L87.90,821.85 L88.18,821.83 L88.47,821.82 L88.76,821.81 L89.04,821.79 L89.33,821.78 L89.62,821.76 L89.90,821.75 L90.19,821.73 L90.48,821.72 L90.76,821.70 L91.05,821.69 L91.34,821.68 L91.62,821.66 L91.91,821.65 L92.20,821.63 L92.48,821.62 L92.77,821.60 L93.06,821.59 L93.34,821.57 L93.63,821.56 L93.91,821.54 L94.20,821.53 L94.49,821.52 L94.77,821.50 L95.06,821.49 L95.35,821.47 L95.63,821.46 L95.92,821.44 L96.21,821.43 L96.49,821.42 L96.78,821.40 L97.07,821.39 L97.35,821.38 L97.64,821.36 L97.93,821.35 L98.21,821.33 L98.50,821.32 L98.79,821.31 L99.07,821.29 L99.36,821.28 L99.65,821.27 L99.93,821.26 L100.22,821.24 L100.51,821.23 L100.79,821.22 L101.08,821.20 L101.37,821.19 L101.65,821.18 L101.94,821.17 L102.23,821.15 L102.51,821.14 L102.80,821.13 L103.09,821.12 L103.37,821.11 L103.66,821.09 L103.94,821.08 L104.23,821.07 L104.52,821.06 L104.80,821.05 L105.09,821.03 L105.38,821.02 L105.66,821.01 L105.95,821.00 L106.24,820.99 L106.52,820.98 L106.81,820.97 L107.10,820.96 L107.38,820.95 L107.67,820.93 L107.96,820.92 L108.24,820.91 L108.53,820.90 L108.82,820.89 L109.10,820.88 L109.39,820.87 L109.68,820.86 L109.96,820.85 L111.11,820.81 L112.25,820.77 L113.40,820.74 L114.55,820.70 L115.69,820.66 L116.84,820.63 L117.99,820.60 L119.13,820.57 L120.28,820.53 L121.43,820.50 L122.57,820.47 L123.72,820.45 L124.86,820.42 L126.01,820.39 L127.16,820.37 L128.30,820.34 L129.45,820.32 L130.59,820.29 L131.74,820.27 L132.89,820.25 L134.03,820.23 L135.18,820.20 L136.33,820.18 L137.47,820.16 L138.62,820.14 L139.76,820.12 L140.91,820.11 L142.06,820.09 L143.20,820.07 L144.35,820.05 L145.50,820.04 L146.64,820.02 L147.79,820.00 L148.93,819.99 L150.08,819.97 L151.23,819.96 L152.37,819.94 L153.52,819.93 L154.67,819.92 L155.81,819.90 L156.96,819.89 L158.10,819.88 L159.25,819.87 L160.40,819.85 L161.54,819.84 L162.69,819.83 L163.84,819.82 L164.98,819.81 L166.13,819.80 L167.28,819.79 L168.42,819.78 L169.57,819.76 L170.71,819.75 L171.86,819.75 L173.01,819.74 L174.15,819.73 L175.30,819.72 L176.44,819.71 L177.59,819.70 L178.74,819.69 L179.88,819.68 L181.03,819.67 L182.18,819.67 L183.32,819.66 L184.47,819.65 L185.61,819.64 L186.76,819.64 L187.91,819.63 L189.05,819.62 L190.20,819.61 L191.35,819.61 L192.49,819.60 L193.64,819.59 L194.78,819.59 L195.93,819.58 L197.08,819.57 L198.22,819.57 L199.37,819.56 L200.52,819.56 L201.66,819.55 L202.81,819.54 L203.96,819.54 L205.10,819.53 L206.25,819.53 L207.39,819.52 L208.54,819.52 L209.69,819.51 L210.83,819.51 L211.98,819.50 L213.12,819.50 L214.27,819.49 L215.42,819.49 L216.56,819.48 L217.71,819.48 L218.86,819.47 L220.00,819.47 L221.15,819.46 L222.29,819.46 L223.44,819.45 L224.59,819.45 L225.73,819.45 L226.88,819.44 L228.03,819.44 L229.17,819.43 L230.32,819.43 L231.47,819.43 L232.61,819.42 L233.76,819.42 L234.90,819.42 L236.05,819.41 L237.20,819.41 L238.34,819.40 L239.49,819.40 L240.63,819.40 L241.78,819.39 L242.93,819.39 L244.07,819.39 L245.22,819.38 L246.37,819.38 L247.51,819.38 L248.66,819.37 L249.81,819.37 L250.95,819.37 L252.10,819.37 L253.24,819.36 L254.39,819.36 L255.54,819.36 L256.68,819.35 L257.83,819.35 L258.97,819.35 L260.12,819.35 L261.27,819.34 L262.41,819.34 L263.56,819.34 L264.71,819.34 L265.85,819.33 L267.00,819.33 L268.14,819.33 L269.29,819.33 L270.44,819.32 L271.58,819.32 L272.73,819.32 L273.88,819.32 L275.02,819.31 L276.17,819.31 L277.31,819.31 L278.46,819.31 L279.61,819.30 L280.75,819.30 L281.90,819.30 L283.05,819.30 L284.19,819.30 L285.34,819.29 L286.48,819.29 L287.63,819.29 L288.78,819.29 L289.92,819.29 L291.07,819.28 L292.22,819.28 L293.36,819.28 L294.51,819.28 L295.65,819.28 L296.80,819.27 L297.95,819.27 L299.09,819.27 L300.24,819.27 L301.39,819.27 L302.53,819.27 L303.68,819.26 L304.82,819.26 L305.97,819.26 L307.12,819.26 L308.26,819.26 L309.41,819.26 L310.56,819.25 L311.70,819.25 L312.85,819.25 L313.99,819.25 L315.14,819.25 L316.29,819.25 L317.43,819.24 L318.58,819.24 L319.73,819.24 L320.87,819.24 L322.02,819.24 L323.16,819.24 L324.31,819.24 L325.46,819.23 L326.60,819.23 L327.75,819.23 L328.90,819.23 L330.04,819.23 L331.19,819.23 L332.33,819.23 L333.48,819.22 L334.63,819.22 L335.77,819.22 L336.92,819.22 L338.07,819.22 L339.21,819.22 L340.36,819.22 L341.50,819.22 L342.65,819.21 L343.80,819.21 L344.94,819.21 L346.09,819.21 L347.24,819.21 L348.38,819.21 L349.53,819.21 L350.67,819.21 L351.82,819.21 L352.97,819.20 L354.11,819.20 L355.26,819.20 L356.41,819.20 L357.55,819.20 L358.70,819.20 L359.84,819.20 L360.99,819.20 L362.14,819.20 L363.28,819.19 L364.43,819.19 L365.58,819.19 L366.72,819.19 L367.87,819.19 L369.01,819.19 L370.16,819.19 L371.31,819.19 L372.45,819.19 L373.60,819.19 L374.75,819.18 L375.89,819.18 L377.04,819.18 L378.18,819.18 L379.33,819.18 L380.48,819.18 L381.62,819.18 L382.77,819.18 L383.92,819.18 L385.06,819.18 L386.21,819.18 L387.35,819.17 L388.50,819.17 L389.65,819.17 L390.79,819.17 L391.94,819.17 L393.09,819.17 L394.23,819.17 L395.38,819.17 L396.52,819.17 L397.67,819.17 L398.82,819.17 L399.96,819.17 L401.11,819.16 L402.26,819.16 L403.40,819.16 L404.55,819.16 L405.69,819.16 L406.84,819.16 L407.99,819.16 L409.13,819.16 L410.28,819.16 L411.43,819.16 L412.57,819.16 L413.72,819.16 L414.86,819.16 L416.01,819.16 L417.16,819.15 L418.30,819.15 L419.45,819.15 L420.60,819.15 L421.74,819.15 L422.89,819.15 L424.03,819.15 L425.18,819.15 L426.33,819.15 L427.47,819.15 L428.62,819.15 L429.77,819.15 L430.91,819.15 L432.06,819.15 L433.20,819.15 L434.35,819.14 L435.50,819.14 L436.64,819.14 L437.79,819.14 L438.94,819.14 L440.08,819.14 L441.23,819.14 L442.38,819.14 L443.52,819.14 L444.67,819.14 L445.81,819.14 L446.96,819.14 L448.11,819.14 L449.25,819.14 L450.40,819.14 L451.54,819.14 L452.69,819.14 L453.84,819.13 L454.98,819.13 L456.13,819.13 L457.28,819.13 L458.42,819.13 L459.57,819.13 L460.71,819.13 L461.86,819.13 L463.01,819.13 L464.15,819.13 L465.30,819.13 L466.45,819.13 L467.59,819.13 L468.74,819.13 L469.88,819.13 L471.03,819.13 L472.18,819.13 L473.32,819.13 L474.47,819.13 L475.62,819.12 L476.76,819.12 L477.91,819.12 L479.05,819.12 L480.20,819.12 L481.35,819.12 L482.49,819.12 L483.64,819.12 L484.79,819.12 L485.93,819.12 L487.08,819.12 L488.22,819.12 L489.37,819.12 L490.52,819.12 L491.66,819.12 L492.81,819.12 L493.96,819.12 L495.10,819.12 L496.25,819.12 L497.39,819.12 L498.54,819.12 L499.69,819.12 L500.83,819.11 L501.98,819.11 L503.13,819.11 L504.27,819.11 L505.42,819.11 L506.57,819.11 L507.71,819.11 L508.86,819.11 L510.00,819.11 L511.15,819.11" stroke="#00ff00"/>
<path d="M52.65,745.60 L52.94,745.74 L53.22,746.17 L53.51,746.86 L53.80,747.81 L54.08,748.98 L54.37,750.35 L54.66,751.88 L54.94,753.55 L55.23,755.32 L55.52,757.15 L55.80,759.02 L56.09,760.90 L56.38,762.78 L56.66,764.62 L56.95,766.41 L57.23,768.14 L57.52,769.81 L57.81,771.40 L58.09,772.91 L58.38,774.33 L58.67,775.67 L58.95,776.93 L59.24,778.10 L59.53,779.20 L59.81,780.22 L60.10,781.17 L60.39,782.05 L60.67,782.87 L60.96,783.62 L61.25,784.32 L61.53,784.96 L61.82,785.55 L62.11,786.10 L62.39,786.60 L62.68,787.07 L62.97,787.49 L63.25,787.89 L63.54,788.25 L63.83,788.58 L64.11,788.88 L64.40,789.16 L64.69,789.42 L64.97,789.66 L65.26,789.88 L65.55,790.07 L65.83,790.26 L66.12,790.42 L66.41,790.58 L66.69,790.72 L66.98,790.85 L67.26,790.96 L67.55,791.07 L67.84,791.17 L68.12,791.26 L68.41,791.34 L68.70,791.42 L68.98,791.48 L69.27,791.55 L69.56,791.60 L69.84,791.65 L70.13,791.70 L70.42,791.74 L70.70,791.77 L70.99,791.81 L71.28,791.84 L71.56,791.86 L71.85,791.88 L72.14,791.90 L72.42,791.92 L72.71,791.94 L73.00,791.95 L73.28,791.96 L73.57,791.97 L73.86,791.98 L74.14,791.98 L74.43,791.99 L74.72,791.99 L75.00,791.99 L75.29,791.99 L75.58,791.99 L75.86,791.99 L76.15,791.98 L76.43,791.98 L76.72,791.97 L77.01,791.97 L77.29,791.96 L77.58,791.96 L77.87,791.95 L78.15,791.94 L78.44,791.93 L78.73,791.92 L79.01,791.92 L79.30,791.91 L79.59,791.90 L79.87,791.89 L80.16,791.88 L80.45,791.87 L80.73,791.85 L81.02,791.84 L81.31,791.83 L81.59,791.82 L81.88,791.81 L82.17,791.80 L82.45,791.79 L82.74,791.78 L83.03,791.76 L83.31,791.75 L83.60,791.74 L83.89,791.73 L84.17,791.72 L84.46,791.70 L84.75,791.69 L85.03,791.68 L85.32,791.67 L85.60,791.66 L85.89,791.65 L86.18,791.63 L86.46,791.62 L86.75,791.61 L87.04,791.60 L87.32,791.59 L87.61,791.57 L87.90,791.56 L88.18,791.55 L88.47,791.54 L88.76,791.53 L89.04,791.52 L89.33,791.51 L89.62,791.50 L89.90,791.48 L90.19,791.47 L90.48,791.46 L90.76,791.45 L91.05,791.44 L91.34,791.43 L91.62,791.42 L91.91,791.41 L92.20,791.40 L92.48,791.39 L92.77,791.38 L93.06,791.37 L93.34,791.36 L93.63,791.35 L93.91,791.34 L94.20,791.33 L94.49,791.32 L94.77,791.31 L95.06,791.30 L95.35,791.29 L95.63,791.28 L95.92,791.27 L96.21,791.26 L96.49,791.25 L96.78,791.24 L97.07,791.23 L97.35,791.22 L97.64,791.21 L97.93,791.21 L98.21,791.20 L98.50,791.19 L98.79,791.18 L99.07,791.17 L99.36,791.16 L99.65,791.16 L99.93,791.15 L100.22,791.14 L100.51,791.13 L100.79,791.12 L101.08,791.11 L101.37,791.11 L101.65,791.10 L101.94,791.09 L102.23,791.08 L102.51,791.08 L102.80,791.07 L103.09,791.06 L103.37,791.05 L103.66,791.05 L103.94,791.04 L104.23,791.03 L104.52,791.03 L104.80,791.02 L105.09,791.01 L105.38,791.00 L105.66,791.00 L105.95,790.99 L106.24,790.98 L106.52,790.98 L106.81,790.97 L107.10,790.96 L107.38,790.96 L107.67,790.95 L107.96,790.94 L108.24,790.94 L108.53,790.93 L108.82,790.93 L109.10,790.92 L109.39,790.91 L109.68,790.91 L109.96,790.90 L111.11,790.88 L112.25,790.86 L113.40,790.83 L114.55,790.81 L115.69,790.79 L116.84,790.77 L117.99,790.76 L119.13,790.74 L120.28,790.72 L121.43,790.70 L122.57,790.69 L123.72,790.67 L124.86,790.66 L126.01,790.64 L127.16,790.63 L128.30,790.61 L129.45,790.60 L130.59,790.59 L131.74,790.57 L132.89,790.56 L134.03,790.55 L135.18,790.54 L136.33,790.53 L137.47,790.52 L138.62,790.50 L139.76,790.49 L140.91,790.48 L142.06,790.47 L143.20,790.47 L144.35,790.46 L145.50,790.45 L146.64,790.44 L147.79,790.43 L148.93,790.42 L150.08,790.41 L151.23,790.41 L152.37,790.40 L153.52,790.39 L154.67,790.38 L155.81,790.38 L156.96,790.37 L158.10,790.36 L159.25,790.36 L160.40,790.35 L161.54,790.34 L162.69,790.34 L163.84,790.33 L164.98,790.33 L166.13,790.32 L167.28,790.31 L168.42,790.31 L169.57,790.30 L170.71,790.30 L171.86,790.29 L173.01,790.29 L174.15,790.28 L175.30,790.28 L176.44,790.27 L177.59,790.27 L178.74,790.26 L179.88,790.26 L181.03,790.26 L182.18,790.25 L183.32,790.25 L184.47,790.24 L185.61,790.24 L186.76,790.24 L187.91,790.23 L189.05,790.23 L190.20,790.22 L191.35,790.22 L192.49,790.22 L193.64,790.21 L194.78,790.21 L195.93,790.21 L197.08,790.20 L198.22,790.20 L199.37,790.20 L200.52,790.19 L201.66,790.19 L202.81,790.19 L203.96,790.18 L205.10,790.18 L206.25,790.18 L207.39,790.18 L208.54,790.17 L209.69,790.17 L210.83,790.17 L211.98,790.17 L213.12,790.16 L214.27,790.16 L215.42,790.16 L216.56,790.16 L217.71,790.15 L218.86,790.15 L220.00,790.15 L221.15,790.15 L222.29,790.14 L223.44,790.14 L224.59,790.14 L225.73,790.14 L226.88,790.14 L228.03,790.13 L229.17,790.13 L230.32,790.13 L231.47,790.13 L232.61,790.13 L233.76,790.12 L234.90,790.12 L236.05,790.12 L237.20,790.12 L238.34,790.12 L239.49,790.11 L240.63,790.11 L241.78,790.11 L242.93,790.11 L244.07,790.11 L245.22,790.11 L246.37,790.10 L247.51,790.10 L248.66,790.10 L249.81,790.10 L250.95,790.10 L252.10,790.10 L253.24,790.09 L254.39,790.09 L255.54,790.09 L256.68,790.09 L257.83,790.09 L258.97,790.09 L260.12,790.09 L261.27,790.08 L262.41,790.08 L263.56,790.08 L264.71,790.08 L265.85,790.08 L267.00,790.08 L268.14,790.08 L269.29,790.08 L270.44,790.07 L271.58,790.07 L272.73,790.07 L273.88,790.07 L275.02,790.07 L276.17,790.07 L277.31,790.07 L278.46,790.07 L279.61,790.06 L280.75,790.06 L281.90,790.06 L283.05,790.06 L284.19,790.06 L285.34,790.06 L286.48,790.06 L287.63,790.06 L288.78,790.06 L289.92,790.06 L291.07,790.05 L292.22,790.05 L293.36,790.05 L294.51,790.05 L295.65,790.05 L296.80,790.05 L297.95,790.05 L299.09,790.05 L300.24,790.05 L301.39,790.05 L302.53,790.04 L303.68,790.04 L304.82,790.04 L305.97,790.04 L307.12,790.04 L308.26,790.04 L309.41,790.04 L310.56,790.04 L311.70,790.04 L312.85,790.04 L313.99,790.04 L315.14,790.04 L316.29,790.03 L317.43,790.03 L318.58,790.03 L319.73,790.03 L320.87,790.03 L322.02,790.03 L323.16,790.03 L324.31,790.03 L325.46,790.03 L326.60,790.03 L327.75,790.03 L328.90,790.03 L330.04,790.03 L331.19,790.03 L332.33,790.02 L333.48,790.02 L334.63,790.02 L335.77,790.02 L336.92,790.02 L338.07,790.02 L339.21,790.02 L340.36,790.02 L341.50,790.02 L342.65,790.02 L343.80,790.02 L344.94,790.02 L346.09,790.02 L347.24,790.02 L348.38,790.02 L349.53,790.02 L350.67,790.01 L351.82,790.01 L352.97,790.01 L354.11,790.01 L355.26,790.01 L356.41,790.01 L357.55,790.01 L358.70,790.01 L359.84,790.01 L360.99,790.01 L362.14,790.01 L363.28,790.01 L364.43,790.01 L365.58,790.01 L366.72,790.01 L367.87,790.01 L369.01,790.01 L370.16,790.01 L371.31,790.01 L372.45,790.00 L373.60,790.00 L374.75,790.00 L375.89,790.00 L377.04,790.00 L378.18,790.00 L379.33,790.00 L380.48,790.00 L381.62,790.00 L382.77,790.00 L383.92,790.00 L385.06,790.00 L386.21,790.00 L387.35,790.00 L388.50,790.00 L389.65,790.00 L390.79,790.00 L391.94,790.00 L393.09,790.00 L394.23,790.00 L395.38,790.00 L396.52,790.00 L397.67,789.99 L398.82,789.99 L399.96,789.99 L401.11,789.99 L402.26,789.99 L403.40,789.99 L404.55,789.99 L405.69,789.99 L406.84,789.99 L407.99,789.99 L409.13,789.99 L410.28,789.99 L411.43,789.99 L412.57,789.99 L413.72,789.99 L414.86,789.99 L416.01,789.99 L417.16,789.99 L418.30,789.99 L419.45,789.99 L420.60,789.99 L421.74,789.99 L422.89,789.99 L424.03,789.99 L425.18,789.99 L426.33,789.99 L427.47,789.99 L428.62,789.99 L429.77,789.98 L430.91,789.98 L432.06,789.98 L433.20,789.98 L434.35,789.98 L435.50,789.98 L436.64,789.98 L437.79,789.98 L438.94,789.98 L440.08,789.98 L441.23,789.98 L442.38,789.98 L443.52,789.98 L444.67,789.98 L445.81,789.98 L446.96,789.98 L448.11,789.98 L449.25,789.98 L450.40,789.98 L451.54,789.98 L452.69,789.98 L453.84,789.98 L454.98,789.98 L456.13,789.98 L457.28,789.98 L458.42,789.98 L459.57,789.98 L460.71,789.98 L461.86,789.98 L463.01,789.98 L464.15,789.98 L465.30,789.98 L466.45,789.98 L467.59,789.98 L468.74,789.97 L469.88,789.97 L471.03,789.97 L472.18,789.97 L473.32,789.97 L474.47,789.97 L475.62,789.97 L476.76,789.97 L477.91,789.97 L479.05,789.97 L480.20,789.97 L481.35,789.97 L482.49,789.97 L483.64,789.97 L484.79,789.97 L485.93,789.97 L487.08,789.97 L488.22,789.97 L489.37,789.97 L490.52,789.97 L491.66,789.97 L492.81,789.97 L493.96,789.97 L495.10,789.97 L496.25,789.97 L497.39,789.97 L498.54,789.97 L499.69,789.97 L500.83,789.97 L501.98,789.97 L503.13,789.97 L504.27,789.97 L505.42,789.97 L506.57,789.97 L507.71,789.97 L508.86,789.97 L510.00,789.97 L511.15,789.97" stroke="#0000ff"/>
<path d="M52.65,745.60 L52.94,745.71 L53.22,746.04 L53.51,746.57 L53.80,747.28 L54.08,748.11 L54.37,749.05 L54.66,750.04 L54.94,751.06 L55.23,752.08 L55.52,753.08 L55.80,754.02 L56.09,754.92 L56.38,755.75 L56.66,756.51 L56.95,757.21 L57.23,757.84 L57.52,758.41 L57.81,758.92 L58.09,759.38 L58.38,759.78 L58.67,760.14 L58.95,760.46 L59.24,760.75 L59.53,761.00 L59.81,761.22 L60.10,761.41 L60.39,761.58 L60.67,761.73 L60.96,761.86 L61.25,761.98 L61.53,762.08 L61.82,762.17 L62.11,762.25 L62.39,762.32 L62.68,762.38 L62.97,762.43 L63.25,762.47 L63.54,762.51 L63.83,762.55 L64.11,762.57 L64.40,762.60 L64.69,762.62 L64.97,762.64 L65.26,762.65 L65.55,762.66 L65.83,762.67 L66.12,762.68 L66.41,762.69 L66.69,762.69 L66.98,762.69 L67.26,762.69 L67.55,762.69 L67.84,762.69 L68.12,762.69 L68.41,762.69 L68.70,762.68 L68.98,762.68 L69.27,762.68 L69.56,762.67 L69.84,762.67 L70.13,762.66 L70.42,762.65 L70.70,762.65 L70.99,762.64 L71.28,762.64 L71.56,762.63 L71.85,762.62 L72.14,762.62 L72.42,762.61 L72.71,762.60 L73.00,762.59 L73.28,762.59 L73.57,762.58 L73.86,762.57 L74.14,762.56 L74.43,762.56 L74.72,762.55 L75.00,762.54 L75.29,762.54 L75.58,762.53 L75.86,762.52 L76.15,762.51 L76.43,762.51 L76.72,762.50 L77.01,762.49 L77.29,762.49 L77.58,762.48 L77.87,762.47 L78.15,762.47 L78.44,762.46 L78.73,762.46 L79.01,762.45 L79.30,762.44 L79.59,762.44 L79.87,762.43 L80.16,762.42 L80.45,762.42 L80.73,762.41 L81.02,762.41 L81.31,762.40 L81.59,762.40 L81.88,762.39 L82.17,762.38 L82.45,762.38 L82.74,762.37 L83.03,762.37 L83.31,762.36 L83.60,762.36 L83.89,762.35 L84.17,762.35 L84.46,762.34 L84.75,762.34 L85.03,762.33 L85.32,762.33 L85.60,762.33 L85.89,762.32 L86.18,762.32 L86.46,762.31 L86.75,762.31 L87.04,762.30 L87.32,762.30 L87.61,762.30 L87.90,762.29 L88.18,762.29 L88.47,762.28 L88.76,762.28 L89.04,762.28 L89.33,762.27 L89.62,762.27 L89.90,762.26 L90.19,762.26 L90.48,762.26 L90.76,762.25 L91.05,762.25 L91.34,762.25 L91.62,762.24 L91.91,762.24 L92.20,762.24 L92.48,762.23 L92.77,762.23 L93.06,762.23 L93.34,762.22 L93.63,762.22 L93.91,762.22 L94.20,762.21 L94.49,762.21 L94.77,762.21 L95.06,762.21 L95.35,762.20 L95.63,762.20 L95.92,762.20 L96.21,762.20 L96.49,762.19 L96.78,762.19 L97.07,762.19 L97.35,762.18 L97.64,762.18 L97.93,762.18 L98.21,762.18 L98.50,762.17 L98.79,762.17 L99.07,762.17 L99.36,762.17 L99.65,762.16 L99.93,762.16 L100.22,762.16 L100.51,762.16 L100.79,762.16 L101.08,762.15 L101.37,762.15 L101.65,762.15 L101.94,762.15 L102.23,762.14 L102.51,762.14 L102.80,762.14 L103.09,762.14 L103.37,762.14 L103.66,762.13 L103.94,762.13 L104.23,762.13 L104.52,762.13 L104.80,762.13 L105.09,762.13 L105.38,762.12 L105.66,762.12 L105.95,762.12 L106.24,762.12 L106.52,762.12 L106.81,762.11 L107.10,762.11 L107.38,762.11 L107.67,762.11 L107.96,762.11 L108.24,762.11 L108.53,762.10 L108.82,762.10 L109.10,762.10 L109.39,762.10 L109.68,762.10 L109.96,762.10 L111.11,762.09 L112.25,762.08 L113.40,762.08 L114.55,762.07 L115.69,762.07 L116.84,762.06 L117.99,762.06 L119.13,762.05 L120.28,762.05 L121.43,762.05 L122.57,762.04 L123.72,762.04 L124.86,762.03 L126.01,762.03 L127.16,762.03 L128.30,762.02 L129.45,762.02 L130.59,762.02 L131.74,762.01 L132.89,762.01 L134.03,762.01 L135.18,762.01 L136.33,762.00 L137.47,762.00 L138.62,762.00 L139.76,762.00 L140.91,761.99 L142.06,761.99 L143.20,761.99 L144.35,761.99 L145.50,761.98 L146.64,761.98 L147.79,761.98 L148.93,761.98 L150.08,761.98 L151.23,761.98 L152.37,761.97 L153.52,761.97 L154.67,761.97 L155.81,761.97 L156.96,761.97 L158.10,761.97 L159.25,761.96 L160.40,761.96 L161.54,761.96 L162.69,761.96 L163.84,761.96 L164.98,761.96 L166.13,761.96 L167.28,761.95 L168.42,761.95 L169.57,761.95 L170.71,761.95 L171.86,761.95 L173.01,761.95 L174.15,761.95 L175.30,761.95 L176.44,761.94 L177.59,761.94 L178.74,761.94 L179.88,761.94 L181.03,761.94 L182.18,761.94 L183.32,761.94 L184.47,761.94 L185.61,761.94 L186.76,761.94 L187.91,761.94 L189.05,761.93 L190.20,761.93 L191.35,761.93 L192.49,761.93 L193.64,761.93 L194.78,761.93 L195.93,761.93 L197.08,761.93 L198.22,761.93 L199.37,761.93 L200.52,761.93 L201.66,761.93 L202.81,761.93 L203.96,761.92 L205.10,761.92 L206.25,761.92 L207.39,761.92 L208.54,761.92 L209.69,761.92 L210.83,761.92 L211.98,761.92 L213.12,761.92 L214.27,761.92 L215.42,761.92 L216.56,761.92 L217.71,761.92 L218.86,761.92 L220.00,761.92 L221.15,761.92 L222.29,761.92 L223.44,761.92 L224.59,761.91 L225.73,761.91 L226.88,761.91 L228.03,761.91 L229.17,761.91 L230.32,761.91 L231.47,761.91 L232.61,761.91 L233.76,761.91 L234.90,761.91 L236.05,761.91 L237.20,761.91 L238.34,761.91 L239.49,761.91 L240.63,761.91 L241.78,761.91 L242.93,761.91 L244.07,761.91 L245.22,761.91 L246.37,761.91 L247.51,761.91 L248.66,761.91 L249.81,761.91 L250.95,761.91 L252.10,761.91 L253.24,761.91 L254.39,761.90 L255.54,761.90 L256.68,761.90 L257.83,761.90 L258.97,761.90 L260.12,761.90 L261.27,761.90 L262.41,761.90 L263.56,761.90 L264.71,761.90 L265.85,761.90 L267.00,761.90 L268.14,761.90 L269.29,761.90 L270.44,761.90 L271.58,761.90 L272.73,761.90 L273.88,761.90 L275.02,761.90 L276.17,761.90 L277.31,761.90 L278.46,761.90 L279.61,761.90 L280.75,761.90 L281.90,761.90 L283.05,761.90 L284.19,761.90 L285.34,761.90 L286.48,761.90 L287.63,761.90 L288.78,761.90 L289.92,761.90 L291.07,761.90 L292.22,761.90 L293.36,761.90 L294.51,761.90 L295.65,761.90 L296.80,761.90 L297.95,761.89 L299.09,761.89 L300.24,761.89 L301.39,761.89 L302.53,761.89 L303.68,761.89 L304.82,761.89 L305.97,761.89 L307.12,761.89 L308.26,761.89 L309.41,761.89 L310.56,761.89 L311.70,761.89 L312.85,761.89 L313.99,761.89 L315.14,761.89 L316.29,761.89 L317.43,761.89 L318.58,761.89 L319.73,761.89 L320.87,761.89 L322.02,761.89 L323.16,761.89 L324.31,761.89 L325.46,761.89 L326.60,761.89 L327.75,761.89 L328.90,761.89 L330.04,761.89 L331.19,761.89 L332.33,761.89 L333.48,761.89 L334.63,761.89 L335.77,761.89 L336.92,761.89 L338.07,761.89 L339.21,761.89 L340.36,761.89 L341.50,761.89 L342.65,761.89 L343.80,761.89 L344.94,761.89 L346.09,761.89 L347.24,761.89 L348.38,761.89 L349.53,761.89 L350.67,761.89 L351.82,761.89 L352.97,761.89 L354.11,761.89 L355.26,761.89 L356.41,761.89 L357.55,761.89 L358.70,761.89 L359.84,761.89 L360.99,761.89 L362.14,761.89 L363.28,761.89 L364.43,761.89 L365.58,761.89 L366.72,761.89 L367.87,761.89 L369.01,761.89 L370.16,761.89 L371.31,761.89 L372.45,761.89 L373.60,761.89 L374.75,761.89 L375.89,761.89 L377.04,761.89 L378.18,761.88 L379.33,761.88 L380.48,761.88 L381.62,761.88 L382.77,761.88 L383.92,761.88 L385.06,761.88 L386.21,761.88 L387.35,761.88 L388.50,761.88 L389.65,761.88 L390.79,761.88 L391.94,761.88 L393.09,761.88 L394.23,761.88 L395.38,761.88 L396.52,761.88 L397.67,761.88 L398.82,761.88 L399.96,761.88 L401.11,761.88 L402.26,761.88 L403.40,761.88 L404.55,761.88 L405.69,761.88 L406.84,761.88 L407.99,761.88 L409.13,761.88 L410.28,761.88 L411.43,761.88 L412.57,761.88 L413.72,761.88 L414.86,761.88 L416.01,761.88 L417.16,761.88 L418.30,761.88 L419.45,761.88 L420.60,761.88 L421.74,761.88 L422.89,761.88 L424.03,761.88 L425.18,761.88 L426.33,761.88 L427.47,761.88 L428.62,761.88 L429.77,761.88 L430.91,761.88 L432.06,761.88 L433.20,761.88 L434.35,761.88 L435.50,761.88 L436.64,761.88 L437.79,761.88 L438.94,761.88 L440.08,761.88 L441.23,761.88 L442.38,761.88 L443.52,761.88 L444.67,761.88 L445.81,761.88 L446.96,761.88 L448.11,761.88 L449.25,761.88 L450.40,761.88 L451.54,761.88 L452.69,761.88 L453.84,761.88 L454.98,761.88 L456.13,761.88 L457.28,761.88 L458.42,761.88 L459.57,761.88 L460.71,761.88 L461.86,761.88 L463.01,761.88 L464.15,761.88 L465.30,761.88 L466.45,761.88 L467.59,761.88 L468.74,761.88 L469.88,761.88 L471.03,761.88 L472.18,761.88 L473.32,761.88 L474.47,761.88 L475.62,761.88 L476.76,761.88 L477.91,761.88 L479.05,761.88 L480.20,761.88 L481.35,761.88 L482.49,761.88 L483.64,761.88 L484.79,761.88 L485.93,761.88 L487.08,761.88 L488.22,761.88 L489.37,761.88 L490.52,761.88 L491.66,761.88 L492.81,761.88 L493.96,761.88 L495.10,761.88 L496.25,761.88 L497.39,761.88 L498.54,761.88 L499.69,761.88 L500.83,761.88 L501.98,761.88 L503.13,761.88 L504.27,761.88 L505.42,761.88 L506.57,761.88 L507.71,761.88 L508.86,761.88 L510.00,761.88 L511.15,761.88" stroke="#ff00ff"/>
<path d="M52.65,745.60 L52.94,745.71 L53.22,746.00 L53.51,746.39 L53.80,746.77 L54.08,747.11 L54.37,747.38 L54.66,747.59 L54.94,747.74 L55.23,747.85 L55.52,747.93 L55.80,747.98 L56.09,748.02 L56.38,748.05 L56.66,748.07 L56.95,748.08 L57.23,748.09 L57.52,748.10 L57.81,748.10 L58.09,748.10 L58.38,748.10 L58.67,748.10 L58.95,748.10 L59.24,748.10 L59.53,748.09 L59.81,748.09 L60.10,748.09 L60.39,748.09 L60.67,748.08 L60.96,748.08 L61.25,748.08 L61.53,748.07 L61.82,748.07 L62.11,748.07 L62.39,748.07 L62.68,748.06 L62.97,748.06 L63.25,748.06 L63.54,748.06 L63.83,748.05 L64.11,748.05 L64.40,748.05 L64.69,748.05 L64.97,748.05 L65.26,748.04 L65.55,748.04 L65.83,748.04 L66.12,748.04 L66.41,748.04 L66.69,748.04 L66.98,748.03 L67.26,748.03 L67.55,748.03 L67.84,748.03 L68.12,748.03 L68.41,748.03 L68.70,748.03 L68.98,748.03 L69.27,748.02 L69.56,748.02 L69.84,748.02 L70.13,748.02 L70.42,748.02 L70.70,748.02 L70.99,748.02 L71.28,748.02 L71.56,748.02 L71.85,748.02 L72.14,748.02 L72.42,748.02 L72.71,748.01 L73.00,748.01 L73.28,748.01 L73.57,748.01 L73.86,748.01 L74.14,748.01 L74.43,748.01 L74.72,748.01 L75.00,748.01 L75.29,748.01 L75.58,748.01 L75.86,748.01 L76.15,748.01 L76.43,748.01 L76.72,748.01 L77.01,748.01 L77.29,748.01 L77.58,748.00 L77.87,748.00 L78.15,748.00 L78.44,748.00 L78.73,748.00 L79.01,748.00 L79.30,748.00 L79.59,748.00 L79.87,748.00 L80.16,748.00 L80.45,748.00 L80.73,748.00 L81.02,748.00 L81.31,748.00 L81.59,748.00 L81.88,748.00 L82.17,748.00 L82.45,748.00 L82.74,748.00 L83.03,748.00 L83.31,748.00 L83.60,748.00 L83.89,748.00 L84.17,748.00 L84.46,748.00 L84.75,748.00 L85.03,748.00 L85.32,748.00 L85.60,748.00 L85.89,748.00 L86.18,748.00 L86.46,747.99 L86.75,747.99 L87.04,747.99 L87.32,747.99 L87.61,747.99 L87.90,747.99 L88.18,747.99 L88.47,747.99 L88.76,747.99 L89.04,747.99 L89.33,747.99 L89.62,747.99 L89.90,747.99 L90.19,747.99 L90.48,747.99 L90.76,747.99 L91.05,747.99 L91.34,747.99 L91.62,747.99 L91.91,747.99 L92.20,747.99 L92.48,747.99 L92.77,747.99 L93.06,747.99 L93.34,747.99 L93.63,747.99 L93.91,747.99 L94.20,747.99 L94.49,747.99 L94.77,747.99 L95.06,747.99 L95.35,747.99 L95.63,747.99 L95.92,747.99 L96.21,747.99 L96.49,747.99 L96.78,747.99 L97.07,747.99 L97.35,747.99 L97.64,747.99 L97.93,747.99 L98.21,747.99 L98.50,747.99 L98.79,747.99 L99.07,747.99 L99.36,747.99 L99.65,747.99 L99.93,747.99 L100.22,747.99 L100.51,747.99 L100.79,747.99 L101.08,747.99 L101.37,747.99 L101.65,747.99 L101.94,747.99 L102.23,747.99 L102.51,747.99 L102.80,747.99 L103.09,747.99 L103.37,747.99 L103.66,747.99 L103.94,747.99 L104.23,747.99 L104.52,747.99 L104.80,747.99 L105.09,747.99 L105.38,747.99 L105.66,747.99 L105.95,747.99 L106.24,747.99 L106.52,747.99 L106.81,747.99 L107.10,747.99 L107.38,747.99 L107.67,747.99 L107.96,747.99 L108.24,747.99 L108.53,747.99 L108.82,747.99 L109.10,747.99 L109.39,747.99 L109.68,747.99 L109.96,747.99 L111.11,747.98 L112.25,747.98 L113.40,747.98 L114.55,747.98 L115.69,747.98 L116.84,747.98 L117.99,747.98 L119.13,747.98 L120.28,747.98 L121.43,747.98 L122.57,747.98 L123.72,747.98 L124.86,747.98 L126.01,747.98 L127.16,747.98 L128.30,747.98 L129.45,747.98 L130.59,747.98 L131.74,747.98 L132.89,747.98 L134.03,747.98 L135.18,747.98 L136.33,747.98 L137.47,747.98 L138.62,747.98 L139.76,747.98 L140.91,747.98 L142.06,747.98 L143.20,747.98 L144.35,747.98 L145.50,747.98 L146.64,747.98 L147.79,747.98 L148.93,747.98 L150.08,747.98 L151.23,747.98 L152.37,747.98 L153.52,747.98 L154.67,747.98 L155.81,747.98 L156.96,747.98 L158.10,747.98 L159.25,747.98 L160.40,747.98 L161.54,747.98 L162.69,747.98 L163.84,747.98 L164.98,747.98 L166.13,747.98 L167.28,747.98 L168.42,747.98 L169.57,747.98 L170.71,747.98 L171.86,747.98 L173.01,747.98 L174.15,747.98 L175.30,747.98 L176.44,747.98 L177.59,747.98 L178.74,747.98 L179.88,747.98 L181.03,747.98 L182.18,747.98 L183.32,747.98 L184.47,747.98 L185.61,747.98 L186.76,747.98 L187.91,747.98 L189.05,747.98 L190.20,747.98 L191.35,747.98 L192.49,747.98 L193.64,747.98 L194.78,747.98 L195.93,747.98 L197.08,747.98 L198.22,747.98 L199.37,747.98 L200.52,747.98 L201.66,747.98 L202.81,747.98 L203.96,747.98 L205.10,747.98 L206.25,747.98 L207.39,747.98 L208.54,747.98 L209.69,747.98 L210.83,747.98 L211.98,747.98 L213.12,747.98 L214.27,747.98 L215.42,747.98 L216.56,747.98 L217.71,747.98 L218.86,747.98 L220.00,747.98 L221.15,747.98 L222.29,747.98 L223.44,747.98 L224.59,747.98 L225.73,747.98 L226.88,747.98 L228.03,747.98 L229.17,747.98 L230.32,747.98 L231.47,747.98 L232.61,747.98 L233.76,747.98 L234.90,747.98 L236.05,747.98 L237.20,747.98 L238.34,747.98 L239.49,747.98 L240.63,747.98 L241.78,747.98 L242.93,747.98 L244.07,747.98 L245.22,747.98 L246.37,747.98 L247.51,747.98 L248.66,747.98 L249.81,747.98 L250.95,747.98 L252.10,747.98 L253.24,747.98 L254.39,747.98 L255.54,747.98 L256.68,747.98 L257.83,747.98 L258.97,747.98 L260.12,747.98 L261.27,747.98 L262.41,747.98 L263.56,747.98 L264.71,747.98 L265.85,747.98 L267.00,747.98 L268.14,747.98 L269.29,747.98 L270.44,747.98 L271.58,747.98 L272.73,747.98 L273.88,747.98 L275.02,747.98 L276.17,747.98 L277.31,747.98 L278.46,747.98 L279.61,747.98 L280.75,747.98 L281.90,747.98 L283.05,747.98 L284.19,747.98 L285.34,747.98 L286.48,747.98 L287.63,747.98 L288.78,747.98 L289.92,747.98 L291.07,747.98 L292.22,747.98 L293.36,747.98 L294.51,747.98 L295.65,747.98 L296.80,747.98 L297.95,747.98 L299.09,747.98 L300.24,747.98 L301.39,747.98 L302.53,747.98 L303.68,747.98 L304.82,747.98 L305.97,747.98 L307.12,747.98 L308.26,747.98 L309.41,747.98 L310.56,747.98 L311.70,747.98 L312.85,747.98 L313.99,747.98 L315.14,747.98 L316.29,747.98 L317.43,747.98 L318.58,747.98 L319.73,747.98 L320.87,747.98 L322.02,747.98 L323.16,747.98 L324.31,747.98 L325.46,747.98 L326.60,747.98 L327.75,747.98 L328.90,747.98 L330.04,747.98 L331.19,747.98 L332.33,747.98 L333.48,747.98 L334.63,747.98 L335.77,747.98 L336.92,747.98 L338.07,747.98 L339.21,747.98 L340.36,747.98 L341.50,747.98 L342.65,747.98 L343.80,747.98 L344.94,747.98 L346.09,747.98 L347.24,747.98 L348.38,747.98 L349.53,747.98 L350.67,747.98 L351.82,747.98 L352.97,747.98 L354.11,747.98 L355.26,747.98 L356.41,747.98 L357.55,747.98 L358.70,747.98 L359.84,747.98 L360.99,747.98 L362.14,747.98 L363.28,747.98 L364.43,747.98 L365.58,747.98 L366.72,747.98 L367.87,747.98 L369.01,747.98 L370.16,747.98 L371.31,747.98 L372.45,747.98 L373.60,747.98 L374.75,747.98 L375.89,747.98 L377.04,747.98 L378.18,747.98 L379.33,747.98 L380.48,747.98 L381.62,747.98 L382.77,747.98 L383.92,747.98 L385.06,747.98 L386.21,747.98 L387.35,747.98 L388.50,747.98 L389.65,747.98 L390.79,747.98 L391.94,747.98 L393.09,747.98 L394.23,747.98 L395.38,747.98 L396.52,747.98 L397.67,747.98 L398.82,747.98 L399.96,747.98 L401.11,747.98 L402.26,747.98 L403.40,747.98 L404.55,747.98 L405.69,747.98 L406.84,747.98 L407.99,747.98 L409.13,747.98 L410.28,747.98 L411.43,747.98 L412.57,747.98 L413.72,747.98 L414.86,747.98 L416.01,747.98 L417.16,747.98 L418.30,747.98 L419.45,747.98 L420.60,747.98 L421.74,747.98 L422.89,747.98 L424.03,747.98 L425.18,747.98 L426.33,747.98 L427.47,747.98 L428.62,747.98 L429.77,747.98 L430.91,747.98 L432.06,747.98 L433.20,747.98 L434.35,747.98 L435.50,747.98 L436.64,747.98 L437.79,747.98 L438.94,747.98 L440.08,747.98 L441.23,747.98 L442.38,747.98 L443.52,747.98 L444.67,747.98 L445.81,747.98 L446.96,747.98 L448.11,747.98 L449.25,747.98 L450.40,747.98 L451.54,747.98 L452.69,747.98 L453.84,747.98 L454.98,747.98 L456.13,747.98 L457.28,747.98 L458.42,747.98 L459.57,747.98 L460.71,747.98 L461.86,747.98 L463.01,747.98 L464.15,747.98 L465.30,747.98 L466.45,747.98 L467.59,747.98 L468.74,747.98 L469.88,747.98 L471.03,747.98 L472.18,747.98 L473.32,747.98 L474.47,747.98 L475.62,747.98 L476.76,747.98 L477.91,747.98 L479.05,747.98 L480.20,747.98 L481.35,747.98 L482.49,747.98 L483.64,747.98 L484.79,747.98 L485.93,747.98 L487.08,747.98 L488.22,747.98 L489.37,747.98 L490.52,747.98 L491.66,747.98 L492.81,747.98 L493.96,747.98 L495.10,747.98 L496.25,747.98 L497.39,747.98 L498.54,747.98 L499.69,747.98 L500.83,747.98 L501.98,747.98 L503.13,747.98 L504.27,747.98 L505.42,747.98 L506.57,747.98 L507.71,747.98 L508.86,747.98 L510.00,747.98 L511.15,747.98" stroke="#008000"/>
<path d="M52.65,745.60 L53.52,746.40 L54.39,747.40 L55.26,747.86 L56.13,748.03 L57.01,748.09" stroke="#00001a" stroke-linecap="butt"/>
</g>
<!-- frame -->
<g stroke="#000" stroke-width="1.3" fill="none" stroke-linecap="square">
<rect x="52.65" y="338.65" width="458.5" height="578.15"/>
<path d="M52.65,531.35H511.15 M52.65,724.2H511.15"/>
</g>
<!-- text -->
<g opacity="0.999" text-rendering="geometricPrecision">
<text transform="translate(47.10,369.46) scale(1,1.05)" text-anchor="end" font-size="14">10<tspan font-size="10.2" dy="-5.7">0</tspan></text>
<text transform="translate(47.10,453.21) scale(1,1.05)" text-anchor="end" font-size="14">10<tspan font-size="10.2" dy="-5.7">-1</tspan></text>
<text transform="translate(47.10,536.96) scale(1,1.05)" text-anchor="end" font-size="14">10<tspan font-size="10.2" dy="-5.7">-2</tspan></text>
<text transform="translate(47.10,564.50) scale(1,1.05)" text-anchor="end" font-size="14">10<tspan font-size="10.2" dy="-5.7">0</tspan></text>
<text transform="translate(47.10,592.05) scale(1,1.05)" text-anchor="end" font-size="14">10<tspan font-size="10.2" dy="-5.7">-1</tspan></text>
<text transform="translate(47.10,619.60) scale(1,1.05)" text-anchor="end" font-size="14">10<tspan font-size="10.2" dy="-5.7">-2</tspan></text>
<text transform="translate(47.10,647.15) scale(1,1.05)" text-anchor="end" font-size="14">10<tspan font-size="10.2" dy="-5.7">-3</tspan></text>
<text transform="translate(47.10,674.70) scale(1,1.05)" text-anchor="end" font-size="14">10<tspan font-size="10.2" dy="-5.7">-4</tspan></text>
<text transform="translate(47.10,702.25) scale(1,1.05)" text-anchor="end" font-size="14">10<tspan font-size="10.2" dy="-5.7">-5</tspan></text>
<text transform="translate(47.10,729.80) scale(1,1.05)" text-anchor="end" font-size="14">10<tspan font-size="10.2" dy="-5.7">-6</tspan></text>
<text transform="translate(46.80,749.60) scale(1,1.05)" text-anchor="end" font-size="14">1.0</text>
<text transform="translate(46.80,792.40) scale(1,1.05)" text-anchor="end" font-size="14">0.8</text>
<text transform="translate(46.80,835.20) scale(1,1.05)" text-anchor="end" font-size="14">0.6</text>
<text transform="translate(46.80,878.00) scale(1,1.05)" text-anchor="end" font-size="14">0.4</text>
<text transform="translate(46.80,920.80) scale(1,1.05)" text-anchor="end" font-size="14">0.2</text>
<text transform="translate(52.85,934.80) scale(1,1.05)" text-anchor="middle" font-size="14">0</text>
<text transform="translate(110.16,934.80) scale(1,1.05)" text-anchor="middle" font-size="14">5</text>
<text transform="translate(167.47,934.80) scale(1,1.05)" text-anchor="middle" font-size="14">10</text>
<text transform="translate(224.79,934.80) scale(1,1.05)" text-anchor="middle" font-size="14">15</text>
<text transform="translate(282.10,934.80) scale(1,1.05)" text-anchor="middle" font-size="14">20</text>
<text transform="translate(339.41,934.80) scale(1,1.05)" text-anchor="middle" font-size="14">25</text>
<text transform="translate(396.72,934.80) scale(1,1.05)" text-anchor="middle" font-size="14">30</text>
<text transform="translate(454.04,934.80) scale(1,1.05)" text-anchor="middle" font-size="14">35</text>
<text transform="translate(511.35,934.80) scale(1,1.05)" text-anchor="middle" font-size="14">40</text>
<text transform="translate(64.70,515.80) scale(1,1.05)" text-anchor="start" font-size="19.2">(a) s=1.0</text>
<text transform="translate(64.50,709.00) scale(1,1.05)" text-anchor="start" font-size="19.2">(b) s=0.5</text>
<text transform="translate(66.00,905.80) scale(1,1.05)" text-anchor="start" font-size="19.2">(c) s=2.5</text>
<text transform="translate(15.7,434.25) rotate(-90) scale(1.06,1)" text-anchor="middle" font-size="18.5">P<tspan font-size="12.8" dy="5">x</tspan><tspan dy="-5">(t)</tspan></text>
<text transform="translate(15.7,627.03) rotate(-90) scale(1.06,1)" text-anchor="middle" font-size="18.5">P<tspan font-size="12.8" dy="5">x</tspan><tspan dy="-5">(t)</tspan></text>
<text transform="translate(15.7,819.75) rotate(-90) scale(1.06,1)" text-anchor="middle" font-size="18.5">P<tspan font-size="12.8" dy="5">x</tspan><tspan dy="-5">(t)</tspan></text>
<text transform="translate(282.20,964.30) scale(1,1.05)" text-anchor="middle" font-size="19.2">t</text>
</g>
</svg>
</body></html>
